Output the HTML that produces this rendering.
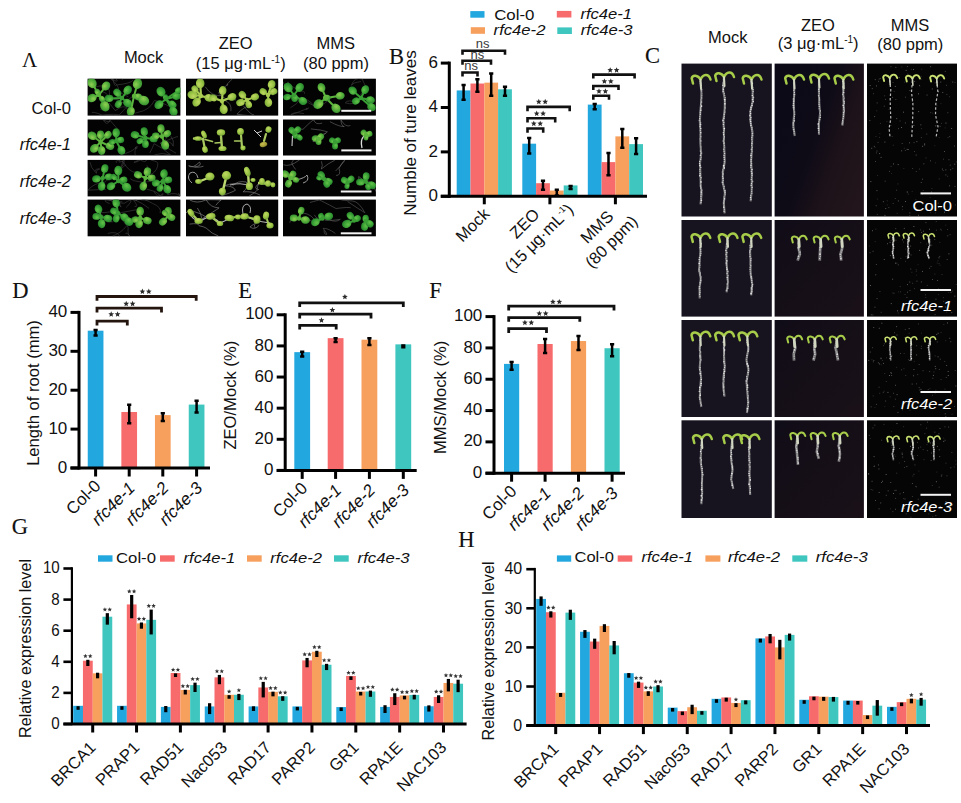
<!DOCTYPE html>
<html><head><meta charset="utf-8"><style>
html,body{margin:0;padding:0;background:#fff;overflow:hidden;}
svg{display:block;}
</style></head><body>
<svg width="961" height="803" viewBox="0 0 961 803">
<defs><radialGradient id="gG" cx="0.4" cy="0.35" r="0.7"><stop offset="0" stop-color="#62c249"/><stop offset="0.6" stop-color="#38a035"/><stop offset="1" stop-color="#247c2a"/></radialGradient><radialGradient id="gL" cx="0.4" cy="0.35" r="0.7"><stop offset="0" stop-color="#90cf52"/><stop offset="0.6" stop-color="#52ad3a"/><stop offset="1" stop-color="#358c30"/></radialGradient><radialGradient id="gY" cx="0.4" cy="0.35" r="0.7"><stop offset="0" stop-color="#bfd862"/><stop offset="0.6" stop-color="#98c244"/><stop offset="1" stop-color="#70a035"/></radialGradient><radialGradient id="gO" cx="0.4" cy="0.35" r="0.7"><stop offset="0" stop-color="#c8c050"/><stop offset="0.6" stop-color="#a8a038"/><stop offset="1" stop-color="#808028"/></radialGradient><linearGradient id="gZ2" x1="0" y1="0" x2="1" y2="1"><stop offset="0" stop-color="#100c17"/><stop offset="1" stop-color="#1a1118"/></linearGradient><linearGradient id="gZ" x1="0" y1="0.2" x2="1" y2="0.8"><stop offset="0" stop-color="#0c0a17"/><stop offset="0.45" stop-color="#0e0b17"/><stop offset="0.7" stop-color="#1d1219"/><stop offset="1" stop-color="#22161c"/></linearGradient><clipPath id="clipA"><rect x="87.6" y="78.7" width="92.8" height="36.9"/><rect x="87.6" y="119.5" width="92.8" height="36.0"/><rect x="87.6" y="159.9" width="92.8" height="36.5"/><rect x="87.6" y="199.6" width="92.8" height="36.7"/><rect x="186" y="78.7" width="92.2" height="36.9"/><rect x="186" y="119.5" width="92.2" height="36.0"/><rect x="186" y="159.9" width="92.2" height="36.5"/><rect x="186" y="199.6" width="92.2" height="36.7"/><rect x="283" y="78.7" width="92.9" height="36.9"/><rect x="283" y="119.5" width="92.9" height="36.0"/><rect x="283" y="159.9" width="92.9" height="36.5"/><rect x="283" y="199.6" width="92.9" height="36.7"/></clipPath><filter id="soft" x="-20%" y="-20%" width="140%" height="140%"><feGaussianBlur stdDeviation="0.45"/></filter></defs>
<rect width="961" height="803" fill="#fff"/>
<text x="12.30" y="297.90" font-size="22.5" text-anchor="start" fill="#111" style="font-family:'Liberation Serif', serif;" stroke="#111" stroke-width="0.15">D</text>
<rect x="87.75" y="330.68" width="15.70" height="137.32" fill="#23a7df"/>
<rect x="121.35" y="411.98" width="15.70" height="56.02" fill="#f86b6c"/>
<rect x="154.95" y="415.10" width="15.70" height="52.90" fill="#f7a05e"/>
<rect x="188.75" y="404.59" width="15.70" height="63.41" fill="#3ec6bf"/>
<path d="M95.60,329.96 V335.41 M93.50,329.96 H97.70 M93.50,335.41 H97.70" stroke="#000" stroke-width="2.5" fill="none"/>
<path d="M129.20,404.65 V423.32 M127.10,404.65 H131.30 M127.10,423.32 H131.30" stroke="#000" stroke-width="2.5" fill="none"/>
<path d="M162.80,413.21 V420.99 M160.70,413.21 H164.90 M160.70,420.99 H164.90" stroke="#000" stroke-width="2.5" fill="none"/>
<path d="M196.60,400.76 V412.43 M194.50,400.76 H198.70 M194.50,412.43 H198.70" stroke="#000" stroke-width="2.5" fill="none"/>
<line x1="79.00" y1="310.90" x2="79.00" y2="469.50" stroke="#000" stroke-width="3"/>
<line x1="70.50" y1="468.00" x2="79.00" y2="468.00" stroke="#000" stroke-width="3"/>
<text x="67.30" y="472.60" font-size="17" text-anchor="end" fill="#111" style="font-family:'Liberation Sans', sans-serif;">0</text>
<line x1="70.50" y1="429.10" x2="79.00" y2="429.10" stroke="#000" stroke-width="3"/>
<text x="67.30" y="433.70" font-size="17" text-anchor="end" fill="#111" style="font-family:'Liberation Sans', sans-serif;">10</text>
<line x1="70.50" y1="390.20" x2="79.00" y2="390.20" stroke="#000" stroke-width="3"/>
<text x="67.30" y="394.80" font-size="17" text-anchor="end" fill="#111" style="font-family:'Liberation Sans', sans-serif;">20</text>
<line x1="70.50" y1="351.30" x2="79.00" y2="351.30" stroke="#000" stroke-width="3"/>
<text x="67.30" y="355.90" font-size="17" text-anchor="end" fill="#111" style="font-family:'Liberation Sans', sans-serif;">30</text>
<line x1="70.50" y1="312.40" x2="79.00" y2="312.40" stroke="#000" stroke-width="3"/>
<text x="67.30" y="317.00" font-size="17" text-anchor="end" fill="#111" style="font-family:'Liberation Sans', sans-serif;">40</text>
<line x1="70.50" y1="468.00" x2="210.00" y2="468.00" stroke="#000" stroke-width="3"/>
<line x1="95.60" y1="468.00" x2="95.60" y2="476.50" stroke="#000" stroke-width="3"/>
<line x1="129.20" y1="468.00" x2="129.20" y2="476.50" stroke="#000" stroke-width="3"/>
<line x1="162.80" y1="468.00" x2="162.80" y2="476.50" stroke="#000" stroke-width="3"/>
<line x1="196.60" y1="468.00" x2="196.60" y2="476.50" stroke="#000" stroke-width="3"/>
<text x="101.80" y="487.00" font-size="17" text-anchor="end" fill="#111" style="font-family:'Liberation Sans', sans-serif;" transform="rotate(-45 101.80 487.00)">Col-0</text>
<text x="136.00" y="489.00" font-size="17" text-anchor="end" fill="#111" style="font-family:'Liberation Sans', sans-serif;font-style:italic;" transform="rotate(-45 136.00 489.00)">rfc4e-1</text>
<text x="169.60" y="489.00" font-size="17" text-anchor="end" fill="#111" style="font-family:'Liberation Sans', sans-serif;font-style:italic;" transform="rotate(-45 169.60 489.00)">rfc4e-2</text>
<text x="203.40" y="489.00" font-size="17" text-anchor="end" fill="#111" style="font-family:'Liberation Sans', sans-serif;font-style:italic;" transform="rotate(-45 203.40 489.00)">rfc4e-3</text>
<text x="38.50" y="393.00" font-size="16.6" text-anchor="middle" fill="#111" style="font-family:'Liberation Sans', sans-serif;" transform="rotate(-90 38.50 393.00)">Length of root (mm)</text>
<path d="M97.00,325.40 V321.20 H127.30 V325.40" fill="none" stroke="#24150f" stroke-width="2.8"/>
<polygon points="111.20,311.30 111.99,313.21 114.05,313.37 112.48,314.72 112.96,316.73 111.20,315.65 109.44,316.73 109.92,314.72 108.35,313.37 110.41,313.21" fill="#2a2a2a"/>
<polygon points="117.60,311.30 118.39,313.21 120.45,313.37 118.88,314.72 119.36,316.73 117.60,315.65 115.84,316.73 116.32,314.72 114.75,313.37 116.81,313.21" fill="#2a2a2a"/>
<path d="M97.00,312.40 V308.20 H161.50 V312.40" fill="none" stroke="#24150f" stroke-width="2.8"/>
<polygon points="126.20,300.80 126.99,302.71 129.05,302.87 127.48,304.22 127.96,306.23 126.20,305.15 124.44,306.23 124.92,304.22 123.35,302.87 125.41,302.71" fill="#2a2a2a"/>
<polygon points="132.60,300.80 133.39,302.71 135.45,302.87 133.88,304.22 134.36,306.23 132.60,305.15 130.84,306.23 131.32,304.22 129.75,302.87 131.81,302.71" fill="#2a2a2a"/>
<path d="M97.00,300.70 V296.50 H196.20 V300.70" fill="none" stroke="#24150f" stroke-width="2.8"/>
<polygon points="142.40,288.60 143.19,290.51 145.25,290.67 143.68,292.02 144.16,294.03 142.40,292.95 140.64,294.03 141.12,292.02 139.55,290.67 141.61,290.51" fill="#2a2a2a"/>
<polygon points="148.80,288.60 149.59,290.51 151.65,290.67 150.08,292.02 150.56,294.03 148.80,292.95 147.04,294.03 147.52,292.02 145.95,290.67 148.01,290.51" fill="#2a2a2a"/>
<text x="238.20" y="297.80" font-size="22.5" text-anchor="start" fill="#111" style="font-family:'Liberation Serif', serif;" stroke="#111" stroke-width="0.15">E</text>
<rect x="294.30" y="352.14" width="15.80" height="118.26" fill="#23a7df"/>
<rect x="327.70" y="338.14" width="15.80" height="132.26" fill="#f86b6c"/>
<rect x="361.50" y="339.70" width="15.80" height="130.70" fill="#f7a05e"/>
<rect x="395.40" y="344.36" width="15.80" height="126.04" fill="#3ec6bf"/>
<path d="M302.20,351.81 V356.48 M300.10,351.81 H304.30 M300.10,356.48 H304.30" stroke="#000" stroke-width="2.5" fill="none"/>
<path d="M335.60,338.27 V342.01 M333.50,338.27 H337.70 M333.50,342.01 H337.70" stroke="#000" stroke-width="2.5" fill="none"/>
<path d="M369.40,338.27 V345.12 M367.30,338.27 H371.50 M367.30,345.12 H371.50" stroke="#000" stroke-width="2.5" fill="none"/>
<path d="M403.30,345.43 V347.30 M401.20,345.43 H405.40 M401.20,347.30 H405.40" stroke="#000" stroke-width="2.5" fill="none"/>
<line x1="285.20" y1="313.30" x2="285.20" y2="471.90" stroke="#000" stroke-width="3"/>
<line x1="276.70" y1="470.40" x2="285.20" y2="470.40" stroke="#000" stroke-width="3"/>
<text x="273.50" y="475.00" font-size="17" text-anchor="end" fill="#111" style="font-family:'Liberation Sans', sans-serif;">0</text>
<line x1="276.70" y1="439.28" x2="285.20" y2="439.28" stroke="#000" stroke-width="3"/>
<text x="273.50" y="443.88" font-size="17" text-anchor="end" fill="#111" style="font-family:'Liberation Sans', sans-serif;">20</text>
<line x1="276.70" y1="408.16" x2="285.20" y2="408.16" stroke="#000" stroke-width="3"/>
<text x="273.50" y="412.76" font-size="17" text-anchor="end" fill="#111" style="font-family:'Liberation Sans', sans-serif;">40</text>
<line x1="276.70" y1="377.04" x2="285.20" y2="377.04" stroke="#000" stroke-width="3"/>
<text x="273.50" y="381.64" font-size="17" text-anchor="end" fill="#111" style="font-family:'Liberation Sans', sans-serif;">60</text>
<line x1="276.70" y1="345.92" x2="285.20" y2="345.92" stroke="#000" stroke-width="3"/>
<text x="273.50" y="350.52" font-size="17" text-anchor="end" fill="#111" style="font-family:'Liberation Sans', sans-serif;">80</text>
<line x1="276.70" y1="314.80" x2="285.20" y2="314.80" stroke="#000" stroke-width="3"/>
<text x="273.50" y="319.40" font-size="17" text-anchor="end" fill="#111" style="font-family:'Liberation Sans', sans-serif;">100</text>
<line x1="276.70" y1="470.40" x2="416.70" y2="470.40" stroke="#000" stroke-width="3"/>
<line x1="302.20" y1="470.40" x2="302.20" y2="478.90" stroke="#000" stroke-width="3"/>
<line x1="335.60" y1="470.40" x2="335.60" y2="478.90" stroke="#000" stroke-width="3"/>
<line x1="369.40" y1="470.40" x2="369.40" y2="478.90" stroke="#000" stroke-width="3"/>
<line x1="403.30" y1="470.40" x2="403.30" y2="478.90" stroke="#000" stroke-width="3"/>
<text x="308.40" y="489.40" font-size="17" text-anchor="end" fill="#111" style="font-family:'Liberation Sans', sans-serif;" transform="rotate(-45 308.40 489.40)">Col-0</text>
<text x="342.40" y="491.40" font-size="17" text-anchor="end" fill="#111" style="font-family:'Liberation Sans', sans-serif;font-style:italic;" transform="rotate(-45 342.40 491.40)">rfc4e-1</text>
<text x="376.20" y="491.40" font-size="17" text-anchor="end" fill="#111" style="font-family:'Liberation Sans', sans-serif;font-style:italic;" transform="rotate(-45 376.20 491.40)">rfc4e-2</text>
<text x="410.10" y="491.40" font-size="17" text-anchor="end" fill="#111" style="font-family:'Liberation Sans', sans-serif;font-style:italic;" transform="rotate(-45 410.10 491.40)">rfc4e-3</text>
<text x="235.80" y="395.20" font-size="16.6" text-anchor="middle" fill="#111" style="font-family:'Liberation Sans', sans-serif;" transform="rotate(-90 235.80 395.20)">ZEO/Mock (%)</text>
<path d="M299.70,329.60 V325.40 H336.20 V329.60" fill="none" stroke="#111" stroke-width="2.8"/>
<polygon points="321.50,317.30 322.29,319.21 324.35,319.37 322.78,320.72 323.26,322.73 321.50,321.65 319.74,322.73 320.22,320.72 318.65,319.37 320.71,319.21" fill="#2a2a2a"/>
<path d="M299.70,318.40 V314.20 H371.00 V318.40" fill="none" stroke="#111" stroke-width="2.8"/>
<polygon points="332.40,307.00 333.19,308.91 335.25,309.07 333.68,310.42 334.16,312.43 332.40,311.35 330.64,312.43 331.12,310.42 329.55,309.07 331.61,308.91" fill="#2a2a2a"/>
<path d="M299.70,307.00 V302.80 H403.30 V307.00" fill="none" stroke="#111" stroke-width="2.8"/>
<polygon points="344.90,293.90 345.69,295.81 347.75,295.97 346.18,297.32 346.66,299.33 344.90,298.25 343.14,299.33 343.62,297.32 342.05,295.97 344.11,295.81" fill="#2a2a2a"/>
<text x="429.20" y="297.70" font-size="22.5" text-anchor="start" fill="#111" style="font-family:'Liberation Serif', serif;" stroke="#111" stroke-width="0.15">F</text>
<rect x="504.00" y="363.89" width="15.20" height="109.31" fill="#23a7df"/>
<rect x="537.50" y="344.00" width="15.20" height="129.19" fill="#f86b6c"/>
<rect x="570.90" y="341.03" width="15.20" height="132.17" fill="#f7a05e"/>
<rect x="604.50" y="348.23" width="15.20" height="124.97" fill="#3ec6bf"/>
<path d="M511.60,361.98 V369.81 M509.50,361.98 H513.70 M509.50,369.81 H513.70" stroke="#000" stroke-width="2.5" fill="none"/>
<path d="M545.10,338.96 V353.05 M543.00,338.96 H547.20 M543.00,353.05 H547.20" stroke="#000" stroke-width="2.5" fill="none"/>
<path d="M578.50,335.98 V350.08 M576.40,335.98 H580.60 M576.40,350.08 H580.60" stroke="#000" stroke-width="2.5" fill="none"/>
<path d="M612.10,344.28 V356.18 M610.00,344.28 H614.20 M610.00,356.18 H614.20" stroke="#000" stroke-width="2.5" fill="none"/>
<line x1="494.00" y1="315.10" x2="494.00" y2="474.70" stroke="#000" stroke-width="3"/>
<line x1="485.50" y1="473.20" x2="494.00" y2="473.20" stroke="#000" stroke-width="3"/>
<text x="482.30" y="477.80" font-size="17" text-anchor="end" fill="#111" style="font-family:'Liberation Sans', sans-serif;">0</text>
<line x1="485.50" y1="441.88" x2="494.00" y2="441.88" stroke="#000" stroke-width="3"/>
<text x="482.30" y="446.48" font-size="17" text-anchor="end" fill="#111" style="font-family:'Liberation Sans', sans-serif;">20</text>
<line x1="485.50" y1="410.56" x2="494.00" y2="410.56" stroke="#000" stroke-width="3"/>
<text x="482.30" y="415.16" font-size="17" text-anchor="end" fill="#111" style="font-family:'Liberation Sans', sans-serif;">40</text>
<line x1="485.50" y1="379.24" x2="494.00" y2="379.24" stroke="#000" stroke-width="3"/>
<text x="482.30" y="383.84" font-size="17" text-anchor="end" fill="#111" style="font-family:'Liberation Sans', sans-serif;">60</text>
<line x1="485.50" y1="347.92" x2="494.00" y2="347.92" stroke="#000" stroke-width="3"/>
<text x="482.30" y="352.52" font-size="17" text-anchor="end" fill="#111" style="font-family:'Liberation Sans', sans-serif;">80</text>
<line x1="485.50" y1="316.60" x2="494.00" y2="316.60" stroke="#000" stroke-width="3"/>
<text x="482.30" y="321.20" font-size="17" text-anchor="end" fill="#111" style="font-family:'Liberation Sans', sans-serif;">100</text>
<line x1="485.50" y1="473.20" x2="625.00" y2="473.20" stroke="#000" stroke-width="3"/>
<line x1="511.60" y1="473.20" x2="511.60" y2="481.70" stroke="#000" stroke-width="3"/>
<line x1="545.10" y1="473.20" x2="545.10" y2="481.70" stroke="#000" stroke-width="3"/>
<line x1="578.50" y1="473.20" x2="578.50" y2="481.70" stroke="#000" stroke-width="3"/>
<line x1="612.10" y1="473.20" x2="612.10" y2="481.70" stroke="#000" stroke-width="3"/>
<text x="517.80" y="492.20" font-size="17" text-anchor="end" fill="#111" style="font-family:'Liberation Sans', sans-serif;" transform="rotate(-45 517.80 492.20)">Col-0</text>
<text x="551.90" y="494.20" font-size="17" text-anchor="end" fill="#111" style="font-family:'Liberation Sans', sans-serif;font-style:italic;" transform="rotate(-45 551.90 494.20)">rfc4e-1</text>
<text x="585.30" y="494.20" font-size="17" text-anchor="end" fill="#111" style="font-family:'Liberation Sans', sans-serif;font-style:italic;" transform="rotate(-45 585.30 494.20)">rfc4e-2</text>
<text x="618.90" y="494.20" font-size="17" text-anchor="end" fill="#111" style="font-family:'Liberation Sans', sans-serif;font-style:italic;" transform="rotate(-45 618.90 494.20)">rfc4e-3</text>
<text x="445.90" y="397.40" font-size="16.6" text-anchor="middle" fill="#111" style="font-family:'Liberation Sans', sans-serif;" transform="rotate(-90 445.90 397.40)">MMS/Mock (%)</text>
<path d="M508.70,332.90 V328.70 H546.50 V332.90" fill="none" stroke="#111" stroke-width="2.8"/>
<polygon points="524.90,319.70 525.69,321.61 527.75,321.77 526.18,323.12 526.66,325.13 524.90,324.05 523.14,325.13 523.62,323.12 522.05,321.77 524.11,321.61" fill="#2a2a2a"/>
<polygon points="531.30,319.70 532.09,321.61 534.15,321.77 532.58,323.12 533.06,325.13 531.30,324.05 529.54,325.13 530.02,323.12 528.45,321.77 530.51,321.61" fill="#2a2a2a"/>
<path d="M508.70,321.80 V317.60 H579.80 V321.80" fill="none" stroke="#111" stroke-width="2.8"/>
<polygon points="539.30,310.50 540.09,312.41 542.15,312.57 540.58,313.92 541.06,315.93 539.30,314.85 537.54,315.93 538.02,313.92 536.45,312.57 538.51,312.41" fill="#2a2a2a"/>
<polygon points="545.70,310.50 546.49,312.41 548.55,312.57 546.98,313.92 547.46,315.93 545.70,314.85 543.94,315.93 544.42,313.92 542.85,312.57 544.91,312.41" fill="#2a2a2a"/>
<path d="M508.70,310.40 V306.20 H614.00 V310.40" fill="none" stroke="#111" stroke-width="2.8"/>
<polygon points="552.90,298.90 553.69,300.81 555.75,300.97 554.18,302.32 554.66,304.33 552.90,303.25 551.14,304.33 551.62,302.32 550.05,300.97 552.11,300.81" fill="#2a2a2a"/>
<polygon points="559.30,298.90 560.09,300.81 562.15,300.97 560.58,302.32 561.06,304.33 559.30,303.25 557.54,304.33 558.02,302.32 556.45,300.97 558.51,300.81" fill="#2a2a2a"/>
<text x="389.00" y="63.80" font-size="22.5" text-anchor="start" fill="#111" style="font-family:'Liberation Serif', serif;" stroke="#111" stroke-width="0.15">B</text>
<rect x="470.30" y="11.10" width="14.20" height="6.60" fill="#23a7df"/>
<text x="494.20" y="19.60" font-size="15" text-anchor="start" fill="#111" style="font-family:'Liberation Sans', sans-serif;" textLength="40.3" lengthAdjust="spacingAndGlyphs">Col-0</text>
<rect x="470.80" y="27.20" width="14.20" height="6.60" fill="#f7a05e"/>
<text x="493.60" y="34.70" font-size="15" text-anchor="start" fill="#111" style="font-family:'Liberation Sans', sans-serif;font-style:italic;" textLength="51.8" lengthAdjust="spacingAndGlyphs">rfc4e-2</text>
<rect x="556.80" y="10.90" width="14.60" height="6.60" fill="#f86b6c"/>
<text x="580.40" y="19.20" font-size="15" text-anchor="start" fill="#111" style="font-family:'Liberation Sans', sans-serif;font-style:italic;" textLength="51.6" lengthAdjust="spacingAndGlyphs">rfc4e-1</text>
<rect x="557.30" y="27.40" width="14.60" height="6.60" fill="#3ec6bf"/>
<text x="580.80" y="34.70" font-size="15" text-anchor="start" fill="#111" style="font-family:'Liberation Sans', sans-serif;font-style:italic;" textLength="51.8" lengthAdjust="spacingAndGlyphs">rfc4e-3</text>
<rect x="456.70" y="90.41" width="13.80" height="105.89" fill="#23a7df"/>
<rect x="470.50" y="83.52" width="13.80" height="112.78" fill="#f86b6c"/>
<rect x="484.30" y="82.64" width="13.80" height="113.66" fill="#f7a05e"/>
<rect x="498.10" y="89.30" width="13.80" height="107.00" fill="#3ec6bf"/>
<path d="M463.60,85.08 V99.73 M461.50,85.08 H465.70 M461.50,99.73 H465.70" stroke="#000" stroke-width="2.5" fill="none"/>
<path d="M477.40,79.31 V91.74 M475.30,79.31 H479.50 M475.30,91.74 H479.50" stroke="#000" stroke-width="2.5" fill="none"/>
<path d="M491.20,73.54 V95.74 M489.10,73.54 H493.30 M489.10,95.74 H493.30" stroke="#000" stroke-width="2.5" fill="none"/>
<path d="M505.00,86.86 V95.74 M502.90,86.86 H507.10 M502.90,95.74 H507.10" stroke="#000" stroke-width="2.5" fill="none"/>
<rect x="522.30" y="143.69" width="13.80" height="52.61" fill="#23a7df"/>
<rect x="536.10" y="183.20" width="13.80" height="13.10" fill="#f86b6c"/>
<rect x="549.90" y="190.53" width="13.80" height="5.77" fill="#f7a05e"/>
<rect x="563.70" y="185.42" width="13.80" height="10.88" fill="#3ec6bf"/>
<path d="M529.20,137.92 V153.46 M527.10,137.92 H531.30 M527.10,153.46 H531.30" stroke="#000" stroke-width="2.5" fill="none"/>
<path d="M543.00,180.76 V189.64 M540.90,180.76 H545.10 M540.90,189.64 H545.10" stroke="#000" stroke-width="2.5" fill="none"/>
<path d="M556.80,189.64 V195.41 M554.70,189.64 H558.90 M554.70,195.41 H558.90" stroke="#000" stroke-width="2.5" fill="none"/>
<path d="M570.60,185.92 V188.92 M568.50,185.92 H572.70 M568.50,188.92 H572.70" stroke="#000" stroke-width="2.5" fill="none"/>
<rect x="587.80" y="104.61" width="13.80" height="91.69" fill="#23a7df"/>
<rect x="601.60" y="162.11" width="13.80" height="34.19" fill="#f86b6c"/>
<rect x="615.40" y="136.36" width="13.80" height="59.94" fill="#f7a05e"/>
<rect x="629.20" y="144.13" width="13.80" height="52.17" fill="#3ec6bf"/>
<path d="M594.70,103.95 V109.28 M592.60,103.95 H596.80 M592.60,109.28 H596.80" stroke="#000" stroke-width="2.5" fill="none"/>
<path d="M608.50,153.01 V175.21 M606.40,153.01 H610.60 M606.40,175.21 H610.60" stroke="#000" stroke-width="2.5" fill="none"/>
<path d="M622.30,129.04 V147.68 M620.20,129.04 H624.40 M620.20,147.68 H624.40" stroke="#000" stroke-width="2.5" fill="none"/>
<path d="M636.10,138.36 V153.90 M634.00,138.36 H638.20 M634.00,153.90 H638.20" stroke="#000" stroke-width="2.5" fill="none"/>
<line x1="449.30" y1="61.60" x2="449.30" y2="197.80" stroke="#000" stroke-width="3"/>
<line x1="440.80" y1="196.30" x2="449.30" y2="196.30" stroke="#000" stroke-width="3"/>
<text x="438.00" y="200.90" font-size="17" text-anchor="end" fill="#111" style="font-family:'Liberation Sans', sans-serif;">0</text>
<line x1="440.80" y1="151.90" x2="449.30" y2="151.90" stroke="#000" stroke-width="3"/>
<text x="438.00" y="156.50" font-size="17" text-anchor="end" fill="#111" style="font-family:'Liberation Sans', sans-serif;">2</text>
<line x1="440.80" y1="107.50" x2="449.30" y2="107.50" stroke="#000" stroke-width="3"/>
<text x="438.00" y="112.10" font-size="17" text-anchor="end" fill="#111" style="font-family:'Liberation Sans', sans-serif;">4</text>
<line x1="440.80" y1="63.10" x2="449.30" y2="63.10" stroke="#000" stroke-width="3"/>
<text x="438.00" y="67.70" font-size="17" text-anchor="end" fill="#111" style="font-family:'Liberation Sans', sans-serif;">6</text>
<line x1="440.80" y1="196.30" x2="647.00" y2="196.30" stroke="#000" stroke-width="3"/>
<line x1="484.30" y1="196.30" x2="484.30" y2="204.30" stroke="#000" stroke-width="3"/>
<line x1="549.90" y1="196.30" x2="549.90" y2="204.30" stroke="#000" stroke-width="3"/>
<line x1="615.40" y1="196.30" x2="615.40" y2="204.30" stroke="#000" stroke-width="3"/>
<text x="416.30" y="133.00" font-size="17" text-anchor="middle" fill="#111" style="font-family:'Liberation Sans', sans-serif;" transform="rotate(-90 416.30 133.00)">Numble of ture leaves</text>
<text x="490.50" y="215.00" font-size="16.5" text-anchor="end" fill="#111" style="font-family:'Liberation Sans', sans-serif;" transform="rotate(-45 490.50 215.00)">Mock</text>
<text x="540.50" y="215.50" font-size="16.5" text-anchor="end" fill="#111" style="font-family:'Liberation Sans', sans-serif;" transform="rotate(-45 540.50 215.50)">ZEO</text>
<text x="574.50" y="210.50" font-size="16.5" text-anchor="end" fill="#111" style="font-family:'Liberation Sans', sans-serif;" transform="rotate(-45 574.50 210.50)">(15 μg·mL<tspan font-size="9" dy="-6.5">-1</tspan><tspan dy="6.5" style="font-weight:300">)</tspan></text>
<text x="614.50" y="217.40" font-size="16.5" text-anchor="end" fill="#111" style="font-family:'Liberation Sans', sans-serif;" transform="rotate(-45 614.50 217.40)">MMS</text>
<text x="638.60" y="222.40" font-size="16.5" text-anchor="end" fill="#111" style="font-family:'Liberation Sans', sans-serif;" transform="rotate(-45 638.60 222.40)">(80 ppm)</text>
<path d="M462.50,76.50 V72.50 H477.50 V76.50" fill="none" stroke="#111" stroke-width="2.6"/>
<text x="471.10" y="70.20" font-size="13" text-anchor="middle" fill="#3a3a3a" style="font-family:'Liberation Sans', sans-serif;">ns</text>
<path d="M462.50,64.70 V60.70 H491.00 V64.70" fill="none" stroke="#111" stroke-width="2.6"/>
<text x="477.30" y="58.90" font-size="13" text-anchor="middle" fill="#3a3a3a" style="font-family:'Liberation Sans', sans-serif;">ns</text>
<path d="M462.50,54.70 V50.70 H505.00 V54.70" fill="none" stroke="#111" stroke-width="2.6"/>
<text x="482.60" y="48.00" font-size="13" text-anchor="middle" fill="#3a3a3a" style="font-family:'Liberation Sans', sans-serif;">ns</text>
<path d="M527.50,132.80 V128.50 H543.20 V132.80" fill="none" stroke="#111" stroke-width="2.6"/>
<polygon points="533.80,120.70 534.59,122.61 536.65,122.77 535.08,124.12 535.56,126.13 533.80,125.05 532.04,126.13 532.52,124.12 530.95,122.77 533.01,122.61" fill="#2a2a2a"/>
<polygon points="540.20,120.70 540.99,122.61 543.05,122.77 541.48,124.12 541.96,126.13 540.20,125.05 538.44,126.13 538.92,124.12 537.35,122.77 539.41,122.61" fill="#2a2a2a"/>
<path d="M527.50,122.60 V118.30 H555.20 V122.60" fill="none" stroke="#111" stroke-width="2.6"/>
<polygon points="536.70,110.60 537.49,112.51 539.55,112.67 537.98,114.02 538.46,116.03 536.70,114.95 534.94,116.03 535.42,114.02 533.85,112.67 535.91,112.51" fill="#2a2a2a"/>
<polygon points="543.10,110.60 543.89,112.51 545.95,112.67 544.38,114.02 544.86,116.03 543.10,114.95 541.34,116.03 541.82,114.02 540.25,112.67 542.31,112.51" fill="#2a2a2a"/>
<path d="M527.50,111.20 V106.90 H569.70 V111.20" fill="none" stroke="#111" stroke-width="2.6"/>
<polygon points="538.80,98.80 539.59,100.71 541.65,100.87 540.08,102.22 540.56,104.23 538.80,103.15 537.04,104.23 537.52,102.22 535.95,100.87 538.01,100.71" fill="#2a2a2a"/>
<polygon points="545.20,98.80 545.99,100.71 548.05,100.87 546.48,102.22 546.96,104.23 545.20,103.15 543.44,104.23 543.92,102.22 542.35,100.87 544.41,100.71" fill="#2a2a2a"/>
<path d="M593.30,99.70 V95.70 H609.00 V99.70" fill="none" stroke="#111" stroke-width="2.6"/>
<polygon points="599.00,88.30 599.79,90.21 601.85,90.37 600.28,91.72 600.76,93.73 599.00,92.65 597.24,93.73 597.72,91.72 596.15,90.37 598.21,90.21" fill="#2a2a2a"/>
<polygon points="605.40,88.30 606.19,90.21 608.25,90.37 606.68,91.72 607.16,93.73 605.40,92.65 603.64,93.73 604.12,91.72 602.55,90.37 604.61,90.21" fill="#2a2a2a"/>
<path d="M593.30,90.00 V86.00 H618.50 V90.00" fill="none" stroke="#111" stroke-width="2.6"/>
<polygon points="604.40,78.40 605.19,80.31 607.25,80.47 605.68,81.82 606.16,83.83 604.40,82.75 602.64,83.83 603.12,81.82 601.55,80.47 603.61,80.31" fill="#2a2a2a"/>
<polygon points="610.80,78.40 611.59,80.31 613.65,80.47 612.08,81.82 612.56,83.83 610.80,82.75 609.04,83.83 609.52,81.82 607.95,80.47 610.01,80.31" fill="#2a2a2a"/>
<path d="M593.30,78.60 V74.60 H634.60 V78.60" fill="none" stroke="#111" stroke-width="2.6"/>
<polygon points="610.20,67.20 610.99,69.11 613.05,69.27 611.48,70.62 611.96,72.63 610.20,71.55 608.44,72.63 608.92,70.62 607.35,69.27 609.41,69.11" fill="#2a2a2a"/>
<polygon points="616.60,67.20 617.39,69.11 619.45,69.27 617.88,70.62 618.36,72.63 616.60,71.55 614.84,72.63 615.32,70.62 613.75,69.27 615.81,69.11" fill="#2a2a2a"/>
<text x="11.80" y="533.70" font-size="22.5" text-anchor="start" fill="#111" style="font-family:'Liberation Serif', serif;" stroke="#111" stroke-width="0.15">G</text>
<rect x="98.00" y="555.30" width="14.50" height="6.40" fill="#23a7df"/>
<text x="116.00" y="563.30" font-size="15" text-anchor="start" fill="#111" style="font-family:'Liberation Sans', sans-serif;" textLength="40.0" lengthAdjust="spacingAndGlyphs">Col-0</text>
<rect x="160.00" y="555.30" width="14.70" height="6.40" fill="#f86b6c"/>
<text x="183.60" y="563.30" font-size="15" text-anchor="start" fill="#111" style="font-family:'Liberation Sans', sans-serif;font-style:italic;" textLength="51.6" lengthAdjust="spacingAndGlyphs">rfc4e-1</text>
<rect x="247.00" y="555.30" width="14.70" height="6.40" fill="#f7a05e"/>
<text x="270.30" y="563.30" font-size="15" text-anchor="start" fill="#111" style="font-family:'Liberation Sans', sans-serif;font-style:italic;" textLength="51.6" lengthAdjust="spacingAndGlyphs">rfc4e-2</text>
<rect x="334.00" y="555.30" width="14.70" height="6.40" fill="#3ec6bf"/>
<text x="357.60" y="563.30" font-size="15" text-anchor="start" fill="#111" style="font-family:'Liberation Sans', sans-serif;font-style:italic;" textLength="52.0" lengthAdjust="spacingAndGlyphs">rfc4e-3</text>
<rect x="73.20" y="705.81" width="9.80" height="18.19" fill="#23a7df"/>
<rect x="82.95" y="660.71" width="9.80" height="63.29" fill="#f86b6c"/>
<rect x="92.70" y="673.31" width="9.80" height="50.69" fill="#f7a05e"/>
<rect x="102.45" y="616.70" width="9.80" height="107.30" fill="#3ec6bf"/>
<rect x="117.05" y="705.81" width="9.80" height="18.19" fill="#23a7df"/>
<rect x="126.80" y="604.42" width="9.80" height="119.58" fill="#f86b6c"/>
<rect x="136.55" y="623.39" width="9.80" height="100.61" fill="#f7a05e"/>
<rect x="146.30" y="619.82" width="9.80" height="104.18" fill="#3ec6bf"/>
<rect x="160.90" y="706.89" width="9.80" height="17.11" fill="#23a7df"/>
<rect x="170.65" y="673.00" width="9.80" height="51.00" fill="#f86b6c"/>
<rect x="180.40" y="689.95" width="9.80" height="34.05" fill="#f7a05e"/>
<rect x="190.15" y="685.12" width="9.80" height="38.88" fill="#3ec6bf"/>
<rect x="204.75" y="706.43" width="9.80" height="17.57" fill="#23a7df"/>
<rect x="214.50" y="677.35" width="9.80" height="46.65" fill="#f86b6c"/>
<rect x="224.25" y="694.77" width="9.80" height="29.23" fill="#f7a05e"/>
<rect x="234.00" y="694.77" width="9.80" height="29.23" fill="#3ec6bf"/>
<rect x="248.60" y="706.43" width="9.80" height="17.57" fill="#23a7df"/>
<rect x="258.35" y="687.46" width="9.80" height="36.54" fill="#f86b6c"/>
<rect x="268.10" y="691.81" width="9.80" height="32.19" fill="#f7a05e"/>
<rect x="277.85" y="696.32" width="9.80" height="27.68" fill="#3ec6bf"/>
<rect x="292.45" y="706.43" width="9.80" height="17.57" fill="#23a7df"/>
<rect x="302.20" y="660.40" width="9.80" height="63.60" fill="#f86b6c"/>
<rect x="311.95" y="651.69" width="9.80" height="72.31" fill="#f7a05e"/>
<rect x="321.70" y="664.75" width="9.80" height="59.25" fill="#3ec6bf"/>
<rect x="336.30" y="707.05" width="9.80" height="16.95" fill="#23a7df"/>
<rect x="346.05" y="675.95" width="9.80" height="48.05" fill="#f86b6c"/>
<rect x="355.80" y="691.50" width="9.80" height="32.50" fill="#f7a05e"/>
<rect x="365.55" y="691.50" width="9.80" height="32.50" fill="#3ec6bf"/>
<rect x="380.15" y="706.89" width="9.80" height="17.11" fill="#23a7df"/>
<rect x="389.90" y="696.94" width="9.80" height="27.06" fill="#f86b6c"/>
<rect x="399.65" y="695.39" width="9.80" height="28.61" fill="#f7a05e"/>
<rect x="409.40" y="694.92" width="9.80" height="29.08" fill="#3ec6bf"/>
<rect x="424.00" y="706.27" width="9.80" height="17.73" fill="#23a7df"/>
<rect x="433.75" y="696.94" width="9.80" height="27.06" fill="#f86b6c"/>
<rect x="443.50" y="682.95" width="9.80" height="41.05" fill="#f7a05e"/>
<rect x="453.25" y="683.73" width="9.80" height="40.27" fill="#3ec6bf"/>
<line x1="78.08" y1="706.21" x2="78.08" y2="709.81" stroke="#000" stroke-width="3.2"/>
<line x1="87.83" y1="659.80" x2="87.83" y2="666.02" stroke="#000" stroke-width="3.2"/>
<polygon points="85.42,653.85 86.05,655.35 87.66,655.48 86.43,656.53 86.81,658.10 85.42,657.26 84.04,658.10 84.42,656.53 83.19,655.48 84.80,655.35" fill="#333"/>
<polygon points="90.22,653.85 90.85,655.35 92.46,655.48 91.23,656.53 91.61,658.10 90.22,657.26 88.84,658.10 89.22,656.53 87.99,655.48 89.60,655.35" fill="#333"/>
<line x1="97.58" y1="672.71" x2="97.58" y2="678.31" stroke="#000" stroke-width="3.2"/>
<line x1="107.33" y1="613.15" x2="107.33" y2="624.66" stroke="#000" stroke-width="3.2"/>
<polygon points="104.92,607.20 105.55,608.70 107.16,608.83 105.93,609.88 106.31,611.45 104.92,610.61 103.54,611.45 103.92,609.88 102.69,608.83 104.30,608.70" fill="#333"/>
<polygon points="109.72,607.20 110.35,608.70 111.96,608.83 110.73,609.88 111.11,611.45 109.72,610.61 108.34,611.45 108.72,609.88 107.49,608.83 109.10,608.70" fill="#333"/>
<line x1="121.93" y1="706.21" x2="121.93" y2="709.81" stroke="#000" stroke-width="3.2"/>
<line x1="131.68" y1="594.96" x2="131.68" y2="618.28" stroke="#000" stroke-width="3.2"/>
<polygon points="129.28,589.01 129.90,590.50 131.51,590.63 130.28,591.68 130.66,593.26 129.28,592.42 127.89,593.26 128.27,591.68 127.04,590.63 128.65,590.50" fill="#333"/>
<polygon points="134.08,589.01 134.70,590.50 136.31,590.63 135.08,591.68 135.46,593.26 134.08,592.42 132.69,593.26 133.07,591.68 131.84,590.63 133.45,590.50" fill="#333"/>
<line x1="141.43" y1="622.48" x2="141.43" y2="628.70" stroke="#000" stroke-width="3.2"/>
<polygon points="139.03,616.53 139.65,618.03 141.26,618.16 140.03,619.21 140.41,620.78 139.03,619.94 137.64,620.78 138.02,619.21 136.79,618.16 138.40,618.03" fill="#333"/>
<polygon points="143.83,616.53 144.45,618.03 146.06,618.16 144.83,619.21 145.21,620.78 143.83,619.94 142.44,620.78 142.82,619.21 141.59,618.16 143.20,618.03" fill="#333"/>
<line x1="151.18" y1="609.58" x2="151.18" y2="634.46" stroke="#000" stroke-width="3.2"/>
<polygon points="148.78,603.62 149.40,605.12 151.01,605.25 149.78,606.30 150.16,607.88 148.78,607.03 147.39,607.88 147.77,606.30 146.54,605.25 148.15,605.12" fill="#333"/>
<polygon points="153.58,603.62 154.20,605.12 155.81,605.25 154.58,606.30 154.96,607.88 153.58,607.03 152.19,607.88 152.57,606.30 151.34,605.25 152.95,605.12" fill="#333"/>
<line x1="165.78" y1="705.99" x2="165.78" y2="712.21" stroke="#000" stroke-width="3.2"/>
<line x1="175.53" y1="673.40" x2="175.53" y2="677.00" stroke="#000" stroke-width="3.2"/>
<polygon points="173.12,667.45 173.75,668.94 175.36,669.07 174.13,670.12 174.51,671.70 173.12,670.85 171.74,671.70 172.12,670.12 170.89,669.07 172.50,668.94" fill="#333"/>
<polygon points="177.93,667.45 178.55,668.94 180.16,669.07 178.93,670.12 179.31,671.70 177.93,670.85 176.54,671.70 176.92,670.12 175.69,669.07 177.30,668.94" fill="#333"/>
<line x1="185.28" y1="689.81" x2="185.28" y2="694.48" stroke="#000" stroke-width="3.2"/>
<polygon points="182.88,683.86 183.50,685.36 185.11,685.49 183.88,686.54 184.26,688.11 182.88,687.27 181.49,688.11 181.87,686.54 180.64,685.49 182.25,685.36" fill="#333"/>
<polygon points="187.68,683.86 188.30,685.36 189.91,685.49 188.68,686.54 189.06,688.11 187.68,687.27 186.29,688.11 186.67,686.54 185.44,685.49 187.05,685.36" fill="#333"/>
<line x1="195.03" y1="682.66" x2="195.03" y2="691.99" stroke="#000" stroke-width="3.2"/>
<polygon points="192.62,676.71 193.25,678.20 194.86,678.33 193.63,679.39 194.01,680.96 192.62,680.12 191.24,680.96 191.62,679.39 190.39,678.33 192.00,678.20" fill="#333"/>
<polygon points="197.43,676.71 198.05,678.20 199.66,678.33 198.43,679.39 198.81,680.96 197.43,680.12 196.04,680.96 196.42,679.39 195.19,678.33 196.80,678.20" fill="#333"/>
<line x1="209.62" y1="703.19" x2="209.62" y2="714.07" stroke="#000" stroke-width="3.2"/>
<line x1="219.38" y1="674.89" x2="219.38" y2="684.22" stroke="#000" stroke-width="3.2"/>
<polygon points="216.97,668.94 217.60,670.43 219.21,670.56 217.98,671.61 218.36,673.19 216.97,672.34 215.59,673.19 215.97,671.61 214.74,670.56 216.35,670.43" fill="#333"/>
<polygon points="221.78,668.94 222.40,670.43 224.01,670.56 222.78,671.61 223.16,673.19 221.78,672.34 220.39,673.19 220.77,671.61 219.54,670.56 221.15,670.43" fill="#333"/>
<line x1="229.12" y1="695.17" x2="229.12" y2="698.77" stroke="#000" stroke-width="3.2"/>
<polygon points="229.12,689.22 229.75,690.71 231.36,690.84 230.13,691.89 230.51,693.47 229.12,692.62 227.74,693.47 228.12,691.89 226.89,690.84 228.50,690.71" fill="#333"/>
<line x1="238.88" y1="693.86" x2="238.88" y2="700.08" stroke="#000" stroke-width="3.2"/>
<polygon points="238.88,687.91 239.50,689.40 241.11,689.53 239.88,690.58 240.26,692.16 238.88,691.31 237.49,692.16 237.87,690.58 236.64,689.53 238.25,689.40" fill="#333"/>
<line x1="253.48" y1="706.30" x2="253.48" y2="710.96" stroke="#000" stroke-width="3.2"/>
<line x1="263.23" y1="681.88" x2="263.23" y2="697.43" stroke="#000" stroke-width="3.2"/>
<polygon points="260.83,675.93 261.45,677.43 263.06,677.56 261.83,678.61 262.21,680.18 260.83,679.34 259.44,680.18 259.82,678.61 258.59,677.56 260.20,677.43" fill="#333"/>
<polygon points="265.63,675.93 266.25,677.43 267.86,677.56 266.63,678.61 267.01,680.18 265.63,679.34 264.24,680.18 264.62,678.61 263.39,677.56 265.00,677.43" fill="#333"/>
<line x1="272.98" y1="691.68" x2="272.98" y2="696.34" stroke="#000" stroke-width="3.2"/>
<polygon points="270.58,685.73 271.20,687.22 272.81,687.35 271.58,688.41 271.96,689.98 270.58,689.14 269.19,689.98 269.57,688.41 268.34,687.35 269.95,687.22" fill="#333"/>
<polygon points="275.38,685.73 276.00,687.22 277.61,687.35 276.38,688.41 276.76,689.98 275.38,689.14 273.99,689.98 274.37,688.41 273.14,687.35 274.75,687.22" fill="#333"/>
<line x1="282.73" y1="696.19" x2="282.73" y2="700.85" stroke="#000" stroke-width="3.2"/>
<polygon points="280.33,690.24 280.95,691.73 282.56,691.86 281.33,692.92 281.71,694.49 280.33,693.65 278.94,694.49 279.32,692.92 278.09,691.86 279.70,691.73" fill="#333"/>
<polygon points="285.13,690.24 285.75,691.73 287.36,691.86 286.13,692.92 286.51,694.49 285.13,693.65 283.74,694.49 284.12,692.92 282.89,691.86 284.50,691.73" fill="#333"/>
<line x1="297.32" y1="706.83" x2="297.32" y2="710.43" stroke="#000" stroke-width="3.2"/>
<line x1="307.07" y1="657.94" x2="307.07" y2="667.27" stroke="#000" stroke-width="3.2"/>
<polygon points="304.68,651.99 305.30,653.48 306.91,653.61 305.68,654.66 306.06,656.24 304.68,655.39 303.29,656.24 303.67,654.66 302.44,653.61 304.05,653.48" fill="#333"/>
<polygon points="309.48,651.99 310.10,653.48 311.71,653.61 310.48,654.66 310.86,656.24 309.48,655.39 308.09,656.24 308.47,654.66 307.24,653.61 308.85,653.48" fill="#333"/>
<line x1="316.82" y1="650.78" x2="316.82" y2="657.00" stroke="#000" stroke-width="3.2"/>
<polygon points="314.43,644.83 315.05,646.33 316.66,646.46 315.43,647.51 315.81,649.08 314.43,648.24 313.04,649.08 313.42,647.51 312.19,646.46 313.80,646.33" fill="#333"/>
<polygon points="319.23,644.83 319.85,646.33 321.46,646.46 320.23,647.51 320.61,649.08 319.23,648.24 317.84,649.08 318.22,647.51 316.99,646.46 318.60,646.33" fill="#333"/>
<line x1="326.57" y1="663.84" x2="326.57" y2="670.06" stroke="#000" stroke-width="3.2"/>
<polygon points="324.18,657.89 324.80,659.39 326.41,659.52 325.18,660.57 325.56,662.15 324.18,661.30 322.79,662.15 323.17,660.57 321.94,659.52 323.55,659.39" fill="#333"/>
<polygon points="328.98,657.89 329.60,659.39 331.21,659.52 329.98,660.57 330.36,662.15 328.98,661.30 327.59,662.15 327.97,660.57 326.74,659.52 328.35,659.39" fill="#333"/>
<line x1="341.18" y1="707.45" x2="341.18" y2="711.05" stroke="#000" stroke-width="3.2"/>
<line x1="350.93" y1="676.35" x2="350.93" y2="679.95" stroke="#000" stroke-width="3.2"/>
<polygon points="348.53,670.40 349.15,671.89 350.76,672.02 349.53,673.08 349.91,674.65 348.53,673.81 347.14,674.65 347.52,673.08 346.29,672.02 347.90,671.89" fill="#333"/>
<polygon points="353.33,670.40 353.95,671.89 355.56,672.02 354.33,673.08 354.71,674.65 353.33,673.81 351.94,674.65 352.32,673.08 351.09,672.02 352.70,671.89" fill="#333"/>
<line x1="360.68" y1="691.90" x2="360.68" y2="695.50" stroke="#000" stroke-width="3.2"/>
<polygon points="358.28,685.95 358.90,687.44 360.51,687.57 359.28,688.63 359.66,690.20 358.28,689.36 356.89,690.20 357.27,688.63 356.04,687.57 357.65,687.44" fill="#333"/>
<polygon points="363.08,685.95 363.70,687.44 365.31,687.57 364.08,688.63 364.46,690.20 363.08,689.36 361.69,690.20 362.07,688.63 360.84,687.57 362.45,687.44" fill="#333"/>
<line x1="370.43" y1="690.59" x2="370.43" y2="696.81" stroke="#000" stroke-width="3.2"/>
<polygon points="368.03,684.64 368.65,686.13 370.26,686.26 369.03,687.32 369.41,688.89 368.03,688.05 366.64,688.89 367.02,687.32 365.79,686.26 367.40,686.13" fill="#333"/>
<polygon points="372.83,684.64 373.45,686.13 375.06,686.26 373.83,687.32 374.21,688.89 372.83,688.05 371.44,688.89 371.82,687.32 370.59,686.26 372.20,686.13" fill="#333"/>
<line x1="385.02" y1="705.21" x2="385.02" y2="712.98" stroke="#000" stroke-width="3.2"/>
<line x1="394.77" y1="693.23" x2="394.77" y2="705.05" stroke="#000" stroke-width="3.2"/>
<polygon points="392.38,687.28 393.00,688.78 394.61,688.91 393.38,689.96 393.76,691.54 392.38,690.69 390.99,691.54 391.37,689.96 390.14,688.91 391.75,688.78" fill="#333"/>
<polygon points="397.18,687.28 397.80,688.78 399.41,688.91 398.18,689.96 398.56,691.54 397.18,690.69 395.79,691.54 396.17,689.96 394.94,688.91 396.55,688.78" fill="#333"/>
<line x1="404.52" y1="695.79" x2="404.52" y2="699.39" stroke="#000" stroke-width="3.2"/>
<polygon points="402.12,689.84 402.75,691.33 404.36,691.46 403.13,692.51 403.51,694.09 402.12,693.25 400.74,694.09 401.12,692.51 399.89,691.46 401.50,691.33" fill="#333"/>
<polygon points="406.93,689.84 407.55,691.33 409.16,691.46 407.93,692.51 408.31,694.09 406.93,693.25 405.54,694.09 405.92,692.51 404.69,691.46 406.30,691.33" fill="#333"/>
<line x1="414.27" y1="694.79" x2="414.27" y2="699.45" stroke="#000" stroke-width="3.2"/>
<polygon points="411.88,688.84 412.50,690.33 414.11,690.46 412.88,691.52 413.26,693.09 411.88,692.25 410.49,693.09 410.87,691.52 409.64,690.46 411.25,690.33" fill="#333"/>
<polygon points="416.68,688.84 417.30,690.33 418.91,690.46 417.68,691.52 418.06,693.09 416.68,692.25 415.29,693.09 415.67,691.52 414.44,690.46 416.05,690.33" fill="#333"/>
<line x1="428.88" y1="705.36" x2="428.88" y2="711.58" stroke="#000" stroke-width="3.2"/>
<line x1="438.62" y1="695.26" x2="438.62" y2="703.03" stroke="#000" stroke-width="3.2"/>
<polygon points="436.23,689.31 436.85,690.80 438.46,690.93 437.23,691.98 437.61,693.56 436.23,692.71 434.84,693.56 435.22,691.98 433.99,690.93 435.60,690.80" fill="#333"/>
<polygon points="441.03,689.31 441.65,690.80 443.26,690.93 442.03,691.98 442.41,693.56 441.03,692.71 439.64,693.56 440.02,691.98 438.79,690.93 440.40,690.80" fill="#333"/>
<line x1="448.38" y1="678.93" x2="448.38" y2="691.37" stroke="#000" stroke-width="3.2"/>
<polygon points="445.98,672.98 446.60,674.47 448.21,674.60 446.98,675.65 447.36,677.23 445.98,676.39 444.59,677.23 444.97,675.65 443.74,674.60 445.35,674.47" fill="#333"/>
<polygon points="450.78,672.98 451.40,674.47 453.01,674.60 451.78,675.65 452.16,677.23 450.78,676.39 449.39,677.23 449.77,675.65 448.54,674.60 450.15,674.47" fill="#333"/>
<line x1="458.12" y1="679.71" x2="458.12" y2="692.15" stroke="#000" stroke-width="3.2"/>
<polygon points="455.73,673.76 456.35,675.25 457.96,675.38 456.73,676.43 457.11,678.01 455.73,677.16 454.34,678.01 454.72,676.43 453.49,675.38 455.10,675.25" fill="#333"/>
<polygon points="460.53,673.76 461.15,675.25 462.76,675.38 461.53,676.43 461.91,678.01 460.53,677.16 459.14,678.01 459.52,676.43 458.29,675.38 459.90,675.25" fill="#333"/>
<line x1="71.90" y1="567.20" x2="71.90" y2="725.10" stroke="#000" stroke-width="2.2"/>
<line x1="63.40" y1="724.00" x2="71.90" y2="724.00" stroke="#000" stroke-width="2.6"/>
<text transform="translate(59.70 728.90) scale(0.89 1)" font-size="17" text-anchor="end" fill="#111" style="font-family:'Liberation Sans', sans-serif">0</text>
<line x1="63.40" y1="692.90" x2="71.90" y2="692.90" stroke="#000" stroke-width="2.6"/>
<text transform="translate(59.70 697.80) scale(0.89 1)" font-size="17" text-anchor="end" fill="#111" style="font-family:'Liberation Sans', sans-serif">2</text>
<line x1="63.40" y1="661.80" x2="71.90" y2="661.80" stroke="#000" stroke-width="2.6"/>
<text transform="translate(59.70 666.70) scale(0.89 1)" font-size="17" text-anchor="end" fill="#111" style="font-family:'Liberation Sans', sans-serif">4</text>
<line x1="63.40" y1="630.70" x2="71.90" y2="630.70" stroke="#000" stroke-width="2.6"/>
<text transform="translate(59.70 635.60) scale(0.89 1)" font-size="17" text-anchor="end" fill="#111" style="font-family:'Liberation Sans', sans-serif">6</text>
<line x1="63.40" y1="599.60" x2="71.90" y2="599.60" stroke="#000" stroke-width="2.6"/>
<text transform="translate(59.70 604.50) scale(0.89 1)" font-size="17" text-anchor="end" fill="#111" style="font-family:'Liberation Sans', sans-serif">8</text>
<line x1="63.40" y1="568.50" x2="71.90" y2="568.50" stroke="#000" stroke-width="2.6"/>
<text transform="translate(59.70 573.40) scale(0.89 1)" font-size="17" text-anchor="end" fill="#111" style="font-family:'Liberation Sans', sans-serif">10</text>
<line x1="63.40" y1="724.00" x2="466.60" y2="724.00" stroke="#000" stroke-width="3"/>
<line x1="92.70" y1="724.00" x2="92.70" y2="732.50" stroke="#000" stroke-width="3"/>
<text x="96.70" y="748.50" font-size="16.5" text-anchor="end" fill="#111" style="font-family:'Liberation Sans', sans-serif;" transform="rotate(-45 96.70 748.50)">BRCA1</text>
<line x1="136.55" y1="724.00" x2="136.55" y2="732.50" stroke="#000" stroke-width="3"/>
<text x="140.55" y="748.50" font-size="16.5" text-anchor="end" fill="#111" style="font-family:'Liberation Sans', sans-serif;" transform="rotate(-45 140.55 748.50)">PRAP1</text>
<line x1="180.40" y1="724.00" x2="180.40" y2="732.50" stroke="#000" stroke-width="3"/>
<text x="184.40" y="748.50" font-size="16.5" text-anchor="end" fill="#111" style="font-family:'Liberation Sans', sans-serif;" transform="rotate(-45 184.40 748.50)">RAD51</text>
<line x1="224.25" y1="724.00" x2="224.25" y2="732.50" stroke="#000" stroke-width="3"/>
<text x="228.25" y="748.50" font-size="16.5" text-anchor="end" fill="#111" style="font-family:'Liberation Sans', sans-serif;" transform="rotate(-45 228.25 748.50)">Nac053</text>
<line x1="268.10" y1="724.00" x2="268.10" y2="732.50" stroke="#000" stroke-width="3"/>
<text x="272.10" y="748.50" font-size="16.5" text-anchor="end" fill="#111" style="font-family:'Liberation Sans', sans-serif;" transform="rotate(-45 272.10 748.50)">RAD17</text>
<line x1="311.95" y1="724.00" x2="311.95" y2="732.50" stroke="#000" stroke-width="3"/>
<text x="315.95" y="748.50" font-size="16.5" text-anchor="end" fill="#111" style="font-family:'Liberation Sans', sans-serif;" transform="rotate(-45 315.95 748.50)">PARP2</text>
<line x1="355.80" y1="724.00" x2="355.80" y2="732.50" stroke="#000" stroke-width="3"/>
<text x="359.80" y="748.50" font-size="16.5" text-anchor="end" fill="#111" style="font-family:'Liberation Sans', sans-serif;" transform="rotate(-45 359.80 748.50)">GR1</text>
<line x1="399.65" y1="724.00" x2="399.65" y2="732.50" stroke="#000" stroke-width="3"/>
<text x="403.65" y="748.50" font-size="16.5" text-anchor="end" fill="#111" style="font-family:'Liberation Sans', sans-serif;" transform="rotate(-45 403.65 748.50)">RPA1E</text>
<line x1="443.50" y1="724.00" x2="443.50" y2="732.50" stroke="#000" stroke-width="3"/>
<text x="447.50" y="748.50" font-size="16.5" text-anchor="end" fill="#111" style="font-family:'Liberation Sans', sans-serif;" transform="rotate(-45 447.50 748.50)">NAC103</text>
<text x="30.50" y="648.50" font-size="16.5" text-anchor="middle" fill="#111" style="font-family:'Liberation Sans', sans-serif;" transform="rotate(-90 30.50 648.50)" textLength="179" lengthAdjust="spacingAndGlyphs">Relative expression level</text>
<text x="458.20" y="547.00" font-size="22.5" text-anchor="start" fill="#111" style="font-family:'Liberation Serif', serif;" stroke="#111" stroke-width="0.15">H</text>
<rect x="556.90" y="555.40" width="14.30" height="6.30" fill="#23a7df"/>
<text x="574.50" y="562.30" font-size="15" text-anchor="start" fill="#111" style="font-family:'Liberation Sans', sans-serif;" textLength="39.5" lengthAdjust="spacingAndGlyphs">Col-0</text>
<rect x="617.70" y="555.40" width="14.60" height="6.30" fill="#f86b6c"/>
<text x="641.50" y="562.30" font-size="15" text-anchor="start" fill="#111" style="font-family:'Liberation Sans', sans-serif;font-style:italic;" textLength="51.5" lengthAdjust="spacingAndGlyphs">rfc4e-1</text>
<rect x="705.40" y="555.40" width="15.00" height="6.30" fill="#f7a05e"/>
<text x="728.00" y="562.30" font-size="15" text-anchor="start" fill="#111" style="font-family:'Liberation Sans', sans-serif;font-style:italic;" textLength="52.0" lengthAdjust="spacingAndGlyphs">rfc4e-2</text>
<rect x="792.30" y="555.40" width="15.00" height="6.30" fill="#3ec6bf"/>
<text x="815.70" y="562.30" font-size="15" text-anchor="start" fill="#111" style="font-family:'Liberation Sans', sans-serif;font-style:italic;" textLength="52.0" lengthAdjust="spacingAndGlyphs">rfc4e-3</text>
<rect x="536.20" y="598.92" width="9.80" height="126.68" fill="#23a7df"/>
<rect x="545.95" y="612.21" width="9.80" height="113.39" fill="#f86b6c"/>
<rect x="555.70" y="692.76" width="9.80" height="32.84" fill="#f7a05e"/>
<rect x="565.45" y="612.60" width="9.80" height="113.00" fill="#3ec6bf"/>
<rect x="580.05" y="631.76" width="9.80" height="93.84" fill="#23a7df"/>
<rect x="589.80" y="641.54" width="9.80" height="84.06" fill="#f86b6c"/>
<rect x="599.55" y="625.89" width="9.80" height="99.71" fill="#f7a05e"/>
<rect x="609.30" y="645.45" width="9.80" height="80.15" fill="#3ec6bf"/>
<rect x="623.90" y="673.21" width="9.80" height="52.39" fill="#23a7df"/>
<rect x="633.65" y="682.59" width="9.80" height="43.01" fill="#f86b6c"/>
<rect x="643.40" y="691.39" width="9.80" height="34.21" fill="#f7a05e"/>
<rect x="653.15" y="686.50" width="9.80" height="39.10" fill="#3ec6bf"/>
<rect x="667.75" y="707.61" width="9.80" height="17.99" fill="#23a7df"/>
<rect x="677.50" y="711.13" width="9.80" height="14.47" fill="#f86b6c"/>
<rect x="687.25" y="707.22" width="9.80" height="18.38" fill="#f7a05e"/>
<rect x="697.00" y="710.74" width="9.80" height="14.86" fill="#3ec6bf"/>
<rect x="711.60" y="698.82" width="9.80" height="26.78" fill="#23a7df"/>
<rect x="721.35" y="697.45" width="9.80" height="28.15" fill="#f86b6c"/>
<rect x="731.10" y="702.92" width="9.80" height="22.68" fill="#f7a05e"/>
<rect x="740.85" y="700.19" width="9.80" height="25.41" fill="#3ec6bf"/>
<rect x="755.45" y="638.41" width="9.80" height="87.19" fill="#23a7df"/>
<rect x="765.20" y="636.45" width="9.80" height="89.15" fill="#f86b6c"/>
<rect x="774.95" y="647.40" width="9.80" height="78.20" fill="#f7a05e"/>
<rect x="784.70" y="634.89" width="9.80" height="90.71" fill="#3ec6bf"/>
<rect x="799.30" y="699.79" width="9.80" height="25.81" fill="#23a7df"/>
<rect x="809.05" y="696.27" width="9.80" height="29.33" fill="#f86b6c"/>
<rect x="818.80" y="696.67" width="9.80" height="28.93" fill="#f7a05e"/>
<rect x="828.55" y="697.06" width="9.80" height="28.54" fill="#3ec6bf"/>
<rect x="843.15" y="700.58" width="9.80" height="25.02" fill="#23a7df"/>
<rect x="852.90" y="700.58" width="9.80" height="25.02" fill="#f86b6c"/>
<rect x="862.65" y="715.04" width="9.80" height="10.56" fill="#f7a05e"/>
<rect x="872.40" y="705.66" width="9.80" height="19.94" fill="#3ec6bf"/>
<rect x="887.00" y="706.83" width="9.80" height="18.77" fill="#23a7df"/>
<rect x="896.75" y="702.14" width="9.80" height="23.46" fill="#f86b6c"/>
<rect x="906.50" y="698.82" width="9.80" height="26.78" fill="#f7a05e"/>
<rect x="916.25" y="699.60" width="9.80" height="26.00" fill="#3ec6bf"/>
<line x1="541.08" y1="596.42" x2="541.08" y2="605.81" stroke="#000" stroke-width="3.2"/>
<line x1="550.83" y1="611.28" x2="550.83" y2="617.54" stroke="#000" stroke-width="3.2"/>
<polygon points="548.43,605.33 549.05,606.83 550.66,606.96 549.43,608.01 549.81,609.58 548.43,608.74 547.04,609.58 547.42,608.01 546.19,606.96 547.80,606.83" fill="#333"/>
<polygon points="553.23,605.33 553.85,606.83 555.46,606.96 554.23,608.01 554.61,609.58 553.23,608.74 551.84,609.58 552.22,608.01 550.99,606.96 552.60,606.83" fill="#333"/>
<line x1="560.58" y1="693.00" x2="560.58" y2="696.91" stroke="#000" stroke-width="3.2"/>
<line x1="570.33" y1="609.72" x2="570.33" y2="619.88" stroke="#000" stroke-width="3.2"/>
<line x1="584.93" y1="630.05" x2="584.93" y2="637.87" stroke="#000" stroke-width="3.2"/>
<line x1="594.68" y1="638.65" x2="594.68" y2="648.82" stroke="#000" stroke-width="3.2"/>
<line x1="604.43" y1="624.19" x2="604.43" y2="632.00" stroke="#000" stroke-width="3.2"/>
<line x1="614.18" y1="641.00" x2="614.18" y2="654.29" stroke="#000" stroke-width="3.2"/>
<line x1="628.78" y1="673.06" x2="628.78" y2="677.75" stroke="#000" stroke-width="3.2"/>
<line x1="638.53" y1="681.66" x2="638.53" y2="687.92" stroke="#000" stroke-width="3.2"/>
<polygon points="636.13,675.71 636.75,677.21 638.36,677.34 637.13,678.39 637.51,679.96 636.13,679.12 634.74,679.96 635.12,678.39 633.89,677.34 635.50,677.21" fill="#333"/>
<polygon points="640.93,675.71 641.55,677.21 643.16,677.34 641.93,678.39 642.31,679.96 640.93,679.12 639.54,679.96 639.92,678.39 638.69,677.34 640.30,677.21" fill="#333"/>
<line x1="648.28" y1="691.24" x2="648.28" y2="695.93" stroke="#000" stroke-width="3.2"/>
<polygon points="645.88,685.29 646.50,686.79 648.11,686.92 646.88,687.97 647.26,689.54 645.88,688.70 644.49,689.54 644.87,687.97 643.64,686.92 645.25,686.79" fill="#333"/>
<polygon points="650.68,685.29 651.30,686.79 652.91,686.92 651.68,687.97 652.06,689.54 650.68,688.70 649.29,689.54 649.67,687.97 648.44,686.92 650.05,686.79" fill="#333"/>
<line x1="658.03" y1="685.18" x2="658.03" y2="692.22" stroke="#000" stroke-width="3.2"/>
<polygon points="655.63,679.23 656.25,680.73 657.86,680.85 656.63,681.91 657.01,683.48 655.63,682.64 654.24,683.48 654.62,681.91 653.39,680.85 655.00,680.73" fill="#333"/>
<polygon points="660.43,679.23 661.05,680.73 662.66,680.85 661.43,681.91 661.81,683.48 660.43,682.64 659.04,683.48 659.42,681.91 658.19,680.85 659.80,680.73" fill="#333"/>
<line x1="672.62" y1="708.01" x2="672.62" y2="711.61" stroke="#000" stroke-width="3.2"/>
<line x1="682.38" y1="711.53" x2="682.38" y2="715.13" stroke="#000" stroke-width="3.2"/>
<line x1="692.12" y1="704.73" x2="692.12" y2="714.12" stroke="#000" stroke-width="3.2"/>
<line x1="701.88" y1="711.14" x2="701.88" y2="714.74" stroke="#000" stroke-width="3.2"/>
<line x1="716.48" y1="699.22" x2="716.48" y2="702.82" stroke="#000" stroke-width="3.2"/>
<line x1="726.23" y1="697.69" x2="726.23" y2="701.60" stroke="#000" stroke-width="3.2"/>
<line x1="735.98" y1="703.17" x2="735.98" y2="707.08" stroke="#000" stroke-width="3.2"/>
<polygon points="735.98,697.22 736.60,698.71 738.21,698.84 736.98,699.89 737.36,701.47 735.98,700.62 734.59,701.47 734.97,699.89 733.74,698.84 735.35,698.71" fill="#333"/>
<line x1="745.73" y1="700.43" x2="745.73" y2="704.34" stroke="#000" stroke-width="3.2"/>
<line x1="760.33" y1="638.65" x2="760.33" y2="642.56" stroke="#000" stroke-width="3.2"/>
<line x1="770.08" y1="633.96" x2="770.08" y2="643.34" stroke="#000" stroke-width="3.2"/>
<line x1="779.83" y1="639.83" x2="779.83" y2="659.38" stroke="#000" stroke-width="3.2"/>
<line x1="789.58" y1="633.57" x2="789.58" y2="640.61" stroke="#000" stroke-width="3.2"/>
<line x1="804.18" y1="700.19" x2="804.18" y2="703.79" stroke="#000" stroke-width="3.2"/>
<line x1="813.93" y1="696.68" x2="813.93" y2="700.27" stroke="#000" stroke-width="3.2"/>
<line x1="823.68" y1="696.91" x2="823.68" y2="700.82" stroke="#000" stroke-width="3.2"/>
<line x1="833.43" y1="696.91" x2="833.43" y2="701.60" stroke="#000" stroke-width="3.2"/>
<line x1="848.03" y1="700.82" x2="848.03" y2="704.73" stroke="#000" stroke-width="3.2"/>
<line x1="857.78" y1="700.98" x2="857.78" y2="704.58" stroke="#000" stroke-width="3.2"/>
<line x1="867.53" y1="715.44" x2="867.53" y2="719.04" stroke="#000" stroke-width="3.2"/>
<line x1="877.28" y1="700.04" x2="877.28" y2="715.68" stroke="#000" stroke-width="3.2"/>
<line x1="891.88" y1="707.23" x2="891.88" y2="710.83" stroke="#000" stroke-width="3.2"/>
<line x1="901.62" y1="702.54" x2="901.62" y2="706.14" stroke="#000" stroke-width="3.2"/>
<line x1="911.38" y1="698.67" x2="911.38" y2="703.36" stroke="#000" stroke-width="3.2"/>
<polygon points="911.38,692.72 912.00,694.21 913.61,694.34 912.38,695.40 912.76,696.97 911.38,696.13 909.99,696.97 910.37,695.40 909.14,694.34 910.75,694.21" fill="#333"/>
<line x1="921.12" y1="697.89" x2="921.12" y2="705.71" stroke="#000" stroke-width="3.2"/>
<polygon points="921.12,691.94 921.75,693.43 923.36,693.56 922.13,694.62 922.51,696.19 921.12,695.35 919.74,696.19 920.12,694.62 918.89,693.56 920.50,693.43" fill="#333"/>
<line x1="534.80" y1="567.90" x2="534.80" y2="726.70" stroke="#000" stroke-width="2.2"/>
<line x1="526.30" y1="725.60" x2="534.80" y2="725.60" stroke="#000" stroke-width="2.6"/>
<text transform="translate(522.20 730.80) scale(0.94 1)" font-size="17" text-anchor="end" fill="#111" style="font-family:'Liberation Sans', sans-serif">0</text>
<line x1="526.30" y1="686.50" x2="534.80" y2="686.50" stroke="#000" stroke-width="2.6"/>
<text transform="translate(522.20 691.70) scale(0.94 1)" font-size="17" text-anchor="end" fill="#111" style="font-family:'Liberation Sans', sans-serif">10</text>
<line x1="526.30" y1="647.40" x2="534.80" y2="647.40" stroke="#000" stroke-width="2.6"/>
<text transform="translate(522.20 652.60) scale(0.94 1)" font-size="17" text-anchor="end" fill="#111" style="font-family:'Liberation Sans', sans-serif">20</text>
<line x1="526.30" y1="608.30" x2="534.80" y2="608.30" stroke="#000" stroke-width="2.6"/>
<text transform="translate(522.20 613.50) scale(0.94 1)" font-size="17" text-anchor="end" fill="#111" style="font-family:'Liberation Sans', sans-serif">30</text>
<line x1="526.30" y1="569.20" x2="534.80" y2="569.20" stroke="#000" stroke-width="2.6"/>
<text transform="translate(522.20 574.40) scale(0.94 1)" font-size="17" text-anchor="end" fill="#111" style="font-family:'Liberation Sans', sans-serif">40</text>
<line x1="526.30" y1="725.60" x2="930.00" y2="725.60" stroke="#000" stroke-width="3"/>
<line x1="555.70" y1="725.60" x2="555.70" y2="734.10" stroke="#000" stroke-width="3"/>
<text x="559.70" y="750.10" font-size="16.5" text-anchor="end" fill="#111" style="font-family:'Liberation Sans', sans-serif;" transform="rotate(-45 559.70 750.10)">BRCA1</text>
<line x1="599.55" y1="725.60" x2="599.55" y2="734.10" stroke="#000" stroke-width="3"/>
<text x="603.55" y="750.10" font-size="16.5" text-anchor="end" fill="#111" style="font-family:'Liberation Sans', sans-serif;" transform="rotate(-45 603.55 750.10)">PRAP1</text>
<line x1="643.40" y1="725.60" x2="643.40" y2="734.10" stroke="#000" stroke-width="3"/>
<text x="647.40" y="750.10" font-size="16.5" text-anchor="end" fill="#111" style="font-family:'Liberation Sans', sans-serif;" transform="rotate(-45 647.40 750.10)">RAD51</text>
<line x1="687.25" y1="725.60" x2="687.25" y2="734.10" stroke="#000" stroke-width="3"/>
<text x="691.25" y="750.10" font-size="16.5" text-anchor="end" fill="#111" style="font-family:'Liberation Sans', sans-serif;" transform="rotate(-45 691.25 750.10)">Nac053</text>
<line x1="731.10" y1="725.60" x2="731.10" y2="734.10" stroke="#000" stroke-width="3"/>
<text x="735.10" y="750.10" font-size="16.5" text-anchor="end" fill="#111" style="font-family:'Liberation Sans', sans-serif;" transform="rotate(-45 735.10 750.10)">RAD17</text>
<line x1="774.95" y1="725.60" x2="774.95" y2="734.10" stroke="#000" stroke-width="3"/>
<text x="778.95" y="750.10" font-size="16.5" text-anchor="end" fill="#111" style="font-family:'Liberation Sans', sans-serif;" transform="rotate(-45 778.95 750.10)">PARP2</text>
<line x1="818.80" y1="725.60" x2="818.80" y2="734.10" stroke="#000" stroke-width="3"/>
<text x="822.80" y="750.10" font-size="16.5" text-anchor="end" fill="#111" style="font-family:'Liberation Sans', sans-serif;" transform="rotate(-45 822.80 750.10)">GR1</text>
<line x1="862.65" y1="725.60" x2="862.65" y2="734.10" stroke="#000" stroke-width="3"/>
<text x="866.65" y="750.10" font-size="16.5" text-anchor="end" fill="#111" style="font-family:'Liberation Sans', sans-serif;" transform="rotate(-45 866.65 750.10)">RPA1E</text>
<line x1="906.50" y1="725.60" x2="906.50" y2="734.10" stroke="#000" stroke-width="3"/>
<text x="910.50" y="750.10" font-size="16.5" text-anchor="end" fill="#111" style="font-family:'Liberation Sans', sans-serif;" transform="rotate(-45 910.50 750.10)">NAC103</text>
<text x="493.70" y="651.00" font-size="16.5" text-anchor="middle" fill="#111" style="font-family:'Liberation Sans', sans-serif;" transform="rotate(-90 493.70 651.00)" textLength="179" lengthAdjust="spacingAndGlyphs">Relative expression level</text>
<rect x="87.60" y="78.70" width="92.80" height="36.90" fill="#030303"/>
<rect x="87.60" y="119.50" width="92.80" height="36.00" fill="#030303"/>
<rect x="87.60" y="159.90" width="92.80" height="36.50" fill="#030303"/>
<rect x="87.60" y="199.60" width="92.80" height="36.70" fill="#030303"/>
<rect x="186.00" y="78.70" width="92.20" height="36.90" fill="#030303"/>
<rect x="186.00" y="119.50" width="92.20" height="36.00" fill="#030303"/>
<rect x="186.00" y="159.90" width="92.20" height="36.50" fill="#030303"/>
<rect x="186.00" y="199.60" width="92.20" height="36.70" fill="#030303"/>
<rect x="283.00" y="78.70" width="92.90" height="36.90" fill="#030303"/>
<rect x="283.00" y="119.50" width="92.90" height="36.00" fill="#030303"/>
<rect x="283.00" y="159.90" width="92.90" height="36.50" fill="#030303"/>
<rect x="283.00" y="199.60" width="92.90" height="36.70" fill="#030303"/>
<g clip-path="url(#clipA)">
<path d="M100.4,109.5 Q105.1,106.0 109.9,103.6 Q107.7,101.4 115.3,110.6 Q124.5,103.8 127.4,108.9" fill="none" stroke="#4a4a4a" stroke-width="0.9" opacity="0.6"/>
<path d="M129.0,105.0 Q128.9,104.4 119.2,115.0 Q115.9,113.6 102.1,115.0 Q91.4,110.7 91.9,113.1" fill="none" stroke="#4a4a4a" stroke-width="0.9" opacity="0.6"/>
<path d="M128.3,96.8 Q120.1,93.1 118.7,90.4 Q118.9,85.4 111.1,79.0 Q119.6,83.3 116.2,79.0" fill="none" stroke="#4a4a4a" stroke-width="0.9" opacity="0.6"/>
<path d="M99.1,91.0 Q108.3,92.6 107.1,96.0 Q110.7,99.1 119.0,100.1 Q125.9,105.4 132.7,108.4" fill="none" stroke="#4a4a4a" stroke-width="0.9" opacity="0.6"/>
<path d="M91.2,87.7 Q92.6,87.3 101.9,85.7 Q104.0,87.0 109.2,89.9 Q109.6,91.9 109.5,96.6" fill="none" stroke="#4a4a4a" stroke-width="0.9" opacity="0.6"/>
<path d="M133.1,80.1 Q130.6,83.6 116.6,84.9 Q114.7,87.8 112.8,79.0 Q122.0,76.3 122.5,80.0" fill="none" stroke="#4a4a4a" stroke-width="0.9" opacity="0.6"/>
<path d="M135.3,113.3 Q133.9,113.4 138.1,112.3 Q149.7,110.2 154.5,100.4 Q165.2,103.6 168.4,106.2" fill="none" stroke="#4a4a4a" stroke-width="0.9" opacity="0.6"/>
<path d="M139.6,94.3 Q132.5,95.2 123.7,103.2 Q122.0,101.2 123.8,102.9 Q125.9,103.8 125.2,105.8" fill="none" stroke="#4a4a4a" stroke-width="0.9" opacity="0.6"/>
</g>
<g clip-path="url(#clipA)">
<path d="M176.0,153.2 Q172.0,151.0 160.0,143.2 Q164.3,142.2 166.1,138.6 Q166.7,133.2 169.0,130.4" fill="none" stroke="#4a4a4a" stroke-width="0.9" opacity="0.6"/>
<path d="M154.5,154.8 Q161.9,152.1 170.7,155.0 Q161.9,147.2 154.0,143.7 Q152.1,149.1 149.7,153.1" fill="none" stroke="#4a4a4a" stroke-width="0.9" opacity="0.6"/>
<path d="M109.7,120.8 Q106.7,126.4 103.4,120.0 Q111.3,123.6 109.7,120.0 Q117.1,128.4 118.1,129.8" fill="none" stroke="#4a4a4a" stroke-width="0.9" opacity="0.6"/>
<path d="M120.5,154.3 Q131.9,152.9 137.2,146.2 Q136.4,151.7 135.8,146.9 Q134.0,155.5 135.8,154.9" fill="none" stroke="#4a4a4a" stroke-width="0.9" opacity="0.6"/>
<path d="M170.8,136.1 Q174.7,141.0 173.2,146.2 Q170.6,140.1 163.2,142.0 Q175.5,136.9 177.9,136.5" fill="none" stroke="#4a4a4a" stroke-width="0.9" opacity="0.6"/>
</g>
<g clip-path="url(#clipA)">
<path d="M109.9,179.6 Q109.1,175.6 105.2,182.1 Q93.7,182.9 88.0,190.2 Q101.0,189.5 105.8,189.5" fill="none" stroke="#4a4a4a" stroke-width="0.9" opacity="0.6"/>
<path d="M146.8,165.4 Q149.5,172.7 151.6,174.3 Q157.8,170.1 157.8,163.8 Q158.6,161.6 150.7,160.0" fill="none" stroke="#4a4a4a" stroke-width="0.9" opacity="0.6"/>
<path d="M154.1,191.6 Q156.7,197.4 161.8,196.0 Q165.4,191.2 159.8,196.0 Q158.9,191.8 146.7,189.2" fill="none" stroke="#4a4a4a" stroke-width="0.9" opacity="0.6"/>
<path d="M145.7,170.8 Q144.0,170.5 145.9,168.1 Q149.6,178.1 148.9,177.8 Q157.4,179.6 161.8,189.6" fill="none" stroke="#4a4a4a" stroke-width="0.9" opacity="0.6"/>
<path d="M167.2,194.7 Q176.2,191.9 180.0,196.0 Q177.4,190.8 180.0,196.0 Q175.1,199.6 180.0,196.0" fill="none" stroke="#4a4a4a" stroke-width="0.9" opacity="0.6"/>
<path d="M125.8,165.4 Q126.5,163.2 118.3,171.9 Q123.0,164.4 122.5,161.0 Q129.4,172.7 136.2,172.5" fill="none" stroke="#4a4a4a" stroke-width="0.9" opacity="0.6"/>
<path d="M116.5,162.8 Q114.7,160.3 120.1,160.0 Q116.6,164.4 124.1,160.0 Q125.5,164.0 117.4,171.0" fill="none" stroke="#4a4a4a" stroke-width="0.9" opacity="0.6"/>
<path d="M130.4,178.7 Q133.7,181.3 135.5,181.0 Q142.6,183.7 151.4,181.2 Q152.4,179.1 142.0,176.4" fill="none" stroke="#4a4a4a" stroke-width="0.9" opacity="0.6"/>
<path d="M138.5,160.4 Q131.2,162.8 135.4,162.3 Q139.3,160.8 140.2,160.0 Q145.9,162.9 146.6,160.0" fill="none" stroke="#4a4a4a" stroke-width="0.9" opacity="0.6"/>
<path d="M90.0,162.2 Q90.2,167.2 96.4,173.3 Q96.4,168.9 99.7,169.0 Q95.0,168.7 95.0,171.3" fill="none" stroke="#4a4a4a" stroke-width="0.9" opacity="0.6"/>
</g>
<g clip-path="url(#clipA)">
<path d="M109.7,203.7 Q102.6,200.7 106.0,200.0 Q116.7,200.3 121.0,207.2 Q117.8,199.8 122.3,201.9" fill="none" stroke="#4a4a4a" stroke-width="0.9" opacity="0.6"/>
<path d="M107.7,233.4 Q117.3,231.0 119.6,236.0 Q118.9,240.3 112.7,236.0 Q120.8,233.1 126.4,226.1" fill="none" stroke="#4a4a4a" stroke-width="0.9" opacity="0.6"/>
<path d="M134.5,206.4 Q139.3,207.6 133.6,200.0 Q139.4,200.9 135.3,200.0 Q142.3,203.1 149.1,208.4" fill="none" stroke="#4a4a4a" stroke-width="0.9" opacity="0.6"/>
<path d="M143.1,215.5 Q140.8,207.7 130.9,210.8 Q120.1,212.8 114.6,213.9 Q120.0,208.3 113.5,210.1" fill="none" stroke="#4a4a4a" stroke-width="0.9" opacity="0.6"/>
<path d="M126.0,207.3 Q126.6,207.6 130.8,201.9 Q132.4,197.8 124.3,203.3 Q119.6,203.1 108.5,200.0" fill="none" stroke="#4a4a4a" stroke-width="0.9" opacity="0.6"/>
<path d="M109.8,211.9 Q98.6,213.8 98.2,210.9 Q108.2,221.9 112.5,221.8 Q109.4,222.6 95.1,216.8" fill="none" stroke="#4a4a4a" stroke-width="0.9" opacity="0.6"/>
<path d="M125.8,234.0 Q125.4,231.3 130.1,236.0 Q127.7,237.2 128.1,227.3 Q119.6,217.4 122.0,215.5" fill="none" stroke="#4a4a4a" stroke-width="0.9" opacity="0.6"/>
<path d="M160.1,213.1 Q162.1,207.3 152.6,203.4 Q142.0,197.7 142.0,200.0 Q139.7,199.9 148.4,200.0" fill="none" stroke="#4a4a4a" stroke-width="0.9" opacity="0.6"/>
</g>
<g clip-path="url(#clipA)">
<path d="M243.3,105.7 Q251.5,115.4 253.9,115.0 Q250.8,116.4 237.0,114.2 Q243.8,106.5 251.4,104.9" fill="none" stroke="#777" stroke-width="0.9" opacity="0.6"/>
<path d="M236.0,99.7 Q224.6,101.3 218.5,92.9 Q226.8,84.4 228.1,84.7 Q224.2,86.3 232.3,79.0" fill="none" stroke="#777" stroke-width="0.9" opacity="0.6"/>
<path d="M205.3,86.8 Q211.4,96.8 222.6,95.7 Q219.8,103.1 224.0,100.0 Q232.2,103.1 230.9,111.2" fill="none" stroke="#777" stroke-width="0.9" opacity="0.6"/>
</g>
<g clip-path="url(#clipA)">
<path d="M259.0,189.6 Q252.7,188.7 258.4,183.9 Q256.4,190.2 257.4,190.1 Q256.0,192.0 249.2,196.0" fill="none" stroke="#888" stroke-width="0.9" opacity="0.7"/>
<path d="M235.5,184.6 Q233.7,182.4 224.5,185.8 Q234.1,186.1 235.4,190.3 Q231.7,192.5 220.7,196.0" fill="none" stroke="#888" stroke-width="0.9" opacity="0.7"/>
<path d="M194.6,167.1 Q202.5,165.7 199.5,162.1 Q192.4,169.1 188.7,165.8 Q197.8,168.4 203.5,166.2" fill="none" stroke="#888" stroke-width="0.9" opacity="0.7"/>
<path d="M260.1,195.1 Q252.8,191.1 243.1,191.8 Q249.3,187.2 246.3,182.0 Q237.2,180.3 232.5,185.9" fill="none" stroke="#888" stroke-width="0.9" opacity="0.7"/>
</g>
<g clip-path="url(#clipA)">
<path d="M215.8,205.4 Q218.9,201.1 221.2,200.0 Q207.7,199.3 205.3,200.2 Q196.7,204.0 189.8,200.0" fill="none" stroke="#888" stroke-width="0.9" opacity="0.7"/>
<path d="M197.4,208.0 Q200.6,212.2 202.0,218.8 Q214.9,210.8 219.1,207.9 Q210.4,207.7 206.3,200.0" fill="none" stroke="#888" stroke-width="0.9" opacity="0.7"/>
<path d="M202.6,220.9 Q205.7,214.2 207.6,217.9 Q201.9,213.5 191.8,210.8 Q188.3,209.4 186.0,212.9" fill="none" stroke="#888" stroke-width="0.9" opacity="0.7"/>
<path d="M259.1,225.2 Q254.8,230.6 249.9,226.9 Q259.8,219.8 258.1,221.9 Q252.5,224.8 255.2,228.0" fill="none" stroke="#888" stroke-width="0.9" opacity="0.7"/>
<path d="M189.6,224.1 Q198.9,222.7 199.1,225.8 Q203.6,226.4 206.2,228.1 Q212.0,234.0 218.4,236.0" fill="none" stroke="#888" stroke-width="0.9" opacity="0.7"/>
</g>
<g clip-path="url(#clipA)">
<path d="M304.1,113.6 Q292.4,111.3 290.6,115.0 Q301.3,111.0 308.6,108.0 Q304.1,111.9 306.9,107.9" fill="none" stroke="#4a4a4a" stroke-width="0.9" opacity="0.6"/>
<path d="M291.3,87.4 Q286.1,89.5 283.0,81.8 Q280.1,86.3 283.0,79.0 Q281.5,82.4 283.0,81.9" fill="none" stroke="#4a4a4a" stroke-width="0.9" opacity="0.6"/>
<path d="M314.5,103.9 Q319.2,106.7 314.4,107.5 Q313.3,102.1 301.5,97.0 Q296.9,105.1 290.5,107.7" fill="none" stroke="#4a4a4a" stroke-width="0.9" opacity="0.6"/>
<path d="M364.9,89.3 Q358.0,97.0 359.8,98.4 Q355.0,106.0 345.3,102.9 Q347.8,98.8 357.7,103.0" fill="none" stroke="#4a4a4a" stroke-width="0.9" opacity="0.6"/>
<path d="M332.2,97.4 Q324.5,104.6 316.7,107.0 Q305.8,102.1 306.7,100.9 Q301.0,104.0 298.3,99.0" fill="none" stroke="#4a4a4a" stroke-width="0.9" opacity="0.6"/>
<path d="M365.9,85.3 Q366.0,87.9 362.2,79.0 Q354.4,76.4 351.4,85.4 Q352.2,82.7 361.0,81.6" fill="none" stroke="#4a4a4a" stroke-width="0.9" opacity="0.6"/>
<path d="M304.5,93.8 Q304.6,90.2 302.6,91.8 Q290.6,87.1 288.0,81.8 Q285.6,88.0 283.0,89.2" fill="none" stroke="#4a4a4a" stroke-width="0.9" opacity="0.6"/>
</g>
<g clip-path="url(#clipA)">
<path d="M326.1,133.1 Q313.6,137.5 313.0,141.9 Q320.9,138.2 327.4,131.8 Q321.6,129.8 310.9,128.9" fill="none" stroke="#777" stroke-width="0.9" opacity="0.6"/>
<path d="M350.4,125.5 Q345.8,127.8 341.0,120.0 Q341.2,126.2 344.3,126.6 Q339.2,126.8 329.9,121.6" fill="none" stroke="#777" stroke-width="0.9" opacity="0.6"/>
<path d="M322.2,123.1 Q315.4,125.2 313.8,120.0 Q313.0,119.3 303.0,129.3 Q295.1,128.3 298.6,129.1" fill="none" stroke="#777" stroke-width="0.9" opacity="0.6"/>
</g>
<g clip-path="url(#clipA)">
<path d="M336.1,175.4 Q341.3,175.8 339.0,168.4 Q342.0,162.2 344.5,160.2 Q345.9,160.2 335.5,171.1" fill="none" stroke="#777" stroke-width="0.9" opacity="0.6"/>
<path d="M363.0,181.7 Q363.0,178.6 358.7,176.5 Q357.7,181.7 365.4,180.4 Q372.1,180.6 376.0,191.7" fill="none" stroke="#777" stroke-width="0.9" opacity="0.6"/>
<path d="M283.4,164.8 Q289.7,167.2 299.3,160.1 Q295.1,155.5 292.6,161.3 Q290.0,162.1 295.6,169.5" fill="none" stroke="#777" stroke-width="0.9" opacity="0.6"/>
<path d="M321.4,161.3 Q323.2,165.5 321.3,169.0 Q328.5,163.2 334.1,160.6 Q339.2,155.4 337.7,160.0" fill="none" stroke="#777" stroke-width="0.9" opacity="0.6"/>
</g>
<g clip-path="url(#clipA)">
<path d="M325.1,220.2 Q332.8,220.8 340.3,219.3 Q336.2,223.0 329.0,219.6 Q316.8,221.0 314.4,214.9" fill="none" stroke="#666" stroke-width="0.9" opacity="0.6"/>
<path d="M347.5,201.5 Q358.0,208.5 364.8,212.7 Q359.0,201.6 352.5,201.0 Q341.3,200.1 341.4,200.0" fill="none" stroke="#666" stroke-width="0.9" opacity="0.6"/>
<path d="M324.0,230.3 Q324.3,234.0 324.7,233.7 Q329.9,237.0 323.1,228.4 Q327.0,227.6 335.4,233.4" fill="none" stroke="#666" stroke-width="0.9" opacity="0.6"/>
<path d="M309.9,202.5 Q318.8,200.0 319.5,200.1 Q321.7,200.8 336.0,208.5 Q349.1,206.9 350.7,207.8" fill="none" stroke="#666" stroke-width="0.9" opacity="0.6"/>
<path d="M289.8,222.7 Q289.9,217.9 299.8,217.1 Q303.6,217.2 316.5,223.3 Q312.9,214.2 302.2,212.8" fill="none" stroke="#666" stroke-width="0.9" opacity="0.6"/>
</g>
<g clip-path="url(#clipA)"><g filter="url(#soft)">
<line x1="99.0" y1="95.0" x2="92.0" y2="83.0" stroke="#5cb43e" stroke-width="2.0" stroke-linecap="round"/>
<line x1="99.0" y1="95.0" x2="106.0" y2="86.0" stroke="#5cb43e" stroke-width="2.0" stroke-linecap="round"/>
<line x1="99.0" y1="95.0" x2="92.0" y2="98.0" stroke="#5cb43e" stroke-width="2.0" stroke-linecap="round"/>
<line x1="99.0" y1="95.0" x2="104.8" y2="106.2" stroke="#5cb43e" stroke-width="2.0" stroke-linecap="round"/>
<line x1="99.0" y1="95.0" x2="97.5" y2="92.0" stroke="#5cb43e" stroke-width="2.0" stroke-linecap="round"/>
<line x1="99.0" y1="95.0" x2="102.0" y2="99.0" stroke="#5cb43e" stroke-width="2.0" stroke-linecap="round"/>
<ellipse cx="92.0" cy="83.0" rx="5.3" ry="4.5" transform="rotate(-120 92.0 83.0)" fill="url(#gL)"/>
<ellipse cx="106.0" cy="86.0" rx="4.8" ry="4.0" transform="rotate(-52 106.0 86.0)" fill="url(#gL)"/>
<ellipse cx="92.0" cy="98.0" rx="4.8" ry="4.0" transform="rotate(157 92.0 98.0)" fill="url(#gL)"/>
<ellipse cx="104.8" cy="106.2" rx="5.4" ry="4.6" transform="rotate(63 104.8 106.2)" fill="url(#gL)"/>
<ellipse cx="97.5" cy="92.0" rx="3.3" ry="2.8" transform="rotate(-117 97.5 92.0)" fill="url(#gL)"/>
<ellipse cx="102.0" cy="99.0" rx="3.3" ry="2.8" transform="rotate(53 102.0 99.0)" fill="url(#gL)"/>
<circle cx="99.0" cy="95.0" r="2.2" fill="#5cb43e"/>
</g></g>
<g clip-path="url(#clipA)"><g filter="url(#soft)">
<line x1="122.0" y1="98.0" x2="117.3" y2="92.7" stroke="#3a9e35" stroke-width="2.0" stroke-linecap="round"/>
<line x1="122.0" y1="98.0" x2="127.7" y2="90.1" stroke="#3a9e35" stroke-width="2.0" stroke-linecap="round"/>
<line x1="122.0" y1="98.0" x2="118.3" y2="104.1" stroke="#3a9e35" stroke-width="2.0" stroke-linecap="round"/>
<line x1="122.0" y1="98.0" x2="127.7" y2="103.1" stroke="#3a9e35" stroke-width="2.0" stroke-linecap="round"/>
<line x1="122.0" y1="98.0" x2="109.0" y2="98.4" stroke="#3a9e35" stroke-width="2.0" stroke-linecap="round"/>
<ellipse cx="117.3" cy="92.7" rx="4.3" ry="3.6" transform="rotate(-132 117.3 92.7)" fill="url(#gG)"/>
<ellipse cx="127.7" cy="90.1" rx="4.8" ry="4.0" transform="rotate(-54 127.7 90.1)" fill="url(#gG)"/>
<ellipse cx="118.3" cy="104.1" rx="3.9" ry="3.3" transform="rotate(121 118.3 104.1)" fill="url(#gG)"/>
<ellipse cx="127.7" cy="103.1" rx="4.8" ry="4.0" transform="rotate(42 127.7 103.1)" fill="url(#gG)"/>
<ellipse cx="109.0" cy="98.4" rx="4.3" ry="3.6" transform="rotate(178 109.0 98.4)" fill="url(#gG)"/>
<circle cx="122.0" cy="98.0" r="2.2" fill="#3a9e35"/>
</g></g>
<g clip-path="url(#clipA)"><g filter="url(#soft)">
<line x1="134.0" y1="96.0" x2="137.5" y2="83.8" stroke="#5cb43e" stroke-width="2.0" stroke-linecap="round"/>
<line x1="134.0" y1="96.0" x2="130.8" y2="111.4" stroke="#5cb43e" stroke-width="2.0" stroke-linecap="round"/>
<line x1="134.0" y1="96.0" x2="138.0" y2="96.9" stroke="#5cb43e" stroke-width="2.0" stroke-linecap="round"/>
<line x1="134.0" y1="96.0" x2="143.8" y2="100.5" stroke="#5cb43e" stroke-width="2.0" stroke-linecap="round"/>
<ellipse cx="137.5" cy="83.8" rx="5.4" ry="4.6" transform="rotate(-74 137.5 83.8)" fill="url(#gL)"/>
<ellipse cx="130.8" cy="111.4" rx="4.8" ry="4.0" transform="rotate(102 130.8 111.4)" fill="url(#gL)"/>
<ellipse cx="138.0" cy="96.9" rx="4.0" ry="3.4" transform="rotate(13 138.0 96.9)" fill="url(#gL)"/>
<ellipse cx="143.8" cy="100.5" rx="5.5" ry="4.7" transform="rotate(25 143.8 100.5)" fill="url(#gL)"/>
<circle cx="134.0" cy="96.0" r="2.2" fill="#5cb43e"/>
</g></g>
<g clip-path="url(#clipA)"><g filter="url(#soft)">
<line x1="166.0" y1="99.0" x2="161.0" y2="91.6" stroke="#3a9e35" stroke-width="2.0" stroke-linecap="round"/>
<line x1="166.0" y1="99.0" x2="158.9" y2="104.7" stroke="#3a9e35" stroke-width="2.0" stroke-linecap="round"/>
<line x1="166.0" y1="99.0" x2="165.6" y2="97.4" stroke="#3a9e35" stroke-width="2.0" stroke-linecap="round"/>
<line x1="166.0" y1="99.0" x2="176.6" y2="96.3" stroke="#3a9e35" stroke-width="2.0" stroke-linecap="round"/>
<line x1="166.0" y1="99.0" x2="172.4" y2="104.7" stroke="#3a9e35" stroke-width="2.0" stroke-linecap="round"/>
<line x1="166.0" y1="99.0" x2="173.4" y2="111.4" stroke="#3a9e35" stroke-width="2.0" stroke-linecap="round"/>
<line x1="166.0" y1="99.0" x2="178.5" y2="90.5" stroke="#3a9e35" stroke-width="2.0" stroke-linecap="round"/>
<ellipse cx="161.0" cy="91.6" rx="5.0" ry="4.3" transform="rotate(-124 161.0 91.6)" fill="url(#gG)"/>
<ellipse cx="158.9" cy="104.7" rx="4.8" ry="4.0" transform="rotate(141 158.9 104.7)" fill="url(#gG)"/>
<ellipse cx="165.6" cy="97.4" rx="3.1" ry="2.7" transform="rotate(-104 165.6 97.4)" fill="url(#gG)"/>
<ellipse cx="176.6" cy="96.3" rx="4.3" ry="3.6" transform="rotate(-14 176.6 96.3)" fill="url(#gG)"/>
<ellipse cx="172.4" cy="104.7" rx="4.3" ry="3.6" transform="rotate(42 172.4 104.7)" fill="url(#gG)"/>
<ellipse cx="173.4" cy="111.4" rx="4.8" ry="4.0" transform="rotate(59 173.4 111.4)" fill="url(#gG)"/>
<ellipse cx="178.5" cy="90.5" rx="3.5" ry="3.0" transform="rotate(-34 178.5 90.5)" fill="url(#gG)"/>
<circle cx="166.0" cy="99.0" r="2.2" fill="#3a9e35"/>
</g></g>
<g clip-path="url(#clipA)"><g filter="url(#soft)">
<line x1="201.0" y1="96.0" x2="200.2" y2="83.3" stroke="#a9cc52" stroke-width="2.2" stroke-linecap="round"/>
<line x1="201.0" y1="96.0" x2="192.5" y2="94.8" stroke="#a9cc52" stroke-width="2.2" stroke-linecap="round"/>
<line x1="201.0" y1="96.0" x2="196.6" y2="102.0" stroke="#a9cc52" stroke-width="2.2" stroke-linecap="round"/>
<line x1="201.0" y1="96.0" x2="209.0" y2="97.9" stroke="#a9cc52" stroke-width="2.2" stroke-linecap="round"/>
<line x1="201.0" y1="96.0" x2="195.0" y2="89.0" stroke="#a9cc52" stroke-width="2.2" stroke-linecap="round"/>
<ellipse cx="200.2" cy="83.3" rx="5.0" ry="4.3" transform="rotate(-94 200.2 83.3)" fill="url(#gY)"/>
<ellipse cx="192.5" cy="94.8" rx="5.0" ry="4.3" transform="rotate(-172 192.5 94.8)" fill="url(#gY)"/>
<ellipse cx="196.6" cy="102.0" rx="4.8" ry="4.0" transform="rotate(126 196.6 102.0)" fill="url(#gY)"/>
<ellipse cx="209.0" cy="97.9" rx="4.5" ry="3.8" transform="rotate(13 209.0 97.9)" fill="url(#gY)"/>
<ellipse cx="195.0" cy="89.0" rx="3.8" ry="3.2" transform="rotate(-131 195.0 89.0)" fill="url(#gY)"/>
<circle cx="201.0" cy="96.0" r="2.2" fill="#a9cc52"/>
</g></g>
<g clip-path="url(#clipA)"><g filter="url(#soft)">
<line x1="222.0" y1="101.0" x2="222.7" y2="90.6" stroke="#a9cc52" stroke-width="2.2" stroke-linecap="round"/>
<line x1="222.0" y1="101.0" x2="232.0" y2="96.9" stroke="#a9cc52" stroke-width="2.2" stroke-linecap="round"/>
<line x1="222.0" y1="101.0" x2="223.7" y2="109.3" stroke="#a9cc52" stroke-width="2.2" stroke-linecap="round"/>
<line x1="222.0" y1="101.0" x2="213.3" y2="97.9" stroke="#a9cc52" stroke-width="2.2" stroke-linecap="round"/>
<ellipse cx="222.7" cy="90.6" rx="4.5" ry="3.8" transform="rotate(-86 222.7 90.6)" fill="url(#gY)"/>
<ellipse cx="232.0" cy="96.9" rx="4.5" ry="3.8" transform="rotate(-22 232.0 96.9)" fill="url(#gY)"/>
<ellipse cx="223.7" cy="109.3" rx="4.8" ry="4.0" transform="rotate(78 223.7 109.3)" fill="url(#gY)"/>
<ellipse cx="213.3" cy="97.9" rx="4.0" ry="3.4" transform="rotate(-160 213.3 97.9)" fill="url(#gY)"/>
<circle cx="222.0" cy="101.0" r="2.2" fill="#a9cc52"/>
</g></g>
<g clip-path="url(#clipA)"><g filter="url(#soft)">
<line x1="247.0" y1="100.0" x2="242.4" y2="94.8" stroke="#a9cc52" stroke-width="2.0" stroke-linecap="round"/>
<line x1="247.0" y1="100.0" x2="240.4" y2="102.5" stroke="#a9cc52" stroke-width="2.0" stroke-linecap="round"/>
<line x1="247.0" y1="100.0" x2="255.0" y2="96.9" stroke="#a9cc52" stroke-width="2.0" stroke-linecap="round"/>
<line x1="247.0" y1="100.0" x2="248.7" y2="104.5" stroke="#a9cc52" stroke-width="2.0" stroke-linecap="round"/>
<ellipse cx="242.4" cy="94.8" rx="4.0" ry="3.4" transform="rotate(-131 242.4 94.8)" fill="url(#gY)"/>
<ellipse cx="240.4" cy="102.5" rx="4.3" ry="3.6" transform="rotate(159 240.4 102.5)" fill="url(#gY)"/>
<ellipse cx="255.0" cy="96.9" rx="4.1" ry="3.5" transform="rotate(-21 255.0 96.9)" fill="url(#gY)"/>
<ellipse cx="248.7" cy="104.5" rx="3.8" ry="3.2" transform="rotate(69 248.7 104.5)" fill="url(#gY)"/>
<circle cx="247.0" cy="100.0" r="2.2" fill="#a9cc52"/>
</g></g>
<g clip-path="url(#clipA)"><g filter="url(#soft)">
<line x1="268.0" y1="95.0" x2="271.6" y2="84.4" stroke="#a9cc52" stroke-width="2.0" stroke-linecap="round"/>
<line x1="268.0" y1="95.0" x2="263.2" y2="91.6" stroke="#a9cc52" stroke-width="2.0" stroke-linecap="round"/>
<line x1="268.0" y1="95.0" x2="273.7" y2="91.6" stroke="#a9cc52" stroke-width="2.0" stroke-linecap="round"/>
<line x1="268.0" y1="95.0" x2="268.4" y2="102.5" stroke="#a9cc52" stroke-width="2.0" stroke-linecap="round"/>
<ellipse cx="271.6" cy="84.4" rx="4.5" ry="3.8" transform="rotate(-71 271.6 84.4)" fill="url(#gY)"/>
<ellipse cx="263.2" cy="91.6" rx="3.8" ry="3.2" transform="rotate(-145 263.2 91.6)" fill="url(#gY)"/>
<ellipse cx="273.7" cy="91.6" rx="3.8" ry="3.2" transform="rotate(-31 273.7 91.6)" fill="url(#gY)"/>
<ellipse cx="268.4" cy="102.5" rx="4.5" ry="3.8" transform="rotate(87 268.4 102.5)" fill="url(#gY)"/>
<circle cx="268.0" cy="95.0" r="2.2" fill="#a9cc52"/>
</g></g>
<g clip-path="url(#clipA)"><g filter="url(#soft)">
<line x1="294.0" y1="95.0" x2="288.2" y2="87.5" stroke="#3a9e35" stroke-width="2.0" stroke-linecap="round"/>
<line x1="294.0" y1="95.0" x2="299.7" y2="87.5" stroke="#3a9e35" stroke-width="2.0" stroke-linecap="round"/>
<line x1="294.0" y1="95.0" x2="294.5" y2="98.0" stroke="#3a9e35" stroke-width="2.0" stroke-linecap="round"/>
<line x1="294.0" y1="95.0" x2="302.8" y2="101.0" stroke="#3a9e35" stroke-width="2.0" stroke-linecap="round"/>
<line x1="294.0" y1="95.0" x2="287.0" y2="97.0" stroke="#3a9e35" stroke-width="2.0" stroke-linecap="round"/>
<ellipse cx="288.2" cy="87.5" rx="5.0" ry="4.3" transform="rotate(-128 288.2 87.5)" fill="url(#gG)"/>
<ellipse cx="299.7" cy="87.5" rx="4.8" ry="4.0" transform="rotate(-53 299.7 87.5)" fill="url(#gG)"/>
<ellipse cx="294.5" cy="98.0" rx="4.0" ry="3.4" transform="rotate(81 294.5 98.0)" fill="url(#gG)"/>
<ellipse cx="302.8" cy="101.0" rx="4.5" ry="3.8" transform="rotate(34 302.8 101.0)" fill="url(#gG)"/>
<ellipse cx="287.0" cy="97.0" rx="3.8" ry="3.2" transform="rotate(164 287.0 97.0)" fill="url(#gG)"/>
<circle cx="294.0" cy="95.0" r="2.2" fill="#3a9e35"/>
</g></g>
<g clip-path="url(#clipA)"><g filter="url(#soft)">
<line x1="326.0" y1="98.0" x2="321.5" y2="87.5" stroke="#5cb43e" stroke-width="2.0" stroke-linecap="round"/>
<line x1="326.0" y1="98.0" x2="318.4" y2="104.1" stroke="#5cb43e" stroke-width="2.0" stroke-linecap="round"/>
<line x1="326.0" y1="98.0" x2="326.7" y2="97.9" stroke="#5cb43e" stroke-width="2.0" stroke-linecap="round"/>
<line x1="326.0" y1="98.0" x2="336.0" y2="108.3" stroke="#5cb43e" stroke-width="2.0" stroke-linecap="round"/>
<line x1="326.0" y1="98.0" x2="340.2" y2="95.8" stroke="#5cb43e" stroke-width="2.0" stroke-linecap="round"/>
<ellipse cx="321.5" cy="87.5" rx="4.5" ry="3.8" transform="rotate(-113 321.5 87.5)" fill="url(#gL)"/>
<ellipse cx="318.4" cy="104.1" rx="5.3" ry="4.5" transform="rotate(141 318.4 104.1)" fill="url(#gL)"/>
<ellipse cx="326.7" cy="97.9" rx="3.8" ry="3.2" transform="rotate(-8 326.7 97.9)" fill="url(#gL)"/>
<ellipse cx="336.0" cy="108.3" rx="5.0" ry="4.3" transform="rotate(46 336.0 108.3)" fill="url(#gL)"/>
<ellipse cx="340.2" cy="95.8" rx="4.5" ry="3.8" transform="rotate(-9 340.2 95.8)" fill="url(#gL)"/>
<circle cx="326.0" cy="98.0" r="2.2" fill="#5cb43e"/>
</g></g>
<g clip-path="url(#clipA)"><g filter="url(#soft)">
<line x1="361.0" y1="98.0" x2="352.7" y2="90.6" stroke="#3a9e35" stroke-width="2.0" stroke-linecap="round"/>
<line x1="361.0" y1="98.0" x2="355.9" y2="101.0" stroke="#3a9e35" stroke-width="2.0" stroke-linecap="round"/>
<line x1="361.0" y1="98.0" x2="365.2" y2="89.6" stroke="#3a9e35" stroke-width="2.0" stroke-linecap="round"/>
<line x1="361.0" y1="98.0" x2="370.4" y2="100.0" stroke="#3a9e35" stroke-width="2.0" stroke-linecap="round"/>
<line x1="361.0" y1="98.0" x2="371.5" y2="107.2" stroke="#3a9e35" stroke-width="2.0" stroke-linecap="round"/>
<ellipse cx="352.7" cy="90.6" rx="4.5" ry="3.8" transform="rotate(-138 352.7 90.6)" fill="url(#gG)"/>
<ellipse cx="355.9" cy="101.0" rx="4.0" ry="3.4" transform="rotate(150 355.9 101.0)" fill="url(#gG)"/>
<ellipse cx="365.2" cy="89.6" rx="4.5" ry="3.8" transform="rotate(-63 365.2 89.6)" fill="url(#gG)"/>
<ellipse cx="370.4" cy="100.0" rx="4.5" ry="3.8" transform="rotate(12 370.4 100.0)" fill="url(#gG)"/>
<ellipse cx="371.5" cy="107.2" rx="4.5" ry="3.8" transform="rotate(41 371.5 107.2)" fill="url(#gG)"/>
<circle cx="361.0" cy="98.0" r="2.2" fill="#3a9e35"/>
</g></g>
<line x1="341.30" y1="110.80" x2="371.20" y2="110.80" stroke="#f4f4f4" stroke-width="2"/>
<g clip-path="url(#clipA)"><g filter="url(#soft)">
<line x1="100.6" y1="142.0" x2="92.3" y2="135.8" stroke="#5cb43e" stroke-width="2.0" stroke-linecap="round"/>
<line x1="100.6" y1="142.0" x2="100.6" y2="134.8" stroke="#5cb43e" stroke-width="2.0" stroke-linecap="round"/>
<line x1="100.6" y1="142.0" x2="107.9" y2="134.8" stroke="#5cb43e" stroke-width="2.0" stroke-linecap="round"/>
<line x1="100.6" y1="142.0" x2="94.4" y2="148.3" stroke="#5cb43e" stroke-width="2.0" stroke-linecap="round"/>
<line x1="100.6" y1="142.0" x2="101.6" y2="150.4" stroke="#5cb43e" stroke-width="2.0" stroke-linecap="round"/>
<line x1="100.6" y1="142.0" x2="110.0" y2="146.2" stroke="#5cb43e" stroke-width="2.0" stroke-linecap="round"/>
<ellipse cx="92.3" cy="135.8" rx="4.8" ry="4.0" transform="rotate(-143 92.3 135.8)" fill="url(#gL)"/>
<ellipse cx="100.6" cy="134.8" rx="4.3" ry="3.6" transform="rotate(-90 100.6 134.8)" fill="url(#gL)"/>
<ellipse cx="107.9" cy="134.8" rx="4.0" ry="3.4" transform="rotate(-45 107.9 134.8)" fill="url(#gL)"/>
<ellipse cx="94.4" cy="148.3" rx="4.8" ry="4.0" transform="rotate(135 94.4 148.3)" fill="url(#gL)"/>
<ellipse cx="101.6" cy="150.4" rx="4.5" ry="3.8" transform="rotate(83 101.6 150.4)" fill="url(#gL)"/>
<ellipse cx="110.0" cy="146.2" rx="4.3" ry="3.6" transform="rotate(24 110.0 146.2)" fill="url(#gL)"/>
<circle cx="100.6" cy="142.0" r="2.2" fill="#5cb43e"/>
</g></g>
<g clip-path="url(#clipA)"><g filter="url(#soft)">
<line x1="116.2" y1="141.0" x2="116.2" y2="132.7" stroke="#3a9e35" stroke-width="2.0" stroke-linecap="round"/>
<line x1="116.2" y1="141.0" x2="120.4" y2="140.0" stroke="#3a9e35" stroke-width="2.0" stroke-linecap="round"/>
<line x1="116.2" y1="141.0" x2="121.4" y2="150.4" stroke="#3a9e35" stroke-width="2.0" stroke-linecap="round"/>
<line x1="116.2" y1="141.0" x2="112.0" y2="142.0" stroke="#3a9e35" stroke-width="2.0" stroke-linecap="round"/>
<ellipse cx="116.2" cy="132.7" rx="4.5" ry="3.8" transform="rotate(-90 116.2 132.7)" fill="url(#gG)"/>
<ellipse cx="120.4" cy="140.0" rx="3.8" ry="3.2" transform="rotate(-13 120.4 140.0)" fill="url(#gG)"/>
<ellipse cx="121.4" cy="150.4" rx="4.5" ry="3.8" transform="rotate(61 121.4 150.4)" fill="url(#gG)"/>
<ellipse cx="112.0" cy="142.0" rx="3.3" ry="2.8" transform="rotate(167 112.0 142.0)" fill="url(#gG)"/>
<circle cx="116.2" cy="141.0" r="2.2" fill="#3a9e35"/>
</g></g>
<g clip-path="url(#clipA)"><g filter="url(#soft)">
<line x1="145.4" y1="137.9" x2="135.0" y2="134.8" stroke="#3a9e35" stroke-width="2.0" stroke-linecap="round"/>
<line x1="145.4" y1="137.9" x2="144.3" y2="131.6" stroke="#3a9e35" stroke-width="2.0" stroke-linecap="round"/>
<line x1="145.4" y1="137.9" x2="145.4" y2="144.1" stroke="#3a9e35" stroke-width="2.0" stroke-linecap="round"/>
<line x1="145.4" y1="137.9" x2="153.7" y2="138.9" stroke="#3a9e35" stroke-width="2.0" stroke-linecap="round"/>
<line x1="145.4" y1="137.9" x2="140.0" y2="141.0" stroke="#3a9e35" stroke-width="2.0" stroke-linecap="round"/>
<ellipse cx="135.0" cy="134.8" rx="4.3" ry="3.6" transform="rotate(-163 135.0 134.8)" fill="url(#gG)"/>
<ellipse cx="144.3" cy="131.6" rx="4.3" ry="3.6" transform="rotate(-100 144.3 131.6)" fill="url(#gG)"/>
<ellipse cx="145.4" cy="144.1" rx="4.0" ry="3.4" transform="rotate(90 145.4 144.1)" fill="url(#gG)"/>
<ellipse cx="153.7" cy="138.9" rx="4.0" ry="3.4" transform="rotate(7 153.7 138.9)" fill="url(#gG)"/>
<ellipse cx="140.0" cy="141.0" rx="3.5" ry="3.0" transform="rotate(150 140.0 141.0)" fill="url(#gG)"/>
<circle cx="145.4" cy="137.9" r="2.2" fill="#3a9e35"/>
</g></g>
<g clip-path="url(#clipA)"><g filter="url(#soft)">
<line x1="162.0" y1="136.5" x2="161.0" y2="128.5" stroke="#5cb43e" stroke-width="2.0" stroke-linecap="round"/>
<line x1="162.0" y1="136.5" x2="165.1" y2="145.1" stroke="#5cb43e" stroke-width="2.0" stroke-linecap="round"/>
<line x1="162.0" y1="136.5" x2="167.2" y2="133.7" stroke="#5cb43e" stroke-width="2.0" stroke-linecap="round"/>
<line x1="162.0" y1="136.5" x2="155.8" y2="135.8" stroke="#5cb43e" stroke-width="2.0" stroke-linecap="round"/>
<ellipse cx="161.0" cy="128.5" rx="4.3" ry="3.6" transform="rotate(-97 161.0 128.5)" fill="url(#gL)"/>
<ellipse cx="165.1" cy="145.1" rx="4.8" ry="4.0" transform="rotate(70 165.1 145.1)" fill="url(#gL)"/>
<ellipse cx="167.2" cy="133.7" rx="4.0" ry="3.4" transform="rotate(-28 167.2 133.7)" fill="url(#gL)"/>
<ellipse cx="155.8" cy="135.8" rx="3.8" ry="3.2" transform="rotate(-174 155.8 135.8)" fill="url(#gL)"/>
<circle cx="162.0" cy="136.5" r="2.2" fill="#5cb43e"/>
</g></g>
<g clip-path="url(#clipA)"><g filter="url(#soft)">
<line x1="203" y1="139" x2="204.5" y2="147" stroke="#a8c860" stroke-width="2.2" stroke-linecap="round"/>
<line x1="205" y1="139.5" x2="212.5" y2="141.5" stroke="#a8c860" stroke-width="1.6" stroke-linecap="round"/>
<line x1="194" y1="138.5" x2="203" y2="139" stroke="#a8c860" stroke-width="2.4" stroke-linecap="round"/>
<ellipse cx="204" cy="134.5" rx="2.4" ry="4.2" transform="rotate(-25 204 134.5)" fill="url(#gY)"/>
<ellipse cx="198" cy="138.5" rx="3.8" ry="2.3" transform="rotate(0 198 138.5)" fill="url(#gY)"/>
<ellipse cx="205" cy="149.5" rx="2.8" ry="3.4" transform="rotate(-15 205 149.5)" fill="url(#gY)"/>
</g></g>
<g clip-path="url(#clipA)"><g filter="url(#soft)">
<line x1="221" y1="136" x2="222" y2="148" stroke="#a8c860" stroke-width="2.4" stroke-linecap="round"/>
<line x1="215" y1="143" x2="221" y2="142.5" stroke="#a8c860" stroke-width="1.4" stroke-linecap="round"/>
<ellipse cx="221" cy="132.5" rx="4.2" ry="3.3" transform="rotate(0 221 132.5)" fill="url(#gY)"/>
<ellipse cx="222.5" cy="148.5" rx="4" ry="2.6" transform="rotate(0 222.5 148.5)" fill="url(#gY)"/>
</g></g>
<g clip-path="url(#clipA)"><g filter="url(#soft)">
<line x1="241" y1="135" x2="242" y2="147" stroke="#a8c860" stroke-width="2.2" stroke-linecap="round"/>
<line x1="234.5" y1="141" x2="241" y2="141" stroke="#a8c860" stroke-width="1.4" stroke-linecap="round"/>
<ellipse cx="240.5" cy="131.5" rx="3.4" ry="3.5" transform="rotate(0 240.5 131.5)" fill="url(#gY)"/>
<ellipse cx="243" cy="148" rx="2.6" ry="2.4" transform="rotate(0 243 148)" fill="url(#gY)"/>
</g></g>
<path d="M254,130 L261,137 M257,133 L262,131" stroke="#cfcfcf" stroke-width="1" fill="none"/>
<g clip-path="url(#clipA)"><g filter="url(#soft)">
<line x1="266" y1="134" x2="264" y2="141" stroke="#a8c860" stroke-width="2.2" stroke-linecap="round"/>
<ellipse cx="268.5" cy="129.5" rx="3" ry="3.3" transform="rotate(20 268.5 129.5)" fill="url(#gY)"/>
<ellipse cx="263.5" cy="144.5" rx="3.8" ry="2.5" transform="rotate(-15 263.5 144.5)" fill="url(#gO)"/>
</g></g>
<g clip-path="url(#clipA)"><g filter="url(#soft)">
<line x1="294.5" y1="133.0" x2="292.0" y2="130.5" stroke="#3a9e35" stroke-width="2.0" stroke-linecap="round"/>
<line x1="294.5" y1="133.0" x2="297.5" y2="130.0" stroke="#3a9e35" stroke-width="2.0" stroke-linecap="round"/>
<line x1="294.5" y1="133.0" x2="295.0" y2="135.5" stroke="#3a9e35" stroke-width="2.0" stroke-linecap="round"/>
<line x1="294.5" y1="133.0" x2="299.5" y2="137.5" stroke="#3a9e35" stroke-width="2.0" stroke-linecap="round"/>
<ellipse cx="292.0" cy="130.5" rx="3.8" ry="3.2" transform="rotate(-135 292.0 130.5)" fill="url(#gG)"/>
<ellipse cx="297.5" cy="130.0" rx="3.8" ry="3.2" transform="rotate(-45 297.5 130.0)" fill="url(#gG)"/>
<ellipse cx="295.0" cy="135.5" rx="3.3" ry="2.8" transform="rotate(79 295.0 135.5)" fill="url(#gG)"/>
<ellipse cx="299.5" cy="137.5" rx="3.3" ry="2.8" transform="rotate(42 299.5 137.5)" fill="url(#gG)"/>
<circle cx="294.5" cy="133.0" r="2.2" fill="#3a9e35"/>
</g></g>
<line x1="292.50" y1="136.00" x2="292.00" y2="146.00" stroke="#bbb" stroke-width="1.2"/>
<g clip-path="url(#clipA)"><g filter="url(#soft)">
<line x1="318.4" y1="139.0" x2="315.5" y2="138.5" stroke="#5cb43e" stroke-width="2.0" stroke-linecap="round"/>
<line x1="318.4" y1="139.0" x2="320.5" y2="137.0" stroke="#5cb43e" stroke-width="2.0" stroke-linecap="round"/>
<line x1="318.4" y1="139.0" x2="318.5" y2="141.5" stroke="#5cb43e" stroke-width="2.0" stroke-linecap="round"/>
<ellipse cx="315.5" cy="138.5" rx="3.8" ry="3.2" transform="rotate(-170 315.5 138.5)" fill="url(#gL)"/>
<ellipse cx="320.5" cy="137.0" rx="3.8" ry="3.2" transform="rotate(-44 320.5 137.0)" fill="url(#gL)"/>
<ellipse cx="318.5" cy="141.5" rx="3.5" ry="3.0" transform="rotate(88 318.5 141.5)" fill="url(#gL)"/>
<circle cx="318.4" cy="139.0" r="2.2" fill="#5cb43e"/>
</g></g>
<g clip-path="url(#clipA)"><g filter="url(#soft)">
<line x1="335.0" y1="142.0" x2="332.5" y2="140.5" stroke="#3a9e35" stroke-width="2.0" stroke-linecap="round"/>
<line x1="335.0" y1="142.0" x2="337.5" y2="140.5" stroke="#3a9e35" stroke-width="2.0" stroke-linecap="round"/>
<line x1="335.0" y1="142.0" x2="335.0" y2="146.0" stroke="#3a9e35" stroke-width="2.0" stroke-linecap="round"/>
<ellipse cx="332.5" cy="140.5" rx="3.5" ry="3.0" transform="rotate(-149 332.5 140.5)" fill="url(#gG)"/>
<ellipse cx="337.5" cy="140.5" rx="3.5" ry="3.0" transform="rotate(-31 337.5 140.5)" fill="url(#gG)"/>
<ellipse cx="335.0" cy="146.0" rx="3.5" ry="3.0" transform="rotate(90 335.0 146.0)" fill="url(#gG)"/>
<circle cx="335.0" cy="142.0" r="2.2" fill="#3a9e35"/>
</g></g>
<path d="M362,148 Q360,140 364,136" stroke="#ddd" stroke-width="1.3" fill="none"/>
<g clip-path="url(#clipA)"><g filter="url(#soft)">
<line x1="366.0" y1="135.0" x2="364.0" y2="133.0" stroke="#5cb43e" stroke-width="2.0" stroke-linecap="round"/>
<line x1="366.0" y1="135.0" x2="369.0" y2="134.0" stroke="#5cb43e" stroke-width="2.0" stroke-linecap="round"/>
<line x1="366.0" y1="135.0" x2="366.0" y2="137.5" stroke="#5cb43e" stroke-width="2.0" stroke-linecap="round"/>
<ellipse cx="364.0" cy="133.0" rx="3.5" ry="3.0" transform="rotate(-135 364.0 133.0)" fill="url(#gL)"/>
<ellipse cx="369.0" cy="134.0" rx="3.5" ry="3.0" transform="rotate(-18 369.0 134.0)" fill="url(#gL)"/>
<ellipse cx="366.0" cy="137.5" rx="2.9" ry="2.4" transform="rotate(90 366.0 137.5)" fill="url(#gL)"/>
<circle cx="366.0" cy="135.0" r="2.2" fill="#5cb43e"/>
</g></g>
<line x1="341.30" y1="150.40" x2="371.50" y2="150.40" stroke="#f4f4f4" stroke-width="2"/>
<g clip-path="url(#clipA)"><g filter="url(#soft)">
<line x1="102.7" y1="177.9" x2="104.8" y2="168.5" stroke="#3a9e35" stroke-width="2.0" stroke-linecap="round"/>
<line x1="102.7" y1="177.9" x2="96.4" y2="178.9" stroke="#3a9e35" stroke-width="2.0" stroke-linecap="round"/>
<line x1="102.7" y1="177.9" x2="101.6" y2="186.2" stroke="#3a9e35" stroke-width="2.0" stroke-linecap="round"/>
<line x1="102.7" y1="177.9" x2="108.9" y2="176.9" stroke="#3a9e35" stroke-width="2.0" stroke-linecap="round"/>
<ellipse cx="104.8" cy="168.5" rx="4.3" ry="3.6" transform="rotate(-77 104.8 168.5)" fill="url(#gG)"/>
<ellipse cx="96.4" cy="178.9" rx="4.3" ry="3.6" transform="rotate(171 96.4 178.9)" fill="url(#gG)"/>
<ellipse cx="101.6" cy="186.2" rx="4.5" ry="3.8" transform="rotate(98 101.6 186.2)" fill="url(#gG)"/>
<ellipse cx="108.9" cy="176.9" rx="4.0" ry="3.4" transform="rotate(-9 108.9 176.9)" fill="url(#gG)"/>
<circle cx="102.7" cy="177.9" r="2.2" fill="#3a9e35"/>
</g></g>
<g clip-path="url(#clipA)"><g filter="url(#soft)">
<line x1="118.3" y1="181.0" x2="118.3" y2="170.6" stroke="#3a9e35" stroke-width="2.0" stroke-linecap="round"/>
<line x1="118.3" y1="181.0" x2="111.0" y2="186.2" stroke="#3a9e35" stroke-width="2.0" stroke-linecap="round"/>
<line x1="118.3" y1="181.0" x2="126.6" y2="187.3" stroke="#3a9e35" stroke-width="2.0" stroke-linecap="round"/>
<line x1="118.3" y1="181.0" x2="123.5" y2="180.0" stroke="#3a9e35" stroke-width="2.0" stroke-linecap="round"/>
<line x1="118.3" y1="181.0" x2="114.0" y2="177.0" stroke="#3a9e35" stroke-width="2.0" stroke-linecap="round"/>
<ellipse cx="118.3" cy="170.6" rx="4.8" ry="4.0" transform="rotate(-90 118.3 170.6)" fill="url(#gG)"/>
<ellipse cx="111.0" cy="186.2" rx="4.5" ry="3.8" transform="rotate(145 111.0 186.2)" fill="url(#gG)"/>
<ellipse cx="126.6" cy="187.3" rx="5.0" ry="4.3" transform="rotate(37 126.6 187.3)" fill="url(#gG)"/>
<ellipse cx="123.5" cy="180.0" rx="4.0" ry="3.4" transform="rotate(-11 123.5 180.0)" fill="url(#gG)"/>
<ellipse cx="114.0" cy="177.0" rx="3.3" ry="2.8" transform="rotate(-137 114.0 177.0)" fill="url(#gG)"/>
<circle cx="118.3" cy="181.0" r="2.2" fill="#3a9e35"/>
</g></g>
<g clip-path="url(#clipA)"><g filter="url(#soft)">
<line x1="145.4" y1="177.9" x2="138.0" y2="174.8" stroke="#5cb43e" stroke-width="2.0" stroke-linecap="round"/>
<line x1="145.4" y1="177.9" x2="147.4" y2="171.6" stroke="#5cb43e" stroke-width="2.0" stroke-linecap="round"/>
<line x1="145.4" y1="177.9" x2="143.3" y2="186.2" stroke="#5cb43e" stroke-width="2.0" stroke-linecap="round"/>
<line x1="145.4" y1="177.9" x2="151.6" y2="177.9" stroke="#5cb43e" stroke-width="2.0" stroke-linecap="round"/>
<ellipse cx="138.0" cy="174.8" rx="4.1" ry="3.5" transform="rotate(-157 138.0 174.8)" fill="url(#gL)"/>
<ellipse cx="147.4" cy="171.6" rx="4.3" ry="3.6" transform="rotate(-72 147.4 171.6)" fill="url(#gL)"/>
<ellipse cx="143.3" cy="186.2" rx="4.5" ry="3.8" transform="rotate(104 143.3 186.2)" fill="url(#gL)"/>
<ellipse cx="151.6" cy="177.9" rx="4.0" ry="3.4" transform="rotate(0 151.6 177.9)" fill="url(#gL)"/>
<circle cx="145.4" cy="177.9" r="2.2" fill="#5cb43e"/>
</g></g>
<g clip-path="url(#clipA)"><g filter="url(#soft)">
<line x1="163.0" y1="181.0" x2="164.0" y2="173.7" stroke="#3a9e35" stroke-width="2.0" stroke-linecap="round"/>
<line x1="163.0" y1="181.0" x2="168.2" y2="180.0" stroke="#3a9e35" stroke-width="2.0" stroke-linecap="round"/>
<line x1="163.0" y1="181.0" x2="167.2" y2="189.3" stroke="#3a9e35" stroke-width="2.0" stroke-linecap="round"/>
<line x1="163.0" y1="181.0" x2="155.8" y2="183.1" stroke="#3a9e35" stroke-width="2.0" stroke-linecap="round"/>
<line x1="163.0" y1="181.0" x2="160.0" y2="188.0" stroke="#3a9e35" stroke-width="2.0" stroke-linecap="round"/>
<ellipse cx="164.0" cy="173.7" rx="4.5" ry="3.8" transform="rotate(-82 164.0 173.7)" fill="url(#gG)"/>
<ellipse cx="168.2" cy="180.0" rx="4.0" ry="3.4" transform="rotate(-11 168.2 180.0)" fill="url(#gG)"/>
<ellipse cx="167.2" cy="189.3" rx="4.5" ry="3.8" transform="rotate(63 167.2 189.3)" fill="url(#gG)"/>
<ellipse cx="155.8" cy="183.1" rx="4.0" ry="3.4" transform="rotate(164 155.8 183.1)" fill="url(#gG)"/>
<ellipse cx="160.0" cy="188.0" rx="3.8" ry="3.2" transform="rotate(113 160.0 188.0)" fill="url(#gG)"/>
<circle cx="163.0" cy="181.0" r="2.2" fill="#3a9e35"/>
</g></g>
<path d="M192,183 Q186,178 190,173 Q196,170 198,178" stroke="#9a9a9a" stroke-width="1" fill="none"/>
<g clip-path="url(#clipA)"><g filter="url(#soft)">
<line x1="198" y1="182" x2="208" y2="178" stroke="#bcd870" stroke-width="2.4"/>
<ellipse cx="209.9" cy="176.5" rx="4.6" ry="4.0" transform="rotate(0 209.9 176.5)" fill="url(#gY)"/>
<ellipse cx="198.5" cy="181.5" rx="3.3" ry="2.4" transform="rotate(0 198.5 181.5)" fill="url(#gY)"/>
</g></g>
<g clip-path="url(#clipA)"><g filter="url(#soft)">
<line x1="226" y1="178" x2="223" y2="190" stroke="#bcd870" stroke-width="2.4"/>
<ellipse cx="226.5" cy="175.5" rx="4.6" ry="4.4" transform="rotate(0 226.5 175.5)" fill="url(#gY)"/>
<ellipse cx="222.4" cy="191.5" rx="3.5" ry="3.7" transform="rotate(0 222.4 191.5)" fill="url(#gY)"/>
</g></g>
<path d="M230,185 Q240,182 250,186" stroke="#aaa" stroke-width="1" fill="none"/>
<g clip-path="url(#clipA)"><g filter="url(#soft)">
<line x1="248" y1="172" x2="249" y2="187" stroke="#bcd870" stroke-width="2.4"/>
<ellipse cx="247.3" cy="171.6" rx="2.9" ry="5.0" transform="rotate(-20 247.3 171.6)" fill="url(#gY)"/>
<ellipse cx="249.4" cy="186.2" rx="3.5" ry="3.9" transform="rotate(0 249.4 186.2)" fill="url(#gY)"/>
<ellipse cx="253" cy="180" rx="2.6" ry="2.0" transform="rotate(0 253 180)" fill="url(#gY)"/>
</g></g>
<g clip-path="url(#clipA)"><g filter="url(#soft)">
<line x1="258" y1="183" x2="274" y2="184" stroke="#bcd870" stroke-width="2.4"/>
<ellipse cx="262" cy="181.5" rx="2.9" ry="3.5" transform="rotate(0 262 181.5)" fill="url(#gY)"/>
<ellipse cx="268" cy="183.5" rx="2.9" ry="3.3" transform="rotate(0 268 183.5)" fill="url(#gY)"/>
<ellipse cx="273" cy="185" rx="2.4" ry="2.4" transform="rotate(0 273 185)" fill="url(#gY)"/>
</g></g>
<path d="M296,180 Q305,178 307,175 Q310,181 303,183" stroke="#9a9a9a" stroke-width="1" fill="none"/>
<g clip-path="url(#clipA)"><g filter="url(#soft)">
<line x1="290.6" y1="178.3" x2="285.3" y2="174.0" stroke="#5cb43e" stroke-width="2.0" stroke-linecap="round"/>
<line x1="290.6" y1="178.3" x2="292.7" y2="174.6" stroke="#5cb43e" stroke-width="2.0" stroke-linecap="round"/>
<line x1="290.6" y1="178.3" x2="288.5" y2="183.6" stroke="#5cb43e" stroke-width="2.0" stroke-linecap="round"/>
<line x1="290.6" y1="178.3" x2="295.9" y2="179.9" stroke="#5cb43e" stroke-width="2.0" stroke-linecap="round"/>
<ellipse cx="285.3" cy="174.0" rx="4.0" ry="3.4" transform="rotate(-141 285.3 174.0)" fill="url(#gL)"/>
<ellipse cx="292.7" cy="174.6" rx="4.0" ry="3.4" transform="rotate(-60 292.7 174.6)" fill="url(#gL)"/>
<ellipse cx="288.5" cy="183.6" rx="4.0" ry="3.4" transform="rotate(112 288.5 183.6)" fill="url(#gL)"/>
<ellipse cx="295.9" cy="179.9" rx="3.3" ry="2.8" transform="rotate(17 295.9 179.9)" fill="url(#gL)"/>
<circle cx="290.6" cy="178.3" r="2.2" fill="#5cb43e"/>
</g></g>
<g clip-path="url(#clipA)"><g filter="url(#soft)">
<line x1="324.4" y1="179.3" x2="321.3" y2="175.1" stroke="#3a9e35" stroke-width="2.0" stroke-linecap="round"/>
<line x1="324.4" y1="179.3" x2="328.7" y2="181.5" stroke="#3a9e35" stroke-width="2.0" stroke-linecap="round"/>
<line x1="324.4" y1="179.3" x2="326.6" y2="184.1" stroke="#3a9e35" stroke-width="2.0" stroke-linecap="round"/>
<line x1="324.4" y1="179.3" x2="319.0" y2="178.0" stroke="#3a9e35" stroke-width="2.0" stroke-linecap="round"/>
<ellipse cx="321.3" cy="175.1" rx="4.0" ry="3.4" transform="rotate(-126 321.3 175.1)" fill="url(#gG)"/>
<ellipse cx="328.7" cy="181.5" rx="4.0" ry="3.4" transform="rotate(27 328.7 181.5)" fill="url(#gG)"/>
<ellipse cx="326.6" cy="184.1" rx="3.8" ry="3.2" transform="rotate(65 326.6 184.1)" fill="url(#gG)"/>
<ellipse cx="319.0" cy="178.0" rx="2.8" ry="2.3" transform="rotate(-166 319.0 178.0)" fill="url(#gG)"/>
<circle cx="324.4" cy="179.3" r="2.2" fill="#3a9e35"/>
</g></g>
<g clip-path="url(#clipA)"><g filter="url(#soft)">
<line x1="347.7" y1="182.5" x2="344.6" y2="180.4" stroke="#3a9e35" stroke-width="2.0" stroke-linecap="round"/>
<line x1="347.7" y1="182.5" x2="350.9" y2="179.3" stroke="#3a9e35" stroke-width="2.0" stroke-linecap="round"/>
<line x1="347.7" y1="182.5" x2="347.0" y2="186.0" stroke="#3a9e35" stroke-width="2.0" stroke-linecap="round"/>
<ellipse cx="344.6" cy="180.4" rx="3.8" ry="3.2" transform="rotate(-146 344.6 180.4)" fill="url(#gG)"/>
<ellipse cx="350.9" cy="179.3" rx="3.8" ry="3.2" transform="rotate(-45 350.9 179.3)" fill="url(#gG)"/>
<ellipse cx="347.0" cy="186.0" rx="3.0" ry="2.6" transform="rotate(101 347.0 186.0)" fill="url(#gG)"/>
<circle cx="347.7" cy="182.5" r="2.2" fill="#3a9e35"/>
</g></g>
<g clip-path="url(#clipA)"><g filter="url(#soft)">
<line x1="365.7" y1="181.5" x2="360.4" y2="182.0" stroke="#3a9e35" stroke-width="2.0" stroke-linecap="round"/>
<line x1="365.7" y1="181.5" x2="366.2" y2="176.2" stroke="#3a9e35" stroke-width="2.0" stroke-linecap="round"/>
<line x1="365.7" y1="181.5" x2="372.0" y2="185.2" stroke="#3a9e35" stroke-width="2.0" stroke-linecap="round"/>
<line x1="365.7" y1="181.5" x2="368.0" y2="187.0" stroke="#3a9e35" stroke-width="2.0" stroke-linecap="round"/>
<ellipse cx="360.4" cy="182.0" rx="4.3" ry="3.6" transform="rotate(175 360.4 182.0)" fill="url(#gG)"/>
<ellipse cx="366.2" cy="176.2" rx="4.0" ry="3.4" transform="rotate(-85 366.2 176.2)" fill="url(#gG)"/>
<ellipse cx="372.0" cy="185.2" rx="4.3" ry="3.6" transform="rotate(30 372.0 185.2)" fill="url(#gG)"/>
<ellipse cx="368.0" cy="187.0" rx="3.3" ry="2.8" transform="rotate(67 368.0 187.0)" fill="url(#gG)"/>
<circle cx="365.7" cy="181.5" r="2.2" fill="#3a9e35"/>
</g></g>
<line x1="340.80" y1="191.50" x2="371.50" y2="191.50" stroke="#f4f4f4" stroke-width="2"/>
<g clip-path="url(#clipA)"><g filter="url(#soft)">
<line x1="101.0" y1="217.0" x2="98.5" y2="209.0" stroke="#3a9e35" stroke-width="2.0" stroke-linecap="round"/>
<line x1="101.0" y1="217.0" x2="96.4" y2="216.4" stroke="#3a9e35" stroke-width="2.0" stroke-linecap="round"/>
<line x1="101.0" y1="217.0" x2="101.6" y2="223.7" stroke="#3a9e35" stroke-width="2.0" stroke-linecap="round"/>
<line x1="101.0" y1="217.0" x2="107.9" y2="218.5" stroke="#3a9e35" stroke-width="2.0" stroke-linecap="round"/>
<ellipse cx="98.5" cy="209.0" rx="4.5" ry="3.8" transform="rotate(-107 98.5 209.0)" fill="url(#gG)"/>
<ellipse cx="96.4" cy="216.4" rx="4.0" ry="3.4" transform="rotate(-173 96.4 216.4)" fill="url(#gG)"/>
<ellipse cx="101.6" cy="223.7" rx="4.5" ry="3.8" transform="rotate(85 101.6 223.7)" fill="url(#gG)"/>
<ellipse cx="107.9" cy="218.5" rx="4.3" ry="3.6" transform="rotate(12 107.9 218.5)" fill="url(#gG)"/>
<circle cx="101.0" cy="217.0" r="2.2" fill="#3a9e35"/>
</g></g>
<g clip-path="url(#clipA)"><g filter="url(#soft)">
<line x1="118.0" y1="213.0" x2="116.2" y2="202.9" stroke="#3a9e35" stroke-width="2.0" stroke-linecap="round"/>
<line x1="118.0" y1="213.0" x2="114.1" y2="211.2" stroke="#3a9e35" stroke-width="2.0" stroke-linecap="round"/>
<line x1="118.0" y1="213.0" x2="124.5" y2="217.4" stroke="#3a9e35" stroke-width="2.0" stroke-linecap="round"/>
<line x1="118.0" y1="213.0" x2="128.7" y2="221.6" stroke="#3a9e35" stroke-width="2.0" stroke-linecap="round"/>
<line x1="118.0" y1="213.0" x2="116.2" y2="218.4" stroke="#3a9e35" stroke-width="2.0" stroke-linecap="round"/>
<ellipse cx="116.2" cy="202.9" rx="4.5" ry="3.8" transform="rotate(-100 116.2 202.9)" fill="url(#gG)"/>
<ellipse cx="114.1" cy="211.2" rx="4.0" ry="3.4" transform="rotate(-155 114.1 211.2)" fill="url(#gG)"/>
<ellipse cx="124.5" cy="217.4" rx="4.5" ry="3.8" transform="rotate(34 124.5 217.4)" fill="url(#gG)"/>
<ellipse cx="128.7" cy="221.6" rx="4.8" ry="4.0" transform="rotate(39 128.7 221.6)" fill="url(#gG)"/>
<ellipse cx="116.2" cy="218.4" rx="4.0" ry="3.4" transform="rotate(108 116.2 218.4)" fill="url(#gG)"/>
<circle cx="118.0" cy="213.0" r="2.2" fill="#3a9e35"/>
</g></g>
<g clip-path="url(#clipA)"><g filter="url(#soft)">
<line x1="140.2" y1="218.0" x2="140.2" y2="211.2" stroke="#5cb43e" stroke-width="2.0" stroke-linecap="round"/>
<line x1="140.2" y1="218.0" x2="139.1" y2="223.7" stroke="#5cb43e" stroke-width="2.0" stroke-linecap="round"/>
<line x1="140.2" y1="218.0" x2="147.4" y2="220.6" stroke="#5cb43e" stroke-width="2.0" stroke-linecap="round"/>
<line x1="140.2" y1="218.0" x2="135.0" y2="219.5" stroke="#5cb43e" stroke-width="2.0" stroke-linecap="round"/>
<ellipse cx="140.2" cy="211.2" rx="4.5" ry="3.8" transform="rotate(-90 140.2 211.2)" fill="url(#gL)"/>
<ellipse cx="139.1" cy="223.7" rx="4.5" ry="3.8" transform="rotate(101 139.1 223.7)" fill="url(#gL)"/>
<ellipse cx="147.4" cy="220.6" rx="4.3" ry="3.6" transform="rotate(20 147.4 220.6)" fill="url(#gL)"/>
<ellipse cx="135.0" cy="219.5" rx="3.8" ry="3.2" transform="rotate(164 135.0 219.5)" fill="url(#gL)"/>
<circle cx="140.2" cy="218.0" r="2.2" fill="#5cb43e"/>
</g></g>
<g clip-path="url(#clipA)"><g filter="url(#soft)">
<line x1="168.2" y1="216.0" x2="168.2" y2="211.2" stroke="#5cb43e" stroke-width="2.0" stroke-linecap="round"/>
<line x1="168.2" y1="216.0" x2="163.0" y2="221.6" stroke="#5cb43e" stroke-width="2.0" stroke-linecap="round"/>
<line x1="168.2" y1="216.0" x2="171.4" y2="217.4" stroke="#5cb43e" stroke-width="2.0" stroke-linecap="round"/>
<line x1="168.2" y1="216.0" x2="165.0" y2="213.0" stroke="#5cb43e" stroke-width="2.0" stroke-linecap="round"/>
<ellipse cx="168.2" cy="211.2" rx="4.3" ry="3.6" transform="rotate(-90 168.2 211.2)" fill="url(#gL)"/>
<ellipse cx="163.0" cy="221.6" rx="4.3" ry="3.6" transform="rotate(133 163.0 221.6)" fill="url(#gL)"/>
<ellipse cx="171.4" cy="217.4" rx="4.0" ry="3.4" transform="rotate(24 171.4 217.4)" fill="url(#gL)"/>
<ellipse cx="165.0" cy="213.0" rx="3.3" ry="2.8" transform="rotate(-137 165.0 213.0)" fill="url(#gL)"/>
<circle cx="168.2" cy="216.0" r="2.2" fill="#5cb43e"/>
</g></g>
<g clip-path="url(#clipA)">
<path d="M190,214 Q196,224 204,219 Q212,214 220,223 Q228,219 236,217 Q246,215 252,219 Q260,222 270,223" stroke="#b8b8b8" stroke-width="1.1" fill="none"/>
<path d="M243,214 Q241,205 247,204 Q252,206 250,213" stroke="#aaa" stroke-width="1" fill="none"/>
</g>
<g clip-path="url(#clipA)"><g filter="url(#soft)">
<line x1="191" y1="213" x2="198.6" y2="221" stroke="#a8c860" stroke-width="2.2" stroke-linecap="round"/>
<line x1="210.8" y1="216.4" x2="220" y2="224" stroke="#a8c860" stroke-width="2" stroke-linecap="round"/>
<line x1="229.3" y1="218" x2="236" y2="217" stroke="#a8c860" stroke-width="2" stroke-linecap="round"/>
<line x1="244.6" y1="216.4" x2="256.9" y2="219.5" stroke="#a8c860" stroke-width="2" stroke-linecap="round"/>
<line x1="266" y1="216.4" x2="269" y2="225.6" stroke="#a8c860" stroke-width="2" stroke-linecap="round"/>
<ellipse cx="190.9" cy="212.8" rx="2.8" ry="4.2" transform="rotate(-35 190.9 212.8)" fill="url(#gY)"/>
<ellipse cx="198.6" cy="221" rx="4.2" ry="3" transform="rotate(0 198.6 221)" fill="url(#gY)"/>
<ellipse cx="210.8" cy="216.4" rx="4.8" ry="3.2" transform="rotate(-10 210.8 216.4)" fill="url(#gY)"/>
<ellipse cx="220" cy="223.5" rx="3.2" ry="2.6" transform="rotate(0 220 223.5)" fill="url(#gY)"/>
<ellipse cx="229.3" cy="218" rx="4.8" ry="3.3" transform="rotate(5 229.3 218)" fill="url(#gY)"/>
<ellipse cx="238" cy="217" rx="3" ry="2.4" transform="rotate(0 238 217)" fill="url(#gY)"/>
<ellipse cx="244.6" cy="216.4" rx="4.2" ry="3.1" transform="rotate(-10 244.6 216.4)" fill="url(#gY)"/>
<ellipse cx="256.9" cy="219.5" rx="3.6" ry="4.2" transform="rotate(0 256.9 219.5)" fill="url(#gY)"/>
<ellipse cx="266" cy="215.6" rx="3" ry="4" transform="rotate(15 266 215.6)" fill="url(#gY)"/>
<ellipse cx="270" cy="225.6" rx="3.6" ry="3" transform="rotate(0 270 225.6)" fill="url(#gY)"/>
</g></g>
<g clip-path="url(#clipA)"><g filter="url(#soft)">
<line x1="299.0" y1="218.5" x2="301.2" y2="210.6" stroke="#5cb43e" stroke-width="2.0" stroke-linecap="round"/>
<line x1="299.0" y1="218.5" x2="293.8" y2="218.0" stroke="#5cb43e" stroke-width="2.0" stroke-linecap="round"/>
<line x1="299.0" y1="218.5" x2="305.4" y2="220.0" stroke="#5cb43e" stroke-width="2.0" stroke-linecap="round"/>
<ellipse cx="301.2" cy="210.6" rx="3.8" ry="3.2" transform="rotate(-74 301.2 210.6)" fill="url(#gL)"/>
<ellipse cx="293.8" cy="218.0" rx="4.0" ry="3.4" transform="rotate(-175 293.8 218.0)" fill="url(#gL)"/>
<ellipse cx="305.4" cy="220.0" rx="4.5" ry="3.8" transform="rotate(13 305.4 220.0)" fill="url(#gL)"/>
<circle cx="299.0" cy="218.5" r="2.2" fill="#5cb43e"/>
</g></g>
<g clip-path="url(#clipA)"><g filter="url(#soft)">
<line x1="322.3" y1="218.5" x2="315.4" y2="222.2" stroke="#3a9e35" stroke-width="2.0" stroke-linecap="round"/>
<line x1="322.3" y1="218.5" x2="328.7" y2="216.4" stroke="#3a9e35" stroke-width="2.0" stroke-linecap="round"/>
<line x1="322.3" y1="218.5" x2="321.3" y2="216.4" stroke="#3a9e35" stroke-width="2.0" stroke-linecap="round"/>
<ellipse cx="315.4" cy="222.2" rx="4.5" ry="3.8" transform="rotate(152 315.4 222.2)" fill="url(#gG)"/>
<ellipse cx="328.7" cy="216.4" rx="4.5" ry="3.8" transform="rotate(-18 328.7 216.4)" fill="url(#gG)"/>
<ellipse cx="321.3" cy="216.4" rx="3.5" ry="3.0" transform="rotate(-115 321.3 216.4)" fill="url(#gG)"/>
<circle cx="322.3" cy="218.5" r="2.2" fill="#3a9e35"/>
</g></g>
<g clip-path="url(#clipA)"><g filter="url(#soft)">
<line x1="354.0" y1="220.6" x2="346.7" y2="223.8" stroke="#3a9e35" stroke-width="2.0" stroke-linecap="round"/>
<line x1="354.0" y1="220.6" x2="350.4" y2="215.8" stroke="#3a9e35" stroke-width="2.0" stroke-linecap="round"/>
<line x1="354.0" y1="220.6" x2="357.2" y2="218.5" stroke="#3a9e35" stroke-width="2.0" stroke-linecap="round"/>
<ellipse cx="346.7" cy="223.8" rx="4.8" ry="4.0" transform="rotate(156 346.7 223.8)" fill="url(#gG)"/>
<ellipse cx="350.4" cy="215.8" rx="4.0" ry="3.4" transform="rotate(-127 350.4 215.8)" fill="url(#gG)"/>
<ellipse cx="357.2" cy="218.5" rx="3.8" ry="3.2" transform="rotate(-33 357.2 218.5)" fill="url(#gG)"/>
<circle cx="354.0" cy="220.6" r="2.2" fill="#3a9e35"/>
</g></g>
<g clip-path="url(#clipA)"><g filter="url(#soft)">
<line x1="365.7" y1="220.6" x2="365.7" y2="218.5" stroke="#3a9e35" stroke-width="2.0" stroke-linecap="round"/>
<line x1="365.7" y1="220.6" x2="364.7" y2="226.4" stroke="#3a9e35" stroke-width="2.0" stroke-linecap="round"/>
<line x1="365.7" y1="220.6" x2="369.8" y2="223.8" stroke="#3a9e35" stroke-width="2.0" stroke-linecap="round"/>
<ellipse cx="365.7" cy="218.5" rx="3.8" ry="3.2" transform="rotate(-90 365.7 218.5)" fill="url(#gG)"/>
<ellipse cx="364.7" cy="226.4" rx="4.3" ry="3.6" transform="rotate(100 364.7 226.4)" fill="url(#gG)"/>
<ellipse cx="369.8" cy="223.8" rx="4.0" ry="3.4" transform="rotate(38 369.8 223.8)" fill="url(#gG)"/>
<circle cx="365.7" cy="220.6" r="2.2" fill="#3a9e35"/>
</g></g>
<line x1="340.80" y1="233.30" x2="371.50" y2="233.30" stroke="#f4f4f4" stroke-width="2"/>
<text x="22.00" y="66.80" font-size="21" text-anchor="start" fill="#111" style="font-family:'Liberation Serif', serif;">Λ</text>
<text x="143.60" y="63.10" font-size="16.5" text-anchor="middle" fill="#111" style="font-family:'Liberation Sans', sans-serif;">Mock</text>
<text x="235.60" y="49.30" font-size="16.5" text-anchor="middle" fill="#111" style="font-family:'Liberation Sans', sans-serif;">ZEO</text>
<text x="240.70" y="68.50" font-size="16.5" text-anchor="middle" fill="#111" style="font-family:'Liberation Sans', sans-serif;">(15 μg·mL<tspan font-size="10" dy="-6">-1</tspan><tspan dy="6">)</tspan></text>
<text x="335.80" y="49.30" font-size="16.5" text-anchor="middle" fill="#111" style="font-family:'Liberation Sans', sans-serif;">MMS</text>
<text x="336.00" y="68.50" font-size="16.5" text-anchor="middle" fill="#111" style="font-family:'Liberation Sans', sans-serif;">(80 ppm)</text>
<text x="71.00" y="114.00" font-size="16.5" text-anchor="end" fill="#111" style="font-family:'Liberation Sans', sans-serif;">Col-0</text>
<text x="71.00" y="149.50" font-size="16.5" text-anchor="end" fill="#111" style="font-family:'Liberation Sans', sans-serif;font-style:italic;">rfc4e-1</text>
<text x="71.00" y="187.00" font-size="16.5" text-anchor="end" fill="#111" style="font-family:'Liberation Sans', sans-serif;font-style:italic;">rfc4e-2</text>
<text x="71.00" y="223.50" font-size="16.5" text-anchor="end" fill="#111" style="font-family:'Liberation Sans', sans-serif;font-style:italic;">rfc4e-3</text>
<rect x="681.50" y="63.60" width="90.30" height="152.90" fill="#17131f"/>
<rect x="774.60" y="63.60" width="89.30" height="152.90" fill="url(#gZ)"/>
<rect x="867.00" y="63.60" width="90.00" height="152.90" fill="#050505"/>
<rect x="681.50" y="220.00" width="90.30" height="96.60" fill="#17131f"/>
<rect x="774.60" y="220.00" width="89.30" height="96.60" fill="url(#gZ2)"/>
<rect x="867.00" y="220.00" width="90.00" height="96.60" fill="#050505"/>
<rect x="681.50" y="320.00" width="90.30" height="97.00" fill="#17131f"/>
<rect x="774.60" y="320.00" width="89.30" height="97.00" fill="url(#gZ2)"/>
<rect x="867.00" y="320.00" width="90.00" height="97.00" fill="#050505"/>
<rect x="681.50" y="420.30" width="90.30" height="97.70" fill="#17131f"/>
<rect x="774.60" y="420.30" width="89.30" height="97.70" fill="url(#gZ2)"/>
<rect x="867.00" y="420.30" width="90.00" height="97.70" fill="#050505"/>
<rect x="907.8" y="149.1" width="0.9" height="0.9" fill="rgb(104,104,104)"/><rect x="907.8" y="193.6" width="0.9" height="0.9" fill="rgb(69,69,69)"/><rect x="884.3" y="141.8" width="0.9" height="0.9" fill="rgb(68,68,68)"/><rect x="876.3" y="110.4" width="0.9" height="0.9" fill="rgb(56,56,56)"/><rect x="915.4" y="199.0" width="0.9" height="0.9" fill="rgb(50,50,50)"/><rect x="920.4" y="124.4" width="0.9" height="0.9" fill="rgb(102,102,102)"/><rect x="925.5" y="157.5" width="0.9" height="0.9" fill="rgb(65,65,65)"/><rect x="922.8" y="190.1" width="0.9" height="0.9" fill="rgb(53,53,53)"/><rect x="873.2" y="93.3" width="0.9" height="0.9" fill="rgb(75,75,75)"/><rect x="920.8" y="182.0" width="0.9" height="0.9" fill="rgb(86,86,86)"/><rect x="906.8" y="191.7" width="0.9" height="0.9" fill="rgb(111,111,111)"/><rect x="888.6" y="109.0" width="0.9" height="0.9" fill="rgb(45,45,45)"/><rect x="926.3" y="133.6" width="0.9" height="0.9" fill="rgb(80,80,80)"/><rect x="903.8" y="147.8" width="0.9" height="0.9" fill="rgb(55,55,55)"/><rect x="930.3" y="112.2" width="0.9" height="0.9" fill="rgb(74,74,74)"/><rect x="913.1" y="69.1" width="0.9" height="0.9" fill="rgb(117,117,117)"/><rect x="935.4" y="125.0" width="0.9" height="0.9" fill="rgb(82,82,82)"/><rect x="902.0" y="209.2" width="0.9" height="0.9" fill="rgb(45,45,45)"/><rect x="886.8" y="204.5" width="0.9" height="0.9" fill="rgb(51,51,51)"/><rect x="909.4" y="212.5" width="0.9" height="0.9" fill="rgb(95,95,95)"/><rect x="904.9" y="150.0" width="0.9" height="0.9" fill="rgb(70,70,70)"/><rect x="936.5" y="105.3" width="0.9" height="0.9" fill="rgb(56,56,56)"/><rect x="895.4" y="66.9" width="0.9" height="0.9" fill="rgb(97,97,97)"/><rect x="934.7" y="82.4" width="0.9" height="0.9" fill="rgb(76,76,76)"/><rect x="930.2" y="66.3" width="0.9" height="0.9" fill="rgb(104,104,104)"/><rect x="938.1" y="91.4" width="0.9" height="0.9" fill="rgb(116,116,116)"/><rect x="884.6" y="141.4" width="0.9" height="0.9" fill="rgb(61,61,61)"/><rect x="904.9" y="122.5" width="0.9" height="0.9" fill="rgb(95,95,95)"/><rect x="905.0" y="96.7" width="0.9" height="0.9" fill="rgb(79,79,79)"/><rect x="944.1" y="211.7" width="0.9" height="0.9" fill="rgb(120,120,120)"/><rect x="894.8" y="198.1" width="0.9" height="0.9" fill="rgb(71,71,71)"/><rect x="884.5" y="214.9" width="0.9" height="0.9" fill="rgb(118,118,118)"/><rect x="876.8" y="213.9" width="0.9" height="0.9" fill="rgb(72,72,72)"/><rect x="906.9" y="66.0" width="0.9" height="0.9" fill="rgb(87,87,87)"/><rect x="941.1" y="122.9" width="0.9" height="0.9" fill="rgb(54,54,54)"/><rect x="875.9" y="152.5" width="0.9" height="0.9" fill="rgb(76,76,76)"/><rect x="869.4" y="120.2" width="0.9" height="0.9" fill="rgb(103,103,103)"/><rect x="879.2" y="153.2" width="0.9" height="0.9" fill="rgb(118,118,118)"/><rect x="879.9" y="122.9" width="0.9" height="0.9" fill="rgb(64,64,64)"/><rect x="895.4" y="99.1" width="0.9" height="0.9" fill="rgb(76,76,76)"/><rect x="931.8" y="88.5" width="0.9" height="0.9" fill="rgb(115,115,115)"/><rect x="885.3" y="208.0" width="0.9" height="0.9" fill="rgb(106,106,106)"/><rect x="921.1" y="128.2" width="0.9" height="0.9" fill="rgb(58,58,58)"/><rect x="877.6" y="141.9" width="0.9" height="0.9" fill="rgb(77,77,77)"/><rect x="889.0" y="170.9" width="0.9" height="0.9" fill="rgb(77,77,77)"/><rect x="905.0" y="201.1" width="0.9" height="0.9" fill="rgb(107,107,107)"/><rect x="893.8" y="91.1" width="0.9" height="0.9" fill="rgb(53,53,53)"/><rect x="879.1" y="136.9" width="0.9" height="0.9" fill="rgb(54,54,54)"/><rect x="892.7" y="203.0" width="0.9" height="0.9" fill="rgb(71,71,71)"/><rect x="933.9" y="75.0" width="0.9" height="0.9" fill="rgb(97,97,97)"/><rect x="907.2" y="73.7" width="0.9" height="0.9" fill="rgb(67,67,67)"/><rect x="892.8" y="144.7" width="0.9" height="0.9" fill="rgb(61,61,61)"/><rect x="876.1" y="85.5" width="0.9" height="0.9" fill="rgb(102,102,102)"/><rect x="954.3" y="163.7" width="0.9" height="0.9" fill="rgb(111,111,111)"/><rect x="919.4" y="85.8" width="0.9" height="0.9" fill="rgb(49,49,49)"/><rect x="949.3" y="136.2" width="0.9" height="0.9" fill="rgb(90,90,90)"/><rect x="929.7" y="209.9" width="0.9" height="0.9" fill="rgb(47,47,47)"/><rect x="920.7" y="75.9" width="0.9" height="0.9" fill="rgb(53,53,53)"/><rect x="932.3" y="112.7" width="0.9" height="0.9" fill="rgb(54,54,54)"/><rect x="874.6" y="147.0" width="0.9" height="0.9" fill="rgb(50,50,50)"/><rect x="947.2" y="175.8" width="0.9" height="0.9" fill="rgb(61,61,61)"/><rect x="937.8" y="202.7" width="0.9" height="0.9" fill="rgb(90,90,90)"/><rect x="875.5" y="136.0" width="0.9" height="0.9" fill="rgb(54,54,54)"/><rect x="944.7" y="127.5" width="0.9" height="0.9" fill="rgb(48,48,48)"/><rect x="944.0" y="151.0" width="0.9" height="0.9" fill="rgb(93,93,93)"/><rect x="901.4" y="66.5" width="0.9" height="0.9" fill="rgb(54,54,54)"/><rect x="875.1" y="161.1" width="0.9" height="0.9" fill="rgb(77,77,77)"/><rect x="945.4" y="174.5" width="0.9" height="0.9" fill="rgb(94,94,94)"/><rect x="950.2" y="169.3" width="0.9" height="0.9" fill="rgb(103,103,103)"/><rect x="906.8" y="191.1" width="0.9" height="0.9" fill="rgb(55,55,55)"/><rect x="913.6" y="142.2" width="0.9" height="0.9" fill="rgb(84,84,84)"/><rect x="920.9" y="137.2" width="0.9" height="0.9" fill="rgb(74,74,74)"/><rect x="952.3" y="81.6" width="0.9" height="0.9" fill="rgb(107,107,107)"/><rect x="890.5" y="66.3" width="0.9" height="0.9" fill="rgb(83,83,83)"/><rect x="880.6" y="156.9" width="0.9" height="0.9" fill="rgb(111,111,111)"/><rect x="882.9" y="201.3" width="0.9" height="0.9" fill="rgb(101,101,101)"/><rect x="911.9" y="101.0" width="0.9" height="0.9" fill="rgb(96,96,96)"/><rect x="926.6" y="94.6" width="0.9" height="0.9" fill="rgb(100,100,100)"/><rect x="938.7" y="178.5" width="0.9" height="0.9" fill="rgb(70,70,70)"/><rect x="945.5" y="122.6" width="0.9" height="0.9" fill="rgb(119,119,119)"/><rect x="949.0" y="96.3" width="0.9" height="0.9" fill="rgb(62,62,62)"/><rect x="911.7" y="190.9" width="0.9" height="0.9" fill="rgb(50,50,50)"/><rect x="930.6" y="208.0" width="0.9" height="0.9" fill="rgb(80,80,80)"/><rect x="940.3" y="81.6" width="0.9" height="0.9" fill="rgb(105,105,105)"/><rect x="892.2" y="96.9" width="0.9" height="0.9" fill="rgb(97,97,97)"/><rect x="901.7" y="143.1" width="0.9" height="0.9" fill="rgb(85,85,85)"/><rect x="931.0" y="191.6" width="0.9" height="0.9" fill="rgb(102,102,102)"/><rect x="896.2" y="189.7" width="0.9" height="0.9" fill="rgb(80,80,80)"/><rect x="944.8" y="70.9" width="0.9" height="0.9" fill="rgb(80,80,80)"/><rect x="918.2" y="111.2" width="0.9" height="0.9" fill="rgb(117,117,117)"/><rect x="869.7" y="85.1" width="0.9" height="0.9" fill="rgb(103,103,103)"/><rect x="884.7" y="180.7" width="0.9" height="0.9" fill="rgb(79,79,79)"/><rect x="888.9" y="85.9" width="0.9" height="0.9" fill="rgb(51,51,51)"/><rect x="954.6" y="82.0" width="0.9" height="0.9" fill="rgb(58,58,58)"/><rect x="923.4" y="163.4" width="0.9" height="0.9" fill="rgb(92,92,92)"/><rect x="952.3" y="167.9" width="0.9" height="0.9" fill="rgb(70,70,70)"/><rect x="940.5" y="103.2" width="0.9" height="0.9" fill="rgb(46,46,46)"/><rect x="934.4" y="145.3" width="0.9" height="0.9" fill="rgb(49,49,49)"/><rect x="883.8" y="105.7" width="0.9" height="0.9" fill="rgb(89,89,89)"/><rect x="915.5" y="207.5" width="0.9" height="0.9" fill="rgb(109,109,109)"/><rect x="922.1" y="178.7" width="0.9" height="0.9" fill="rgb(95,95,95)"/><rect x="942.7" y="170.2" width="0.9" height="0.9" fill="rgb(73,73,73)"/><rect x="875.7" y="205.3" width="0.9" height="0.9" fill="rgb(94,94,94)"/><rect x="879.4" y="133.0" width="0.9" height="0.9" fill="rgb(45,45,45)"/><rect x="901.2" y="150.4" width="0.9" height="0.9" fill="rgb(109,109,109)"/><rect x="938.1" y="207.1" width="0.9" height="0.9" fill="rgb(104,104,104)"/><rect x="896.7" y="212.8" width="0.9" height="0.9" fill="rgb(57,57,57)"/><rect x="931.5" y="188.1" width="0.9" height="0.9" fill="rgb(60,60,60)"/><rect x="886.8" y="200.4" width="0.9" height="0.9" fill="rgb(56,56,56)"/><rect x="954.0" y="145.6" width="0.9" height="0.9" fill="rgb(86,86,86)"/><rect x="891.0" y="173.0" width="0.9" height="0.9" fill="rgb(47,47,47)"/><rect x="898.7" y="77.1" width="0.9" height="0.9" fill="rgb(101,101,101)"/><rect x="898.1" y="128.2" width="0.9" height="0.9" fill="rgb(80,80,80)"/><rect x="910.9" y="68.9" width="0.9" height="0.9" fill="rgb(53,53,53)"/><rect x="905.7" y="69.9" width="0.9" height="0.9" fill="rgb(113,113,113)"/><rect x="897.5" y="183.5" width="0.9" height="0.9" fill="rgb(62,62,62)"/><rect x="909.4" y="215.5" width="0.9" height="0.9" fill="rgb(111,111,111)"/><rect x="941.9" y="168.6" width="0.9" height="0.9" fill="rgb(108,108,108)"/><rect x="918.9" y="168.6" width="0.9" height="0.9" fill="rgb(73,73,73)"/><rect x="906.7" y="148.9" width="0.9" height="0.9" fill="rgb(116,116,116)"/><rect x="924.2" y="143.5" width="0.9" height="0.9" fill="rgb(116,116,116)"/><rect x="890.6" y="165.9" width="0.9" height="0.9" fill="rgb(71,71,71)"/><rect x="894.8" y="85.9" width="0.9" height="0.9" fill="rgb(114,114,114)"/><rect x="914.1" y="151.1" width="0.9" height="0.9" fill="rgb(70,70,70)"/><rect x="904.2" y="81.8" width="0.9" height="0.9" fill="rgb(45,45,45)"/><rect x="921.3" y="68.8" width="0.9" height="0.9" fill="rgb(50,50,50)"/><rect x="913.4" y="125.0" width="0.9" height="0.9" fill="rgb(117,117,117)"/><rect x="878.7" y="78.7" width="0.9" height="0.9" fill="rgb(66,66,66)"/><rect x="873.8" y="145.9" width="0.9" height="0.9" fill="rgb(97,97,97)"/><rect x="949.0" y="185.4" width="0.9" height="0.9" fill="rgb(96,96,96)"/><rect x="891.7" y="136.0" width="0.9" height="0.9" fill="rgb(61,61,61)"/><rect x="897.9" y="200.5" width="0.9" height="0.9" fill="rgb(105,105,105)"/><rect x="914.2" y="81.0" width="0.9" height="0.9" fill="rgb(98,98,98)"/><rect x="922.4" y="204.2" width="0.9" height="0.9" fill="rgb(61,61,61)"/><rect x="929.8" y="212.1" width="0.9" height="0.9" fill="rgb(49,49,49)"/><rect x="885.1" y="98.9" width="0.9" height="0.9" fill="rgb(81,81,81)"/><rect x="896.3" y="118.2" width="0.9" height="0.9" fill="rgb(108,108,108)"/><rect x="877.2" y="174.9" width="0.9" height="0.9" fill="rgb(60,60,60)"/><rect x="943.0" y="158.7" width="0.9" height="0.9" fill="rgb(70,70,70)"/><rect x="929.7" y="197.2" width="0.9" height="0.9" fill="rgb(47,47,47)"/><rect x="901.1" y="127.0" width="0.9" height="0.9" fill="rgb(112,112,112)"/><rect x="922.2" y="145.8" width="0.9" height="0.9" fill="rgb(113,113,113)"/><rect x="924.2" y="144.5" width="0.9" height="0.9" fill="rgb(114,114,114)"/><rect x="921.8" y="193.9" width="0.9" height="0.9" fill="rgb(74,74,74)"/><rect x="948.5" y="159.3" width="0.9" height="0.9" fill="rgb(89,89,89)"/><rect x="947.4" y="112.3" width="0.9" height="0.9" fill="rgb(85,85,85)"/><rect x="946.4" y="94.0" width="0.9" height="0.9" fill="rgb(69,69,69)"/><rect x="946.1" y="84.8" width="0.9" height="0.9" fill="rgb(75,75,75)"/><rect x="879.7" y="77.9" width="0.9" height="0.9" fill="rgb(94,94,94)"/><rect x="876.5" y="190.2" width="0.9" height="0.9" fill="rgb(98,98,98)"/><rect x="915.8" y="171.0" width="0.9" height="0.9" fill="rgb(70,70,70)"/><rect x="903.4" y="168.0" width="0.9" height="0.9" fill="rgb(47,47,47)"/><rect x="876.5" y="150.6" width="0.9" height="0.9" fill="rgb(90,90,90)"/><rect x="948.2" y="210.7" width="0.9" height="0.9" fill="rgb(59,59,59)"/><rect x="930.0" y="160.4" width="0.9" height="0.9" fill="rgb(88,88,88)"/><rect x="912.2" y="168.1" width="0.9" height="0.9" fill="rgb(69,69,69)"/><rect x="938.7" y="137.3" width="0.9" height="0.9" fill="rgb(48,48,48)"/><rect x="871.3" y="147.8" width="0.9" height="0.9" fill="rgb(110,110,110)"/><rect x="947.6" y="137.2" width="0.9" height="0.9" fill="rgb(69,69,69)"/><rect x="884.2" y="95.4" width="0.9" height="0.9" fill="rgb(65,65,65)"/><rect x="955.1" y="204.5" width="0.9" height="0.9" fill="rgb(57,57,57)"/><rect x="919.0" y="84.9" width="0.9" height="0.9" fill="rgb(104,104,104)"/><rect x="874.8" y="79.2" width="0.9" height="0.9" fill="rgb(95,95,95)"/><rect x="909.1" y="142.4" width="0.9" height="0.9" fill="rgb(100,100,100)"/><rect x="886.5" y="120.9" width="0.9" height="0.9" fill="rgb(50,50,50)"/><rect x="942.3" y="92.0" width="0.9" height="0.9" fill="rgb(103,103,103)"/><rect x="899.6" y="120.5" width="0.9" height="0.9" fill="rgb(69,69,69)"/><rect x="921.2" y="78.9" width="0.9" height="0.9" fill="rgb(46,46,46)"/><rect x="896.5" y="77.4" width="0.9" height="0.9" fill="rgb(96,96,96)"/><rect x="918.1" y="93.4" width="0.9" height="0.9" fill="rgb(119,119,119)"/><rect x="954.5" y="186.0" width="0.9" height="0.9" fill="rgb(78,78,78)"/><rect x="892.6" y="82.1" width="0.9" height="0.9" fill="rgb(65,65,65)"/><rect x="939.7" y="125.8" width="0.9" height="0.9" fill="rgb(87,87,87)"/><rect x="945.4" y="169.4" width="0.9" height="0.9" fill="rgb(100,100,100)"/><rect x="935.3" y="125.8" width="0.9" height="0.9" fill="rgb(68,68,68)"/><rect x="874.2" y="116.2" width="0.9" height="0.9" fill="rgb(105,105,105)"/><rect x="876.9" y="198.6" width="0.9" height="0.9" fill="rgb(51,51,51)"/><rect x="888.4" y="207.2" width="0.9" height="0.9" fill="rgb(83,83,83)"/><rect x="897.7" y="164.2" width="0.9" height="0.9" fill="rgb(117,117,117)"/><rect x="884.0" y="76.2" width="0.9" height="0.9" fill="rgb(110,110,110)"/><rect x="956.0" y="161.5" width="0.9" height="0.9" fill="rgb(60,60,60)"/><rect x="935.0" y="212.5" width="0.9" height="0.9" fill="rgb(47,47,47)"/><rect x="878.1" y="80.9" width="0.9" height="0.9" fill="rgb(75,75,75)"/><rect x="890.6" y="125.2" width="0.9" height="0.9" fill="rgb(51,51,51)"/><rect x="935.0" y="162.4" width="0.9" height="0.9" fill="rgb(46,46,46)"/><rect x="876.7" y="102.5" width="0.9" height="0.9" fill="rgb(88,88,88)"/><rect x="916.4" y="141.2" width="0.9" height="0.9" fill="rgb(111,111,111)"/><rect x="918.0" y="214.8" width="0.9" height="0.9" fill="rgb(101,101,101)"/><rect x="939.2" y="76.1" width="0.9" height="0.9" fill="rgb(50,50,50)"/><rect x="902.0" y="206.2" width="0.9" height="0.9" fill="rgb(94,94,94)"/><rect x="909.5" y="90.1" width="0.9" height="0.9" fill="rgb(108,108,108)"/><rect x="915.7" y="154.6" width="0.9" height="0.9" fill="rgb(99,99,99)"/><rect x="951.2" y="128.1" width="0.9" height="0.9" fill="rgb(112,112,112)"/><rect x="903.1" y="111.7" width="0.9" height="0.9" fill="rgb(112,112,112)"/><rect x="893.1" y="163.5" width="0.9" height="0.9" fill="rgb(116,116,116)"/><rect x="949.8" y="164.7" width="0.9" height="0.9" fill="rgb(82,82,82)"/><rect x="870.4" y="181.2" width="0.9" height="0.9" fill="rgb(119,119,119)"/><rect x="871.8" y="88.2" width="0.9" height="0.9" fill="rgb(94,94,94)"/><rect x="872.6" y="250.8" width="0.9" height="0.9" fill="rgb(95,95,95)"/><rect x="872.4" y="314.5" width="0.9" height="0.9" fill="rgb(85,85,85)"/><rect x="874.5" y="306.7" width="0.9" height="0.9" fill="rgb(99,99,99)"/><rect x="931.3" y="244.7" width="0.9" height="0.9" fill="rgb(76,76,76)"/><rect x="872.0" y="230.3" width="0.9" height="0.9" fill="rgb(104,104,104)"/><rect x="880.7" y="311.8" width="0.9" height="0.9" fill="rgb(76,76,76)"/><rect x="921.1" y="231.9" width="0.9" height="0.9" fill="rgb(98,98,98)"/><rect x="908.1" y="240.3" width="0.9" height="0.9" fill="rgb(51,51,51)"/><rect x="899.4" y="235.6" width="0.9" height="0.9" fill="rgb(91,91,91)"/><rect x="907.0" y="284.2" width="0.9" height="0.9" fill="rgb(103,103,103)"/><rect x="920.9" y="281.5" width="0.9" height="0.9" fill="rgb(98,98,98)"/><rect x="900.0" y="291.4" width="0.9" height="0.9" fill="rgb(62,62,62)"/><rect x="951.8" y="290.5" width="0.9" height="0.9" fill="rgb(75,75,75)"/><rect x="910.3" y="268.6" width="0.9" height="0.9" fill="rgb(84,84,84)"/><rect x="937.0" y="280.1" width="0.9" height="0.9" fill="rgb(90,90,90)"/><rect x="892.2" y="278.7" width="0.9" height="0.9" fill="rgb(117,117,117)"/><rect x="929.5" y="239.0" width="0.9" height="0.9" fill="rgb(80,80,80)"/><rect x="934.3" y="239.0" width="0.9" height="0.9" fill="rgb(76,76,76)"/><rect x="912.2" y="282.8" width="0.9" height="0.9" fill="rgb(70,70,70)"/><rect x="945.3" y="224.7" width="0.9" height="0.9" fill="rgb(52,52,52)"/><rect x="868.8" y="245.6" width="0.9" height="0.9" fill="rgb(48,48,48)"/><rect x="922.9" y="230.7" width="0.9" height="0.9" fill="rgb(114,114,114)"/><rect x="892.5" y="292.5" width="0.9" height="0.9" fill="rgb(65,65,65)"/><rect x="916.5" y="280.7" width="0.9" height="0.9" fill="rgb(92,92,92)"/><rect x="910.6" y="254.5" width="0.9" height="0.9" fill="rgb(88,88,88)"/><rect x="898.2" y="291.5" width="0.9" height="0.9" fill="rgb(54,54,54)"/><rect x="938.6" y="263.3" width="0.9" height="0.9" fill="rgb(72,72,72)"/><rect x="907.1" y="291.7" width="0.9" height="0.9" fill="rgb(94,94,94)"/><rect x="939.3" y="255.9" width="0.9" height="0.9" fill="rgb(86,86,86)"/><rect x="893.6" y="292.8" width="0.9" height="0.9" fill="rgb(68,68,68)"/><rect x="905.6" y="255.9" width="0.9" height="0.9" fill="rgb(57,57,57)"/><rect x="908.7" y="251.7" width="0.9" height="0.9" fill="rgb(114,114,114)"/><rect x="875.3" y="274.4" width="0.9" height="0.9" fill="rgb(107,107,107)"/><rect x="939.7" y="264.8" width="0.9" height="0.9" fill="rgb(46,46,46)"/><rect x="874.7" y="241.2" width="0.9" height="0.9" fill="rgb(55,55,55)"/><rect x="929.2" y="267.8" width="0.9" height="0.9" fill="rgb(86,86,86)"/><rect x="892.9" y="234.5" width="0.9" height="0.9" fill="rgb(90,90,90)"/><rect x="925.8" y="251.9" width="0.9" height="0.9" fill="rgb(60,60,60)"/><rect x="896.4" y="262.7" width="0.9" height="0.9" fill="rgb(80,80,80)"/><rect x="906.5" y="297.0" width="0.9" height="0.9" fill="rgb(84,84,84)"/><rect x="908.3" y="241.9" width="0.9" height="0.9" fill="rgb(111,111,111)"/><rect x="889.9" y="255.2" width="0.9" height="0.9" fill="rgb(91,91,91)"/><rect x="870.1" y="285.0" width="0.9" height="0.9" fill="rgb(119,119,119)"/><rect x="902.1" y="239.4" width="0.9" height="0.9" fill="rgb(117,117,117)"/><rect x="900.4" y="257.9" width="0.9" height="0.9" fill="rgb(64,64,64)"/><rect x="941.6" y="274.2" width="0.9" height="0.9" fill="rgb(67,67,67)"/><rect x="875.9" y="264.0" width="0.9" height="0.9" fill="rgb(81,81,81)"/><rect x="939.4" y="241.9" width="0.9" height="0.9" fill="rgb(52,52,52)"/><rect x="915.9" y="274.7" width="0.9" height="0.9" fill="rgb(47,47,47)"/><rect x="925.3" y="297.1" width="0.9" height="0.9" fill="rgb(53,53,53)"/><rect x="919.2" y="249.9" width="0.9" height="0.9" fill="rgb(114,114,114)"/><rect x="875.4" y="228.7" width="0.9" height="0.9" fill="rgb(58,58,58)"/><rect x="947.1" y="229.0" width="0.9" height="0.9" fill="rgb(63,63,63)"/><rect x="876.6" y="298.2" width="0.9" height="0.9" fill="rgb(99,99,99)"/><rect x="889.6" y="241.9" width="0.9" height="0.9" fill="rgb(111,111,111)"/><rect x="897.8" y="264.4" width="0.9" height="0.9" fill="rgb(89,89,89)"/><rect x="897.7" y="312.6" width="0.9" height="0.9" fill="rgb(62,62,62)"/><rect x="911.4" y="271.8" width="0.9" height="0.9" fill="rgb(54,54,54)"/><rect x="930.3" y="307.6" width="0.9" height="0.9" fill="rgb(97,97,97)"/><rect x="934.6" y="314.2" width="0.9" height="0.9" fill="rgb(89,89,89)"/><rect x="943.1" y="297.2" width="0.9" height="0.9" fill="rgb(56,56,56)"/><rect x="946.2" y="311.6" width="0.9" height="0.9" fill="rgb(48,48,48)"/><rect x="914.1" y="288.2" width="0.9" height="0.9" fill="rgb(59,59,59)"/><rect x="905.1" y="260.8" width="0.9" height="0.9" fill="rgb(63,63,63)"/><rect x="889.6" y="236.3" width="0.9" height="0.9" fill="rgb(93,93,93)"/><rect x="928.2" y="251.4" width="0.9" height="0.9" fill="rgb(94,94,94)"/><rect x="905.4" y="248.6" width="0.9" height="0.9" fill="rgb(52,52,52)"/><rect x="909.5" y="290.1" width="0.9" height="0.9" fill="rgb(83,83,83)"/><rect x="925.0" y="294.4" width="0.9" height="0.9" fill="rgb(67,67,67)"/><rect x="948.3" y="292.2" width="0.9" height="0.9" fill="rgb(47,47,47)"/><rect x="919.4" y="307.0" width="0.9" height="0.9" fill="rgb(49,49,49)"/><rect x="895.5" y="239.7" width="0.9" height="0.9" fill="rgb(90,90,90)"/><rect x="887.1" y="243.3" width="0.9" height="0.9" fill="rgb(105,105,105)"/><rect x="920.3" y="242.2" width="0.9" height="0.9" fill="rgb(68,68,68)"/><rect x="946.7" y="259.1" width="0.9" height="0.9" fill="rgb(84,84,84)"/><rect x="923.2" y="310.1" width="0.9" height="0.9" fill="rgb(115,115,115)"/><rect x="910.2" y="245.6" width="0.9" height="0.9" fill="rgb(96,96,96)"/><rect x="948.5" y="253.4" width="0.9" height="0.9" fill="rgb(115,115,115)"/><rect x="935.9" y="229.7" width="0.9" height="0.9" fill="rgb(73,73,73)"/><rect x="903.1" y="241.6" width="0.9" height="0.9" fill="rgb(62,62,62)"/><rect x="938.5" y="257.4" width="0.9" height="0.9" fill="rgb(112,112,112)"/><rect x="937.9" y="294.2" width="0.9" height="0.9" fill="rgb(52,52,52)"/><rect x="925.9" y="243.5" width="0.9" height="0.9" fill="rgb(46,46,46)"/><rect x="944.9" y="306.6" width="0.9" height="0.9" fill="rgb(102,102,102)"/><rect x="938.1" y="288.5" width="0.9" height="0.9" fill="rgb(65,65,65)"/><rect x="904.6" y="294.0" width="0.9" height="0.9" fill="rgb(63,63,63)"/><rect x="890.8" y="303.2" width="0.9" height="0.9" fill="rgb(111,111,111)"/><rect x="879.5" y="291.2" width="0.9" height="0.9" fill="rgb(79,79,79)"/><rect x="913.4" y="226.0" width="0.9" height="0.9" fill="rgb(118,118,118)"/><rect x="935.8" y="221.1" width="0.9" height="0.9" fill="rgb(64,64,64)"/><rect x="940.3" y="228.8" width="0.9" height="0.9" fill="rgb(79,79,79)"/><rect x="922.1" y="270.9" width="0.9" height="0.9" fill="rgb(106,106,106)"/><rect x="929.0" y="228.8" width="0.9" height="0.9" fill="rgb(120,120,120)"/><rect x="915.8" y="268.9" width="0.9" height="0.9" fill="rgb(47,47,47)"/><rect x="937.5" y="260.4" width="0.9" height="0.9" fill="rgb(56,56,56)"/><rect x="936.8" y="262.6" width="0.9" height="0.9" fill="rgb(49,49,49)"/><rect x="915.8" y="270.7" width="0.9" height="0.9" fill="rgb(65,65,65)"/><rect x="951.3" y="312.2" width="0.9" height="0.9" fill="rgb(85,85,85)"/><rect x="895.3" y="228.2" width="0.9" height="0.9" fill="rgb(84,84,84)"/><rect x="955.8" y="284.1" width="0.9" height="0.9" fill="rgb(53,53,53)"/><rect x="899.7" y="286.0" width="0.9" height="0.9" fill="rgb(58,58,58)"/><rect x="926.8" y="284.9" width="0.9" height="0.9" fill="rgb(60,60,60)"/><rect x="925.5" y="222.2" width="0.9" height="0.9" fill="rgb(93,93,93)"/><rect x="930.6" y="266.0" width="0.9" height="0.9" fill="rgb(82,82,82)"/><rect x="917.6" y="264.3" width="0.9" height="0.9" fill="rgb(46,46,46)"/><rect x="943.3" y="300.9" width="0.9" height="0.9" fill="rgb(71,71,71)"/><rect x="947.3" y="235.4" width="0.9" height="0.9" fill="rgb(93,93,93)"/><rect x="950.5" y="291.9" width="0.9" height="0.9" fill="rgb(88,88,88)"/><rect x="934.4" y="273.6" width="0.9" height="0.9" fill="rgb(56,56,56)"/><rect x="890.6" y="239.9" width="0.9" height="0.9" fill="rgb(59,59,59)"/><rect x="897.0" y="310.4" width="0.9" height="0.9" fill="rgb(117,117,117)"/><rect x="909.3" y="281.6" width="0.9" height="0.9" fill="rgb(102,102,102)"/><rect x="940.8" y="229.7" width="0.9" height="0.9" fill="rgb(63,63,63)"/><rect x="922.7" y="233.4" width="0.9" height="0.9" fill="rgb(67,67,67)"/><rect x="883.8" y="259.1" width="0.9" height="0.9" fill="rgb(104,104,104)"/><rect x="920.2" y="229.5" width="0.9" height="0.9" fill="rgb(74,74,74)"/><rect x="870.8" y="314.4" width="0.9" height="0.9" fill="rgb(100,100,100)"/><rect x="903.8" y="227.9" width="0.9" height="0.9" fill="rgb(99,99,99)"/><rect x="949.6" y="234.2" width="0.9" height="0.9" fill="rgb(71,71,71)"/><rect x="935.5" y="298.7" width="0.9" height="0.9" fill="rgb(94,94,94)"/><rect x="910.5" y="308.2" width="0.9" height="0.9" fill="rgb(46,46,46)"/><rect x="932.0" y="279.0" width="0.9" height="0.9" fill="rgb(85,85,85)"/><rect x="954.4" y="295.7" width="0.9" height="0.9" fill="rgb(112,112,112)"/><rect x="869.6" y="252.3" width="0.9" height="0.9" fill="rgb(88,88,88)"/><rect x="895.0" y="262.7" width="0.9" height="0.9" fill="rgb(116,116,116)"/><rect x="901.2" y="369.4" width="0.9" height="0.9" fill="rgb(82,82,82)"/><rect x="940.6" y="379.1" width="0.9" height="0.9" fill="rgb(65,65,65)"/><rect x="890.3" y="372.2" width="0.9" height="0.9" fill="rgb(83,83,83)"/><rect x="916.2" y="354.5" width="0.9" height="0.9" fill="rgb(109,109,109)"/><rect x="913.2" y="375.5" width="0.9" height="0.9" fill="rgb(70,70,70)"/><rect x="954.8" y="370.0" width="0.9" height="0.9" fill="rgb(70,70,70)"/><rect x="917.9" y="323.5" width="0.9" height="0.9" fill="rgb(70,70,70)"/><rect x="936.3" y="333.9" width="0.9" height="0.9" fill="rgb(106,106,106)"/><rect x="918.7" y="387.2" width="0.9" height="0.9" fill="rgb(87,87,87)"/><rect x="876.1" y="403.9" width="0.9" height="0.9" fill="rgb(79,79,79)"/><rect x="908.7" y="332.8" width="0.9" height="0.9" fill="rgb(62,62,62)"/><rect x="889.0" y="375.1" width="0.9" height="0.9" fill="rgb(114,114,114)"/><rect x="917.3" y="374.2" width="0.9" height="0.9" fill="rgb(78,78,78)"/><rect x="882.8" y="391.8" width="0.9" height="0.9" fill="rgb(87,87,87)"/><rect x="920.9" y="332.7" width="0.9" height="0.9" fill="rgb(45,45,45)"/><rect x="893.4" y="406.2" width="0.9" height="0.9" fill="rgb(75,75,75)"/><rect x="934.7" y="355.5" width="0.9" height="0.9" fill="rgb(66,66,66)"/><rect x="884.3" y="373.0" width="0.9" height="0.9" fill="rgb(54,54,54)"/><rect x="908.0" y="359.3" width="0.9" height="0.9" fill="rgb(62,62,62)"/><rect x="895.1" y="384.8" width="0.9" height="0.9" fill="rgb(93,93,93)"/><rect x="922.1" y="381.8" width="0.9" height="0.9" fill="rgb(47,47,47)"/><rect x="882.0" y="360.1" width="0.9" height="0.9" fill="rgb(49,49,49)"/><rect x="880.6" y="357.7" width="0.9" height="0.9" fill="rgb(117,117,117)"/><rect x="903.7" y="352.9" width="0.9" height="0.9" fill="rgb(61,61,61)"/><rect x="891.2" y="375.0" width="0.9" height="0.9" fill="rgb(87,87,87)"/><rect x="872.7" y="395.5" width="0.9" height="0.9" fill="rgb(63,63,63)"/><rect x="903.5" y="368.3" width="0.9" height="0.9" fill="rgb(58,58,58)"/><rect x="909.4" y="360.1" width="0.9" height="0.9" fill="rgb(117,117,117)"/><rect x="934.7" y="392.4" width="0.9" height="0.9" fill="rgb(107,107,107)"/><rect x="946.2" y="365.0" width="0.9" height="0.9" fill="rgb(97,97,97)"/><rect x="940.6" y="332.2" width="0.9" height="0.9" fill="rgb(59,59,59)"/><rect x="947.7" y="371.0" width="0.9" height="0.9" fill="rgb(112,112,112)"/><rect x="913.8" y="360.9" width="0.9" height="0.9" fill="rgb(48,48,48)"/><rect x="896.2" y="326.2" width="0.9" height="0.9" fill="rgb(100,100,100)"/><rect x="932.4" y="377.8" width="0.9" height="0.9" fill="rgb(84,84,84)"/><rect x="945.7" y="404.3" width="0.9" height="0.9" fill="rgb(76,76,76)"/><rect x="879.0" y="363.5" width="0.9" height="0.9" fill="rgb(109,109,109)"/><rect x="944.8" y="413.4" width="0.9" height="0.9" fill="rgb(105,105,105)"/><rect x="929.2" y="371.0" width="0.9" height="0.9" fill="rgb(75,75,75)"/><rect x="916.0" y="383.4" width="0.9" height="0.9" fill="rgb(75,75,75)"/><rect x="945.4" y="415.9" width="0.9" height="0.9" fill="rgb(92,92,92)"/><rect x="944.3" y="361.0" width="0.9" height="0.9" fill="rgb(66,66,66)"/><rect x="887.5" y="391.9" width="0.9" height="0.9" fill="rgb(117,117,117)"/><rect x="878.8" y="327.8" width="0.9" height="0.9" fill="rgb(111,111,111)"/><rect x="937.7" y="332.8" width="0.9" height="0.9" fill="rgb(113,113,113)"/><rect x="918.7" y="364.1" width="0.9" height="0.9" fill="rgb(82,82,82)"/><rect x="889.5" y="349.4" width="0.9" height="0.9" fill="rgb(86,86,86)"/><rect x="883.1" y="362.9" width="0.9" height="0.9" fill="rgb(102,102,102)"/><rect x="939.8" y="358.7" width="0.9" height="0.9" fill="rgb(90,90,90)"/><rect x="928.9" y="342.9" width="0.9" height="0.9" fill="rgb(84,84,84)"/><rect x="870.7" y="406.4" width="0.9" height="0.9" fill="rgb(84,84,84)"/><rect x="896.5" y="334.6" width="0.9" height="0.9" fill="rgb(105,105,105)"/><rect x="945.3" y="340.3" width="0.9" height="0.9" fill="rgb(52,52,52)"/><rect x="885.2" y="400.6" width="0.9" height="0.9" fill="rgb(90,90,90)"/><rect x="947.1" y="322.5" width="0.9" height="0.9" fill="rgb(116,116,116)"/><rect x="885.8" y="381.1" width="0.9" height="0.9" fill="rgb(69,69,69)"/><rect x="951.6" y="413.7" width="0.9" height="0.9" fill="rgb(58,58,58)"/><rect x="894.9" y="398.7" width="0.9" height="0.9" fill="rgb(80,80,80)"/><rect x="944.5" y="388.7" width="0.9" height="0.9" fill="rgb(62,62,62)"/><rect x="897.5" y="411.9" width="0.9" height="0.9" fill="rgb(101,101,101)"/><rect x="904.5" y="337.1" width="0.9" height="0.9" fill="rgb(84,84,84)"/><rect x="878.6" y="386.7" width="0.9" height="0.9" fill="rgb(79,79,79)"/><rect x="883.9" y="343.4" width="0.9" height="0.9" fill="rgb(82,82,82)"/><rect x="937.6" y="356.4" width="0.9" height="0.9" fill="rgb(112,112,112)"/><rect x="945.8" y="377.0" width="0.9" height="0.9" fill="rgb(74,74,74)"/><rect x="954.0" y="406.1" width="0.9" height="0.9" fill="rgb(68,68,68)"/><rect x="926.7" y="347.3" width="0.9" height="0.9" fill="rgb(56,56,56)"/><rect x="908.7" y="328.2" width="0.9" height="0.9" fill="rgb(112,112,112)"/><rect x="874.5" y="407.2" width="0.9" height="0.9" fill="rgb(45,45,45)"/><rect x="920.8" y="348.0" width="0.9" height="0.9" fill="rgb(77,77,77)"/><rect x="905.3" y="375.0" width="0.9" height="0.9" fill="rgb(66,66,66)"/><rect x="893.1" y="392.8" width="0.9" height="0.9" fill="rgb(76,76,76)"/><rect x="883.8" y="390.7" width="0.9" height="0.9" fill="rgb(48,48,48)"/><rect x="884.4" y="406.2" width="0.9" height="0.9" fill="rgb(49,49,49)"/><rect x="922.7" y="408.1" width="0.9" height="0.9" fill="rgb(119,119,119)"/><rect x="901.9" y="409.3" width="0.9" height="0.9" fill="rgb(108,108,108)"/><rect x="873.3" y="327.1" width="0.9" height="0.9" fill="rgb(91,91,91)"/><rect x="896.2" y="366.9" width="0.9" height="0.9" fill="rgb(49,49,49)"/><rect x="913.5" y="369.0" width="0.9" height="0.9" fill="rgb(111,111,111)"/><rect x="933.5" y="371.5" width="0.9" height="0.9" fill="rgb(66,66,66)"/><rect x="877.9" y="362.4" width="0.9" height="0.9" fill="rgb(101,101,101)"/><rect x="916.2" y="345.3" width="0.9" height="0.9" fill="rgb(75,75,75)"/><rect x="890.9" y="372.7" width="0.9" height="0.9" fill="rgb(119,119,119)"/><rect x="921.1" y="345.8" width="0.9" height="0.9" fill="rgb(70,70,70)"/><rect x="920.5" y="388.9" width="0.9" height="0.9" fill="rgb(118,118,118)"/><rect x="907.5" y="404.7" width="0.9" height="0.9" fill="rgb(86,86,86)"/><rect x="881.4" y="322.7" width="0.9" height="0.9" fill="rgb(108,108,108)"/><rect x="938.9" y="368.9" width="0.9" height="0.9" fill="rgb(78,78,78)"/><rect x="943.4" y="323.9" width="0.9" height="0.9" fill="rgb(59,59,59)"/><rect x="947.8" y="375.0" width="0.9" height="0.9" fill="rgb(114,114,114)"/><rect x="919.0" y="389.6" width="0.9" height="0.9" fill="rgb(63,63,63)"/><rect x="872.8" y="361.4" width="0.9" height="0.9" fill="rgb(85,85,85)"/><rect x="940.1" y="391.2" width="0.9" height="0.9" fill="rgb(78,78,78)"/><rect x="935.3" y="368.3" width="0.9" height="0.9" fill="rgb(110,110,110)"/><rect x="883.1" y="345.2" width="0.9" height="0.9" fill="rgb(65,65,65)"/><rect x="911.7" y="383.6" width="0.9" height="0.9" fill="rgb(103,103,103)"/><rect x="873.4" y="360.0" width="0.9" height="0.9" fill="rgb(91,91,91)"/><rect x="929.5" y="387.9" width="0.9" height="0.9" fill="rgb(50,50,50)"/><rect x="879.3" y="392.8" width="0.9" height="0.9" fill="rgb(62,62,62)"/><rect x="880.7" y="364.3" width="0.9" height="0.9" fill="rgb(50,50,50)"/><rect x="868.3" y="359.9" width="0.9" height="0.9" fill="rgb(112,112,112)"/><rect x="880.5" y="358.3" width="0.9" height="0.9" fill="rgb(83,83,83)"/><rect x="909.5" y="409.9" width="0.9" height="0.9" fill="rgb(49,49,49)"/><rect x="927.8" y="389.1" width="0.9" height="0.9" fill="rgb(74,74,74)"/><rect x="894.0" y="332.3" width="0.9" height="0.9" fill="rgb(75,75,75)"/><rect x="904.8" y="329.2" width="0.9" height="0.9" fill="rgb(74,74,74)"/><rect x="900.0" y="353.0" width="0.9" height="0.9" fill="rgb(72,72,72)"/><rect x="871.5" y="359.3" width="0.9" height="0.9" fill="rgb(52,52,52)"/><rect x="932.9" y="374.9" width="0.9" height="0.9" fill="rgb(120,120,120)"/><rect x="949.3" y="337.8" width="0.9" height="0.9" fill="rgb(95,95,95)"/><rect x="950.3" y="341.3" width="0.9" height="0.9" fill="rgb(93,93,93)"/><rect x="936.8" y="341.5" width="0.9" height="0.9" fill="rgb(89,89,89)"/><rect x="889.7" y="396.4" width="0.9" height="0.9" fill="rgb(65,65,65)"/><rect x="910.3" y="359.0" width="0.9" height="0.9" fill="rgb(104,104,104)"/><rect x="934.8" y="365.9" width="0.9" height="0.9" fill="rgb(107,107,107)"/><rect x="955.4" y="385.5" width="0.9" height="0.9" fill="rgb(107,107,107)"/><rect x="886.0" y="357.4" width="0.9" height="0.9" fill="rgb(54,54,54)"/><rect x="872.2" y="347.3" width="0.9" height="0.9" fill="rgb(80,80,80)"/><rect x="922.6" y="370.3" width="0.9" height="0.9" fill="rgb(78,78,78)"/><rect x="913.1" y="374.9" width="0.9" height="0.9" fill="rgb(72,72,72)"/><rect x="891.6" y="355.3" width="0.9" height="0.9" fill="rgb(64,64,64)"/><rect x="932.1" y="394.8" width="0.9" height="0.9" fill="rgb(62,62,62)"/><rect x="935.4" y="389.7" width="0.9" height="0.9" fill="rgb(60,60,60)"/><rect x="869.8" y="351.6" width="0.9" height="0.9" fill="rgb(94,94,94)"/><rect x="907.6" y="402.2" width="0.9" height="0.9" fill="rgb(93,93,93)"/><rect x="896.6" y="394.2" width="0.9" height="0.9" fill="rgb(111,111,111)"/><rect x="926.9" y="450.2" width="0.9" height="0.9" fill="rgb(75,75,75)"/><rect x="911.0" y="439.3" width="0.9" height="0.9" fill="rgb(110,110,110)"/><rect x="920.4" y="424.3" width="0.9" height="0.9" fill="rgb(84,84,84)"/><rect x="904.1" y="467.1" width="0.9" height="0.9" fill="rgb(62,62,62)"/><rect x="913.5" y="473.8" width="0.9" height="0.9" fill="rgb(85,85,85)"/><rect x="931.8" y="485.1" width="0.9" height="0.9" fill="rgb(63,63,63)"/><rect x="945.5" y="501.2" width="0.9" height="0.9" fill="rgb(113,113,113)"/><rect x="930.7" y="460.1" width="0.9" height="0.9" fill="rgb(94,94,94)"/><rect x="913.5" y="455.3" width="0.9" height="0.9" fill="rgb(58,58,58)"/><rect x="893.7" y="454.3" width="0.9" height="0.9" fill="rgb(72,72,72)"/><rect x="880.3" y="502.5" width="0.9" height="0.9" fill="rgb(106,106,106)"/><rect x="917.8" y="498.7" width="0.9" height="0.9" fill="rgb(83,83,83)"/><rect x="926.1" y="427.7" width="0.9" height="0.9" fill="rgb(72,72,72)"/><rect x="917.1" y="455.1" width="0.9" height="0.9" fill="rgb(60,60,60)"/><rect x="952.1" y="504.4" width="0.9" height="0.9" fill="rgb(75,75,75)"/><rect x="936.9" y="446.1" width="0.9" height="0.9" fill="rgb(99,99,99)"/><rect x="878.5" y="468.5" width="0.9" height="0.9" fill="rgb(107,107,107)"/><rect x="901.7" y="452.7" width="0.9" height="0.9" fill="rgb(108,108,108)"/><rect x="929.9" y="442.5" width="0.9" height="0.9" fill="rgb(96,96,96)"/><rect x="885.8" y="494.8" width="0.9" height="0.9" fill="rgb(89,89,89)"/><rect x="926.5" y="444.2" width="0.9" height="0.9" fill="rgb(56,56,56)"/><rect x="933.4" y="508.1" width="0.9" height="0.9" fill="rgb(64,64,64)"/><rect x="910.1" y="445.9" width="0.9" height="0.9" fill="rgb(115,115,115)"/><rect x="895.1" y="508.8" width="0.9" height="0.9" fill="rgb(95,95,95)"/><rect x="878.6" y="508.4" width="0.9" height="0.9" fill="rgb(96,96,96)"/><rect x="891.9" y="457.4" width="0.9" height="0.9" fill="rgb(119,119,119)"/><rect x="894.4" y="490.1" width="0.9" height="0.9" fill="rgb(77,77,77)"/><rect x="874.4" y="424.7" width="0.9" height="0.9" fill="rgb(86,86,86)"/><rect x="946.5" y="475.4" width="0.9" height="0.9" fill="rgb(78,78,78)"/><rect x="939.7" y="506.2" width="0.9" height="0.9" fill="rgb(105,105,105)"/><rect x="901.8" y="454.0" width="0.9" height="0.9" fill="rgb(91,91,91)"/><rect x="870.7" y="489.0" width="0.9" height="0.9" fill="rgb(72,72,72)"/><rect x="935.9" y="481.3" width="0.9" height="0.9" fill="rgb(114,114,114)"/><rect x="904.2" y="461.1" width="0.9" height="0.9" fill="rgb(80,80,80)"/><rect x="874.0" y="465.7" width="0.9" height="0.9" fill="rgb(102,102,102)"/><rect x="901.6" y="508.3" width="0.9" height="0.9" fill="rgb(49,49,49)"/><rect x="938.7" y="486.7" width="0.9" height="0.9" fill="rgb(79,79,79)"/><rect x="895.2" y="455.8" width="0.9" height="0.9" fill="rgb(47,47,47)"/><rect x="881.2" y="439.7" width="0.9" height="0.9" fill="rgb(74,74,74)"/><rect x="890.7" y="442.4" width="0.9" height="0.9" fill="rgb(111,111,111)"/><rect x="868.1" y="473.3" width="0.9" height="0.9" fill="rgb(95,95,95)"/><rect x="868.3" y="473.6" width="0.9" height="0.9" fill="rgb(115,115,115)"/><rect x="875.0" y="500.1" width="0.9" height="0.9" fill="rgb(87,87,87)"/><rect x="891.2" y="431.2" width="0.9" height="0.9" fill="rgb(47,47,47)"/><rect x="895.6" y="489.8" width="0.9" height="0.9" fill="rgb(95,95,95)"/><rect x="928.4" y="513.5" width="0.9" height="0.9" fill="rgb(65,65,65)"/><rect x="882.0" y="480.8" width="0.9" height="0.9" fill="rgb(107,107,107)"/><rect x="938.8" y="449.4" width="0.9" height="0.9" fill="rgb(98,98,98)"/><rect x="893.1" y="493.0" width="0.9" height="0.9" fill="rgb(113,113,113)"/><rect x="911.9" y="483.1" width="0.9" height="0.9" fill="rgb(91,91,91)"/><rect x="896.6" y="438.3" width="0.9" height="0.9" fill="rgb(110,110,110)"/><rect x="932.9" y="505.3" width="0.9" height="0.9" fill="rgb(53,53,53)"/><rect x="940.0" y="506.1" width="0.9" height="0.9" fill="rgb(84,84,84)"/><rect x="877.9" y="464.5" width="0.9" height="0.9" fill="rgb(106,106,106)"/><rect x="871.6" y="480.8" width="0.9" height="0.9" fill="rgb(97,97,97)"/><rect x="944.5" y="426.4" width="0.9" height="0.9" fill="rgb(77,77,77)"/><rect x="903.0" y="492.1" width="0.9" height="0.9" fill="rgb(95,95,95)"/><rect x="890.3" y="482.0" width="0.9" height="0.9" fill="rgb(92,92,92)"/><rect x="931.0" y="452.6" width="0.9" height="0.9" fill="rgb(87,87,87)"/><rect x="943.3" y="440.9" width="0.9" height="0.9" fill="rgb(117,117,117)"/><rect x="940.9" y="475.6" width="0.9" height="0.9" fill="rgb(98,98,98)"/><rect x="924.4" y="433.3" width="0.9" height="0.9" fill="rgb(79,79,79)"/><rect x="938.5" y="433.3" width="0.9" height="0.9" fill="rgb(93,93,93)"/><rect x="922.7" y="449.2" width="0.9" height="0.9" fill="rgb(68,68,68)"/><rect x="953.7" y="466.5" width="0.9" height="0.9" fill="rgb(62,62,62)"/><rect x="891.6" y="447.2" width="0.9" height="0.9" fill="rgb(77,77,77)"/><rect x="923.6" y="459.3" width="0.9" height="0.9" fill="rgb(62,62,62)"/><rect x="872.3" y="489.6" width="0.9" height="0.9" fill="rgb(60,60,60)"/><rect x="944.6" y="439.8" width="0.9" height="0.9" fill="rgb(90,90,90)"/><rect x="932.3" y="516.4" width="0.9" height="0.9" fill="rgb(60,60,60)"/><rect x="903.6" y="507.9" width="0.9" height="0.9" fill="rgb(114,114,114)"/><rect x="943.3" y="437.7" width="0.9" height="0.9" fill="rgb(53,53,53)"/><rect x="895.2" y="497.9" width="0.9" height="0.9" fill="rgb(81,81,81)"/><rect x="887.7" y="490.4" width="0.9" height="0.9" fill="rgb(97,97,97)"/><rect x="935.4" y="515.2" width="0.9" height="0.9" fill="rgb(94,94,94)"/><rect x="927.4" y="442.0" width="0.9" height="0.9" fill="rgb(81,81,81)"/><rect x="938.4" y="435.4" width="0.9" height="0.9" fill="rgb(67,67,67)"/><rect x="941.4" y="474.5" width="0.9" height="0.9" fill="rgb(77,77,77)"/><rect x="945.5" y="462.7" width="0.9" height="0.9" fill="rgb(64,64,64)"/><rect x="896.5" y="423.1" width="0.9" height="0.9" fill="rgb(117,117,117)"/><rect x="918.1" y="447.5" width="0.9" height="0.9" fill="rgb(96,96,96)"/><rect x="892.1" y="443.1" width="0.9" height="0.9" fill="rgb(106,106,106)"/><rect x="885.7" y="474.1" width="0.9" height="0.9" fill="rgb(116,116,116)"/><rect x="872.5" y="427.5" width="0.9" height="0.9" fill="rgb(84,84,84)"/><rect x="927.0" y="421.7" width="0.9" height="0.9" fill="rgb(88,88,88)"/><rect x="910.5" y="516.7" width="0.9" height="0.9" fill="rgb(70,70,70)"/><rect x="955.3" y="460.4" width="0.9" height="0.9" fill="rgb(49,49,49)"/><rect x="904.5" y="498.5" width="0.9" height="0.9" fill="rgb(95,95,95)"/><rect x="917.0" y="441.9" width="0.9" height="0.9" fill="rgb(77,77,77)"/><rect x="892.4" y="511.2" width="0.9" height="0.9" fill="rgb(76,76,76)"/><rect x="955.5" y="463.7" width="0.9" height="0.9" fill="rgb(51,51,51)"/><rect x="883.5" y="423.9" width="0.9" height="0.9" fill="rgb(66,66,66)"/><rect x="915.4" y="485.9" width="0.9" height="0.9" fill="rgb(79,79,79)"/><rect x="899.6" y="493.4" width="0.9" height="0.9" fill="rgb(84,84,84)"/><rect x="873.5" y="465.9" width="0.9" height="0.9" fill="rgb(71,71,71)"/><rect x="873.6" y="456.2" width="0.9" height="0.9" fill="rgb(112,112,112)"/><rect x="891.3" y="444.8" width="0.9" height="0.9" fill="rgb(108,108,108)"/><rect x="903.1" y="498.2" width="0.9" height="0.9" fill="rgb(57,57,57)"/><rect x="950.4" y="467.4" width="0.9" height="0.9" fill="rgb(97,97,97)"/><rect x="890.0" y="508.4" width="0.9" height="0.9" fill="rgb(48,48,48)"/><rect x="868.8" y="434.8" width="0.9" height="0.9" fill="rgb(86,86,86)"/><rect x="902.2" y="456.6" width="0.9" height="0.9" fill="rgb(80,80,80)"/><rect x="939.3" y="456.2" width="0.9" height="0.9" fill="rgb(102,102,102)"/><rect x="899.2" y="448.0" width="0.9" height="0.9" fill="rgb(86,86,86)"/><rect x="920.3" y="446.6" width="0.9" height="0.9" fill="rgb(72,72,72)"/><rect x="933.3" y="441.5" width="0.9" height="0.9" fill="rgb(61,61,61)"/><rect x="916.1" y="486.4" width="0.9" height="0.9" fill="rgb(67,67,67)"/><rect x="898.6" y="436.2" width="0.9" height="0.9" fill="rgb(92,92,92)"/><rect x="898.8" y="462.5" width="0.9" height="0.9" fill="rgb(46,46,46)"/><rect x="903.2" y="426.3" width="0.9" height="0.9" fill="rgb(57,57,57)"/><rect x="896.3" y="472.7" width="0.9" height="0.9" fill="rgb(71,71,71)"/><rect x="869.8" y="438.0" width="0.9" height="0.9" fill="rgb(53,53,53)"/><rect x="934.4" y="431.7" width="0.9" height="0.9" fill="rgb(86,86,86)"/><rect x="905.8" y="513.4" width="0.9" height="0.9" fill="rgb(73,73,73)"/><rect x="911.9" y="496.0" width="0.9" height="0.9" fill="rgb(67,67,67)"/><rect x="939.5" y="428.0" width="0.9" height="0.9" fill="rgb(94,94,94)"/><rect x="951.4" y="452.1" width="0.9" height="0.9" fill="rgb(68,68,68)"/><rect x="936.4" y="471.6" width="0.9" height="0.9" fill="rgb(46,46,46)"/><rect x="881.0" y="482.0" width="0.9" height="0.9" fill="rgb(93,93,93)"/><rect x="948.2" y="426.6" width="0.9" height="0.9" fill="rgb(89,89,89)"/><rect x="946.1" y="503.3" width="0.9" height="0.9" fill="rgb(99,99,99)"/><rect x="912.4" y="475.6" width="0.9" height="0.9" fill="rgb(59,59,59)"/><rect x="878.7" y="492.0" width="0.9" height="0.9" fill="rgb(103,103,103)"/><rect x="906.4" y="466.0" width="0.9" height="0.9" fill="rgb(94,94,94)"/><rect x="912.1" y="457.2" width="0.9" height="0.9" fill="rgb(114,114,114)"/><rect x="918.4" y="470.6" width="0.9" height="0.9" fill="rgb(49,49,49)"/><rect x="914.5" y="464.5" width="0.9" height="0.9" fill="rgb(81,81,81)"/>
<path d="M700.5,81.5 L701.4,91.7 L701.2,102.0 L700.3,112.2 L699.9,122.5 L700.5,132.7 L700.3,143.0 L701.2,153.2 L700.0,163.4 L700.4,173.7 L700.7,183.9 L701.6,194.2 L700.5,204.4" fill="none" stroke="#9a9a9a" stroke-width="2.1" stroke-linejoin="round" opacity="0.75"/>
<circle cx="700.2" cy="81.5" r="0.80" fill="rgb(182,182,182)"/><circle cx="700.4" cy="83.5" r="0.67" fill="rgb(188,188,188)"/><circle cx="701.1" cy="85.6" r="0.74" fill="rgb(212,212,212)"/><circle cx="700.6" cy="87.6" r="0.68" fill="rgb(225,225,225)"/><circle cx="701.4" cy="89.7" r="0.94" fill="rgb(196,196,196)"/><circle cx="701.4" cy="91.7" r="0.57" fill="rgb(203,203,203)"/><circle cx="701.9" cy="93.8" r="0.59" fill="rgb(171,171,171)"/><circle cx="701.7" cy="95.8" r="0.79" fill="rgb(170,170,170)"/><circle cx="701.7" cy="97.9" r="0.65" fill="rgb(212,212,212)"/><circle cx="701.0" cy="99.9" r="0.63" fill="rgb(178,178,178)"/><circle cx="701.3" cy="102.0" r="0.87" fill="rgb(200,200,200)"/><circle cx="700.6" cy="104.0" r="0.59" fill="rgb(227,227,227)"/><circle cx="701.4" cy="106.1" r="0.95" fill="rgb(235,235,235)"/><circle cx="700.6" cy="108.1" r="0.77" fill="rgb(208,208,208)"/><circle cx="700.7" cy="110.2" r="0.88" fill="rgb(212,212,212)"/><circle cx="700.3" cy="112.2" r="0.73" fill="rgb(206,206,206)"/><circle cx="700.3" cy="114.3" r="0.68" fill="rgb(219,219,219)"/><circle cx="699.8" cy="116.3" r="0.63" fill="rgb(193,193,193)"/><circle cx="699.7" cy="118.4" r="0.74" fill="rgb(203,203,203)"/><circle cx="699.5" cy="120.4" r="0.90" fill="rgb(186,186,186)"/><circle cx="700.4" cy="122.5" r="0.91" fill="rgb(180,180,180)"/><circle cx="700.5" cy="124.5" r="0.89" fill="rgb(220,220,220)"/><circle cx="700.2" cy="126.6" r="0.89" fill="rgb(200,200,200)"/><circle cx="700.7" cy="128.6" r="0.78" fill="rgb(223,223,223)"/><circle cx="700.3" cy="130.7" r="0.58" fill="rgb(215,215,215)"/><circle cx="700.7" cy="132.7" r="0.78" fill="rgb(232,232,232)"/><circle cx="700.3" cy="134.8" r="0.65" fill="rgb(194,194,194)"/><circle cx="700.7" cy="136.8" r="0.83" fill="rgb(184,184,184)"/><circle cx="700.2" cy="138.9" r="0.68" fill="rgb(191,191,191)"/><circle cx="700.7" cy="140.9" r="0.86" fill="rgb(182,182,182)"/><circle cx="700.7" cy="143.0" r="0.57" fill="rgb(198,198,198)"/><circle cx="700.5" cy="145.0" r="0.56" fill="rgb(179,179,179)"/><circle cx="700.8" cy="147.0" r="0.71" fill="rgb(185,185,185)"/><circle cx="700.7" cy="149.1" r="0.56" fill="rgb(184,184,184)"/><circle cx="700.5" cy="151.1" r="0.84" fill="rgb(193,193,193)"/><circle cx="701.2" cy="153.2" r="0.92" fill="rgb(177,177,177)"/><circle cx="700.4" cy="155.2" r="0.80" fill="rgb(224,224,224)"/><circle cx="701.1" cy="157.3" r="0.64" fill="rgb(178,178,178)"/><circle cx="700.7" cy="159.3" r="0.72" fill="rgb(214,214,214)"/><circle cx="699.7" cy="161.4" r="0.57" fill="rgb(229,229,229)"/><circle cx="699.5" cy="163.4" r="0.63" fill="rgb(220,220,220)"/><circle cx="699.9" cy="165.5" r="0.89" fill="rgb(230,230,230)"/><circle cx="700.7" cy="167.5" r="0.83" fill="rgb(191,191,191)"/><circle cx="699.9" cy="169.6" r="0.87" fill="rgb(177,177,177)"/><circle cx="699.9" cy="171.6" r="0.69" fill="rgb(190,190,190)"/><circle cx="700.1" cy="173.7" r="0.82" fill="rgb(226,226,226)"/><circle cx="699.9" cy="175.7" r="0.91" fill="rgb(222,222,222)"/><circle cx="701.0" cy="177.8" r="0.81" fill="rgb(209,209,209)"/><circle cx="700.5" cy="179.8" r="0.61" fill="rgb(202,202,202)"/><circle cx="700.9" cy="181.9" r="0.85" fill="rgb(228,228,228)"/><circle cx="700.5" cy="183.9" r="0.77" fill="rgb(175,175,175)"/><circle cx="700.4" cy="186.0" r="0.69" fill="rgb(231,231,231)"/><circle cx="700.8" cy="188.0" r="0.79" fill="rgb(215,215,215)"/><circle cx="701.7" cy="190.1" r="0.84" fill="rgb(186,186,186)"/><circle cx="701.3" cy="192.1" r="0.88" fill="rgb(223,223,223)"/><circle cx="701.1" cy="194.2" r="0.83" fill="rgb(194,194,194)"/><circle cx="700.9" cy="196.2" r="0.80" fill="rgb(198,198,198)"/><circle cx="701.0" cy="198.3" r="0.56" fill="rgb(223,223,223)"/><circle cx="701.4" cy="200.3" r="0.86" fill="rgb(223,223,223)"/><circle cx="701.0" cy="202.4" r="0.73" fill="rgb(191,191,191)"/>
<g filter="url(#soft)"><path d="M700.5,79.5 C698.0,75.0 692.5,74.5 691.7,78.3 L693.0,83.5" fill="none" stroke="#a6cc48" stroke-width="2.5" stroke-linecap="round" stroke-linejoin="round"/>
<path d="M700.5,79.5 C703.0,74.0 708.5,73.0 710.5,79.5" fill="none" stroke="#a6cc48" stroke-width="2.5" stroke-linecap="round"/>
<line x1="700.5" y1="79.5" x2="701.0" y2="88.5" stroke="#d0d6c0" stroke-width="2.0" stroke-linecap="round"/></g>
<path d="M724.0,79.0 L723.0,89.3 L724.9,99.7 L724.7,110.0 L723.4,120.4 L724.0,130.7 L723.9,141.0 L724.4,151.4 L724.8,161.7 L722.9,172.0 L722.8,182.4 L724.9,192.7 L723.8,203.1 L724.7,213.4" fill="none" stroke="#9a9a9a" stroke-width="2.1" stroke-linejoin="round" opacity="0.75"/>
<circle cx="723.4" cy="79.0" r="0.66" fill="rgb(227,227,227)"/><circle cx="724.2" cy="81.1" r="0.91" fill="rgb(183,183,183)"/><circle cx="723.1" cy="83.1" r="0.81" fill="rgb(173,173,173)"/><circle cx="722.8" cy="85.2" r="0.82" fill="rgb(218,218,218)"/><circle cx="723.8" cy="87.3" r="0.76" fill="rgb(173,173,173)"/><circle cx="723.4" cy="89.3" r="0.77" fill="rgb(233,233,233)"/><circle cx="723.2" cy="91.4" r="0.85" fill="rgb(198,198,198)"/><circle cx="724.3" cy="93.5" r="0.72" fill="rgb(172,172,172)"/><circle cx="724.7" cy="95.5" r="0.62" fill="rgb(182,182,182)"/><circle cx="725.1" cy="97.6" r="0.60" fill="rgb(207,207,207)"/><circle cx="724.7" cy="99.7" r="0.92" fill="rgb(234,234,234)"/><circle cx="724.8" cy="101.7" r="0.67" fill="rgb(194,194,194)"/><circle cx="724.9" cy="103.8" r="0.89" fill="rgb(233,233,233)"/><circle cx="724.8" cy="105.9" r="0.74" fill="rgb(174,174,174)"/><circle cx="725.0" cy="107.9" r="0.72" fill="rgb(221,221,221)"/><circle cx="724.3" cy="110.0" r="0.58" fill="rgb(217,217,217)"/><circle cx="724.6" cy="112.1" r="0.86" fill="rgb(183,183,183)"/><circle cx="724.2" cy="114.2" r="0.70" fill="rgb(220,220,220)"/><circle cx="724.2" cy="116.2" r="0.57" fill="rgb(230,230,230)"/><circle cx="723.9" cy="118.3" r="0.81" fill="rgb(220,220,220)"/><circle cx="723.0" cy="120.4" r="0.94" fill="rgb(199,199,199)"/><circle cx="723.8" cy="122.4" r="0.71" fill="rgb(199,199,199)"/><circle cx="723.4" cy="124.5" r="0.73" fill="rgb(215,215,215)"/><circle cx="723.5" cy="126.6" r="0.70" fill="rgb(170,170,170)"/><circle cx="724.3" cy="128.6" r="0.87" fill="rgb(235,235,235)"/><circle cx="724.0" cy="130.7" r="0.72" fill="rgb(196,196,196)"/><circle cx="723.4" cy="132.8" r="0.78" fill="rgb(216,216,216)"/><circle cx="723.6" cy="134.8" r="0.72" fill="rgb(234,234,234)"/><circle cx="724.3" cy="136.9" r="0.69" fill="rgb(223,223,223)"/><circle cx="723.9" cy="139.0" r="0.73" fill="rgb(212,212,212)"/><circle cx="723.3" cy="141.0" r="0.80" fill="rgb(199,199,199)"/><circle cx="724.0" cy="143.1" r="0.89" fill="rgb(193,193,193)"/><circle cx="724.4" cy="145.2" r="0.56" fill="rgb(202,202,202)"/><circle cx="724.7" cy="147.2" r="0.58" fill="rgb(179,179,179)"/><circle cx="723.7" cy="149.3" r="0.85" fill="rgb(171,171,171)"/><circle cx="724.1" cy="151.4" r="0.59" fill="rgb(204,204,204)"/><circle cx="724.6" cy="153.4" r="0.67" fill="rgb(214,214,214)"/><circle cx="724.1" cy="155.5" r="0.76" fill="rgb(202,202,202)"/><circle cx="724.2" cy="157.6" r="0.81" fill="rgb(204,204,204)"/><circle cx="724.4" cy="159.6" r="0.75" fill="rgb(211,211,211)"/><circle cx="724.3" cy="161.7" r="0.70" fill="rgb(209,209,209)"/><circle cx="724.3" cy="163.8" r="0.65" fill="rgb(194,194,194)"/><circle cx="723.7" cy="165.8" r="0.94" fill="rgb(235,235,235)"/><circle cx="724.2" cy="167.9" r="0.88" fill="rgb(225,225,225)"/><circle cx="722.7" cy="170.0" r="0.71" fill="rgb(172,172,172)"/><circle cx="722.4" cy="172.0" r="0.73" fill="rgb(190,190,190)"/><circle cx="722.9" cy="174.1" r="0.77" fill="rgb(224,224,224)"/><circle cx="722.5" cy="176.2" r="0.64" fill="rgb(227,227,227)"/><circle cx="723.0" cy="178.2" r="0.82" fill="rgb(220,220,220)"/><circle cx="723.2" cy="180.3" r="0.57" fill="rgb(224,224,224)"/><circle cx="722.5" cy="182.4" r="0.90" fill="rgb(197,197,197)"/><circle cx="723.0" cy="184.5" r="0.67" fill="rgb(179,179,179)"/><circle cx="724.1" cy="186.5" r="0.72" fill="rgb(190,190,190)"/><circle cx="723.7" cy="188.6" r="0.77" fill="rgb(171,171,171)"/><circle cx="724.9" cy="190.7" r="0.93" fill="rgb(197,197,197)"/><circle cx="725.0" cy="192.7" r="0.88" fill="rgb(191,191,191)"/><circle cx="725.1" cy="194.8" r="0.56" fill="rgb(235,235,235)"/><circle cx="724.1" cy="196.9" r="0.63" fill="rgb(182,182,182)"/><circle cx="724.5" cy="198.9" r="0.79" fill="rgb(225,225,225)"/><circle cx="724.0" cy="201.0" r="0.67" fill="rgb(219,219,219)"/><circle cx="723.8" cy="203.1" r="0.79" fill="rgb(211,211,211)"/><circle cx="723.9" cy="205.1" r="0.56" fill="rgb(206,206,206)"/><circle cx="723.8" cy="207.2" r="0.87" fill="rgb(211,211,211)"/><circle cx="724.4" cy="209.3" r="0.69" fill="rgb(187,187,187)"/><circle cx="724.2" cy="211.3" r="0.89" fill="rgb(182,182,182)"/>
<g filter="url(#soft)"><path d="M724.0,77.0 C721.5,72.5 716.0,72.0 715.2,75.8 L716.5,81.0" fill="none" stroke="#a6cc48" stroke-width="2.5" stroke-linecap="round" stroke-linejoin="round"/>
<path d="M724.0,77.0 C726.5,71.5 732.0,70.5 734.0,77.0" fill="none" stroke="#a6cc48" stroke-width="2.5" stroke-linecap="round"/>
<line x1="724.0" y1="77.0" x2="724.5" y2="86.0" stroke="#d0d6c0" stroke-width="2.0" stroke-linecap="round"/></g>
<path d="M751.5,81.5 L752.7,91.5 L752.7,101.5 L750.3,111.5 L750.4,121.5 L752.4,131.5 L752.1,141.5 L751.9,151.4 L751.0,161.4 L751.8,171.4 L751.8,181.4 L751.7,191.4 L750.6,201.4" fill="none" stroke="#9a9a9a" stroke-width="2.1" stroke-linejoin="round" opacity="0.75"/>
<circle cx="751.4" cy="81.5" r="0.87" fill="rgb(220,220,220)"/><circle cx="752.2" cy="83.5" r="0.93" fill="rgb(235,235,235)"/><circle cx="752.0" cy="85.5" r="0.75" fill="rgb(226,226,226)"/><circle cx="752.7" cy="87.5" r="0.70" fill="rgb(173,173,173)"/><circle cx="753.0" cy="89.5" r="0.72" fill="rgb(218,218,218)"/><circle cx="753.1" cy="91.5" r="0.77" fill="rgb(191,191,191)"/><circle cx="752.4" cy="93.5" r="0.62" fill="rgb(173,173,173)"/><circle cx="752.3" cy="95.5" r="0.75" fill="rgb(235,235,235)"/><circle cx="753.3" cy="97.5" r="0.95" fill="rgb(193,193,193)"/><circle cx="752.6" cy="99.5" r="0.84" fill="rgb(223,223,223)"/><circle cx="753.2" cy="101.5" r="0.87" fill="rgb(216,216,216)"/><circle cx="752.0" cy="103.5" r="0.61" fill="rgb(227,227,227)"/><circle cx="752.0" cy="105.5" r="0.81" fill="rgb(229,229,229)"/><circle cx="751.0" cy="107.5" r="0.92" fill="rgb(205,205,205)"/><circle cx="750.8" cy="109.5" r="0.81" fill="rgb(215,215,215)"/><circle cx="750.3" cy="111.5" r="0.69" fill="rgb(229,229,229)"/><circle cx="750.6" cy="113.5" r="0.74" fill="rgb(228,228,228)"/><circle cx="750.0" cy="115.5" r="0.88" fill="rgb(211,211,211)"/><circle cx="750.8" cy="117.5" r="0.86" fill="rgb(204,204,204)"/><circle cx="750.4" cy="119.5" r="0.93" fill="rgb(208,208,208)"/><circle cx="750.7" cy="121.5" r="0.77" fill="rgb(234,234,234)"/><circle cx="750.8" cy="123.5" r="0.67" fill="rgb(222,222,222)"/><circle cx="750.9" cy="125.5" r="0.70" fill="rgb(235,235,235)"/><circle cx="751.8" cy="127.5" r="0.86" fill="rgb(179,179,179)"/><circle cx="751.8" cy="129.5" r="0.91" fill="rgb(171,171,171)"/><circle cx="752.0" cy="131.5" r="0.57" fill="rgb(183,183,183)"/><circle cx="752.5" cy="133.5" r="0.79" fill="rgb(204,204,204)"/><circle cx="752.5" cy="135.5" r="0.85" fill="rgb(183,183,183)"/><circle cx="751.8" cy="137.5" r="0.65" fill="rgb(204,204,204)"/><circle cx="751.8" cy="139.5" r="0.72" fill="rgb(177,177,177)"/><circle cx="752.4" cy="141.5" r="0.57" fill="rgb(174,174,174)"/><circle cx="751.9" cy="143.4" r="0.82" fill="rgb(201,201,201)"/><circle cx="751.5" cy="145.4" r="0.56" fill="rgb(178,178,178)"/><circle cx="752.3" cy="147.4" r="0.70" fill="rgb(172,172,172)"/><circle cx="751.5" cy="149.4" r="0.84" fill="rgb(190,190,190)"/><circle cx="752.0" cy="151.4" r="0.70" fill="rgb(170,170,170)"/><circle cx="751.2" cy="153.4" r="0.61" fill="rgb(201,201,201)"/><circle cx="751.0" cy="155.4" r="0.93" fill="rgb(214,214,214)"/><circle cx="751.5" cy="157.4" r="0.66" fill="rgb(184,184,184)"/><circle cx="751.2" cy="159.4" r="0.73" fill="rgb(209,209,209)"/><circle cx="751.3" cy="161.4" r="0.91" fill="rgb(175,175,175)"/><circle cx="751.5" cy="163.4" r="0.74" fill="rgb(189,189,189)"/><circle cx="751.0" cy="165.4" r="0.89" fill="rgb(210,210,210)"/><circle cx="750.9" cy="167.4" r="0.76" fill="rgb(186,186,186)"/><circle cx="752.0" cy="169.4" r="0.76" fill="rgb(232,232,232)"/><circle cx="751.3" cy="171.4" r="0.65" fill="rgb(213,213,213)"/><circle cx="751.9" cy="173.4" r="0.81" fill="rgb(223,223,223)"/><circle cx="752.0" cy="175.4" r="0.82" fill="rgb(187,187,187)"/><circle cx="751.5" cy="177.4" r="0.61" fill="rgb(186,186,186)"/><circle cx="751.3" cy="179.4" r="0.75" fill="rgb(199,199,199)"/><circle cx="752.4" cy="181.4" r="0.95" fill="rgb(174,174,174)"/><circle cx="751.4" cy="183.4" r="0.58" fill="rgb(226,226,226)"/><circle cx="751.2" cy="185.4" r="0.80" fill="rgb(199,199,199)"/><circle cx="752.1" cy="187.4" r="0.65" fill="rgb(216,216,216)"/><circle cx="751.6" cy="189.4" r="0.61" fill="rgb(170,170,170)"/><circle cx="751.6" cy="191.4" r="0.59" fill="rgb(190,190,190)"/><circle cx="751.8" cy="193.4" r="0.59" fill="rgb(200,200,200)"/><circle cx="750.7" cy="195.4" r="0.59" fill="rgb(199,199,199)"/><circle cx="750.5" cy="197.4" r="0.73" fill="rgb(229,229,229)"/><circle cx="750.9" cy="199.4" r="0.63" fill="rgb(218,218,218)"/>
<g filter="url(#soft)"><path d="M751.5,79.5 C749.0,75.0 743.5,74.5 742.7,78.3 L744.0,83.5" fill="none" stroke="#a6cc48" stroke-width="2.5" stroke-linecap="round" stroke-linejoin="round"/>
<path d="M751.5,79.5 C754.0,74.0 759.5,73.0 761.5,79.5" fill="none" stroke="#a6cc48" stroke-width="2.5" stroke-linecap="round"/>
<line x1="751.5" y1="79.5" x2="752.0" y2="88.5" stroke="#d0d6c0" stroke-width="2.0" stroke-linecap="round"/></g>
<path d="M794.0,81.5 L794.2,92.4 L793.8,103.3 L794.2,114.2 L793.2,125.1 L794.8,136.0" fill="none" stroke="#9a9a9a" stroke-width="2.1" stroke-linejoin="round" opacity="0.75"/>
<circle cx="794.4" cy="81.5" r="0.56" fill="rgb(190,190,190)"/><circle cx="794.0" cy="83.7" r="0.65" fill="rgb(179,179,179)"/><circle cx="794.6" cy="85.9" r="0.57" fill="rgb(216,216,216)"/><circle cx="794.5" cy="88.0" r="0.70" fill="rgb(215,215,215)"/><circle cx="793.9" cy="90.2" r="0.73" fill="rgb(203,203,203)"/><circle cx="794.4" cy="92.4" r="0.60" fill="rgb(216,216,216)"/><circle cx="794.4" cy="94.6" r="0.94" fill="rgb(200,200,200)"/><circle cx="794.2" cy="96.8" r="0.78" fill="rgb(175,175,175)"/><circle cx="793.6" cy="98.9" r="0.93" fill="rgb(194,194,194)"/><circle cx="793.7" cy="101.1" r="0.86" fill="rgb(216,216,216)"/><circle cx="793.5" cy="103.3" r="0.72" fill="rgb(227,227,227)"/><circle cx="793.4" cy="105.5" r="0.89" fill="rgb(211,211,211)"/><circle cx="793.6" cy="107.7" r="0.94" fill="rgb(198,198,198)"/><circle cx="793.7" cy="109.8" r="0.75" fill="rgb(174,174,174)"/><circle cx="794.5" cy="112.0" r="0.76" fill="rgb(179,179,179)"/><circle cx="794.6" cy="114.2" r="0.70" fill="rgb(189,189,189)"/><circle cx="794.5" cy="116.4" r="0.60" fill="rgb(189,189,189)"/><circle cx="794.1" cy="118.6" r="0.73" fill="rgb(182,182,182)"/><circle cx="794.2" cy="120.7" r="0.93" fill="rgb(194,194,194)"/><circle cx="793.3" cy="122.9" r="0.73" fill="rgb(223,223,223)"/><circle cx="793.5" cy="125.1" r="0.80" fill="rgb(188,188,188)"/><circle cx="793.2" cy="127.3" r="0.66" fill="rgb(185,185,185)"/><circle cx="793.6" cy="129.5" r="0.86" fill="rgb(192,192,192)"/><circle cx="794.2" cy="131.6" r="0.68" fill="rgb(214,214,214)"/><circle cx="794.2" cy="133.8" r="0.68" fill="rgb(175,175,175)"/>
<g filter="url(#soft)"><path d="M794.0,79.5 C791.5,75.0 786.0,74.5 785.2,78.3 L786.5,83.5" fill="none" stroke="#a6cc48" stroke-width="2.5" stroke-linecap="round" stroke-linejoin="round"/>
<path d="M794.0,79.5 C796.5,74.0 802.0,73.0 804.0,79.5" fill="none" stroke="#a6cc48" stroke-width="2.5" stroke-linecap="round"/>
<line x1="794.0" y1="79.5" x2="794.5" y2="88.5" stroke="#d0d6c0" stroke-width="2.0" stroke-linecap="round"/></g>
<path d="M819.0,80.5 L818.9,91.4 L819.2,102.2 L820.1,113.1 L818.9,123.9 L819.0,134.8" fill="none" stroke="#9a9a9a" stroke-width="2.1" stroke-linejoin="round" opacity="0.75"/>
<circle cx="819.1" cy="80.5" r="0.87" fill="rgb(193,193,193)"/><circle cx="818.9" cy="82.7" r="0.59" fill="rgb(193,193,193)"/><circle cx="818.7" cy="84.8" r="0.77" fill="rgb(181,181,181)"/><circle cx="819.4" cy="87.0" r="0.79" fill="rgb(175,175,175)"/><circle cx="818.8" cy="89.2" r="0.81" fill="rgb(227,227,227)"/><circle cx="819.0" cy="91.4" r="0.80" fill="rgb(190,190,190)"/><circle cx="819.3" cy="93.5" r="0.57" fill="rgb(178,178,178)"/><circle cx="818.6" cy="95.7" r="0.79" fill="rgb(200,200,200)"/><circle cx="819.4" cy="97.9" r="0.73" fill="rgb(211,211,211)"/><circle cx="819.5" cy="100.0" r="0.81" fill="rgb(199,199,199)"/><circle cx="819.2" cy="102.2" r="0.73" fill="rgb(180,180,180)"/><circle cx="819.1" cy="104.4" r="0.83" fill="rgb(180,180,180)"/><circle cx="819.3" cy="106.6" r="0.76" fill="rgb(199,199,199)"/><circle cx="819.2" cy="108.7" r="0.71" fill="rgb(183,183,183)"/><circle cx="820.3" cy="110.9" r="0.58" fill="rgb(219,219,219)"/><circle cx="819.5" cy="113.1" r="0.64" fill="rgb(170,170,170)"/><circle cx="820.4" cy="115.3" r="0.74" fill="rgb(176,176,176)"/><circle cx="820.2" cy="117.4" r="0.72" fill="rgb(220,220,220)"/><circle cx="819.5" cy="119.6" r="0.86" fill="rgb(195,195,195)"/><circle cx="818.9" cy="121.8" r="0.67" fill="rgb(181,181,181)"/><circle cx="818.3" cy="123.9" r="0.85" fill="rgb(222,222,222)"/><circle cx="818.5" cy="126.1" r="0.83" fill="rgb(201,201,201)"/><circle cx="818.4" cy="128.3" r="0.87" fill="rgb(229,229,229)"/><circle cx="818.6" cy="130.5" r="0.73" fill="rgb(194,194,194)"/><circle cx="818.6" cy="132.6" r="0.72" fill="rgb(186,186,186)"/>
<g filter="url(#soft)"><path d="M819.0,78.5 C816.5,74.0 811.0,73.5 810.2,77.3 L811.5,82.5" fill="none" stroke="#a6cc48" stroke-width="2.5" stroke-linecap="round" stroke-linejoin="round"/>
<path d="M819.0,78.5 C821.5,73.0 827.0,72.0 829.0,78.5" fill="none" stroke="#a6cc48" stroke-width="2.5" stroke-linecap="round"/>
<line x1="819.0" y1="78.5" x2="819.5" y2="87.5" stroke="#d0d6c0" stroke-width="2.0" stroke-linecap="round"/></g>
<path d="M843.3,81.5 L843.2,92.5 L843.7,103.6 L843.7,114.7 L842.4,125.7" fill="none" stroke="#9a9a9a" stroke-width="2.1" stroke-linejoin="round" opacity="0.75"/>
<circle cx="842.7" cy="81.5" r="0.74" fill="rgb(217,217,217)"/><circle cx="843.5" cy="83.3" r="0.83" fill="rgb(228,228,228)"/><circle cx="843.4" cy="85.2" r="0.81" fill="rgb(170,170,170)"/><circle cx="842.8" cy="87.0" r="0.70" fill="rgb(226,226,226)"/><circle cx="843.1" cy="88.9" r="0.57" fill="rgb(196,196,196)"/><circle cx="843.6" cy="90.7" r="0.76" fill="rgb(179,179,179)"/><circle cx="843.6" cy="92.5" r="0.87" fill="rgb(221,221,221)"/><circle cx="842.8" cy="94.4" r="0.88" fill="rgb(177,177,177)"/><circle cx="843.6" cy="96.2" r="0.59" fill="rgb(198,198,198)"/><circle cx="844.1" cy="98.1" r="0.60" fill="rgb(226,226,226)"/><circle cx="843.5" cy="99.9" r="0.77" fill="rgb(187,187,187)"/><circle cx="844.1" cy="101.8" r="0.94" fill="rgb(190,190,190)"/><circle cx="844.2" cy="103.6" r="0.75" fill="rgb(191,191,191)"/><circle cx="843.2" cy="105.4" r="0.82" fill="rgb(223,223,223)"/><circle cx="843.7" cy="107.3" r="0.77" fill="rgb(219,219,219)"/><circle cx="843.9" cy="109.1" r="0.94" fill="rgb(180,180,180)"/><circle cx="844.3" cy="111.0" r="0.69" fill="rgb(203,203,203)"/><circle cx="843.6" cy="112.8" r="0.82" fill="rgb(219,219,219)"/><circle cx="843.3" cy="114.7" r="0.68" fill="rgb(200,200,200)"/><circle cx="843.4" cy="116.5" r="0.62" fill="rgb(234,234,234)"/><circle cx="843.1" cy="118.3" r="0.56" fill="rgb(225,225,225)"/><circle cx="842.5" cy="120.2" r="0.57" fill="rgb(224,224,224)"/><circle cx="842.5" cy="122.0" r="0.85" fill="rgb(183,183,183)"/><circle cx="842.3" cy="123.9" r="0.83" fill="rgb(179,179,179)"/>
<g filter="url(#soft)"><path d="M843.3,79.5 C840.8,75.0 835.3,74.5 834.5,78.3 L835.8,83.5" fill="none" stroke="#a6cc48" stroke-width="2.5" stroke-linecap="round" stroke-linejoin="round"/>
<path d="M843.3,79.5 C845.8,74.0 851.3,73.0 853.3,79.5" fill="none" stroke="#a6cc48" stroke-width="2.5" stroke-linecap="round"/>
<line x1="843.3" y1="79.5" x2="843.8" y2="88.5" stroke="#d0d6c0" stroke-width="2.0" stroke-linecap="round"/></g>
<path d="M889.7,80.0 L890.8,89.7 L890.2,99.3 L890.4,109.0 L890.8,118.7 L889.1,128.3 L890.1,138.0" fill="none" stroke="#d8d8d8" stroke-width="1.2" stroke-dasharray="2.5 2" opacity="0.85"/>
<g filter="url(#soft)"><path d="M889.7,78.0 C887.8,74.6 883.7,74.2 883.1,77.1 L884.1,81.0" fill="none" stroke="#c8e070" stroke-width="1.9" stroke-linecap="round" stroke-linejoin="round"/>
<path d="M889.7,78.0 C891.6,73.9 895.7,73.1 897.2,78.0" fill="none" stroke="#c8e070" stroke-width="1.9" stroke-linecap="round"/>
<line x1="889.7" y1="78.0" x2="890.2" y2="84.8" stroke="#d0d6c0" stroke-width="1.5" stroke-linecap="round"/></g>
<path d="M912.4,80.5 L911.5,92.0 L912.9,103.5 L912.8,115.0 L912.3,126.5 L911.7,138.0" fill="none" stroke="#d8d8d8" stroke-width="1.2" stroke-dasharray="2.5 2" opacity="0.85"/>
<g filter="url(#soft)"><path d="M912.4,78.5 C910.5,75.1 906.4,74.8 905.8,77.6 L906.8,81.5" fill="none" stroke="#c8e070" stroke-width="1.9" stroke-linecap="round" stroke-linejoin="round"/>
<path d="M912.4,78.5 C914.3,74.4 918.4,73.6 919.9,78.5" fill="none" stroke="#c8e070" stroke-width="1.9" stroke-linecap="round"/>
<line x1="912.4" y1="78.5" x2="912.9" y2="85.2" stroke="#d0d6c0" stroke-width="1.5" stroke-linecap="round"/></g>
<path d="M936.7,80.5 L937.9,92.0 L935.8,103.5 L935.5,115.0 L938.0,126.5 L935.9,138.0" fill="none" stroke="#d8d8d8" stroke-width="1.2" stroke-dasharray="2.5 2" opacity="0.85"/>
<g filter="url(#soft)"><path d="M936.7,78.5 C934.8,75.1 930.7,74.8 930.1,77.6 L931.1,81.5" fill="none" stroke="#c8e070" stroke-width="1.9" stroke-linecap="round" stroke-linejoin="round"/>
<path d="M936.7,78.5 C938.6,74.4 942.7,73.6 944.2,78.5" fill="none" stroke="#c8e070" stroke-width="1.9" stroke-linecap="round"/>
<line x1="936.7" y1="78.5" x2="937.2" y2="85.2" stroke="#d0d6c0" stroke-width="1.5" stroke-linecap="round"/></g>
<path d="M700.3,239.9 L700.4,249.7 L699.8,259.4 L699.1,269.1 L700.7,278.9 L699.5,288.6 L699.7,298.4" fill="none" stroke="#9a9a9a" stroke-width="2.1" stroke-linejoin="round" opacity="0.75"/>
<circle cx="700.2" cy="239.9" r="0.95" fill="rgb(187,187,187)"/><circle cx="700.3" cy="241.8" r="0.56" fill="rgb(201,201,201)"/><circle cx="700.9" cy="243.8" r="0.94" fill="rgb(221,221,221)"/><circle cx="700.5" cy="245.8" r="0.71" fill="rgb(178,178,178)"/><circle cx="700.1" cy="247.7" r="0.86" fill="rgb(205,205,205)"/><circle cx="700.5" cy="249.7" r="0.81" fill="rgb(205,205,205)"/><circle cx="700.7" cy="251.6" r="0.80" fill="rgb(184,184,184)"/><circle cx="700.7" cy="253.5" r="0.88" fill="rgb(186,186,186)"/><circle cx="700.5" cy="255.5" r="0.75" fill="rgb(202,202,202)"/><circle cx="699.4" cy="257.4" r="0.60" fill="rgb(210,210,210)"/><circle cx="699.2" cy="259.4" r="0.67" fill="rgb(234,234,234)"/><circle cx="699.6" cy="261.3" r="0.74" fill="rgb(193,193,193)"/><circle cx="699.3" cy="263.3" r="0.90" fill="rgb(227,227,227)"/><circle cx="699.9" cy="265.2" r="0.58" fill="rgb(213,213,213)"/><circle cx="699.7" cy="267.2" r="0.74" fill="rgb(183,183,183)"/><circle cx="699.1" cy="269.1" r="0.65" fill="rgb(231,231,231)"/><circle cx="699.1" cy="271.1" r="0.82" fill="rgb(191,191,191)"/><circle cx="700.1" cy="273.0" r="0.66" fill="rgb(235,235,235)"/><circle cx="700.2" cy="275.0" r="0.74" fill="rgb(197,197,197)"/><circle cx="700.9" cy="276.9" r="0.75" fill="rgb(208,208,208)"/><circle cx="700.6" cy="278.9" r="0.67" fill="rgb(218,218,218)"/><circle cx="700.8" cy="280.8" r="0.70" fill="rgb(230,230,230)"/><circle cx="700.3" cy="282.8" r="0.93" fill="rgb(190,190,190)"/><circle cx="700.0" cy="284.8" r="0.56" fill="rgb(211,211,211)"/><circle cx="699.4" cy="286.7" r="0.77" fill="rgb(212,212,212)"/><circle cx="699.6" cy="288.6" r="0.89" fill="rgb(202,202,202)"/><circle cx="699.8" cy="290.6" r="0.83" fill="rgb(174,174,174)"/><circle cx="699.8" cy="292.5" r="0.88" fill="rgb(188,188,188)"/><circle cx="699.6" cy="294.5" r="0.66" fill="rgb(217,217,217)"/><circle cx="700.0" cy="296.4" r="0.60" fill="rgb(187,187,187)"/>
<g filter="url(#soft)"><path d="M700.3,237.9 C697.8,233.4 692.3,232.9 691.5,236.7 L692.8,241.9" fill="none" stroke="#a6cc48" stroke-width="2.5" stroke-linecap="round" stroke-linejoin="round"/>
<path d="M700.3,237.9 C702.8,232.4 708.3,231.4 710.3,237.9" fill="none" stroke="#a6cc48" stroke-width="2.5" stroke-linecap="round"/>
<line x1="700.3" y1="237.9" x2="700.8" y2="246.9" stroke="#d0d6c0" stroke-width="2.0" stroke-linecap="round"/></g>
<path d="M727.5,239.9 L726.2,250.4 L726.5,260.9 L727.2,271.4 L728.0,281.9 L726.6,292.4" fill="none" stroke="#9a9a9a" stroke-width="2.1" stroke-linejoin="round" opacity="0.75"/>
<circle cx="727.0" cy="239.9" r="0.83" fill="rgb(199,199,199)"/><circle cx="726.8" cy="242.0" r="0.81" fill="rgb(174,174,174)"/><circle cx="726.6" cy="244.1" r="0.76" fill="rgb(227,227,227)"/><circle cx="726.4" cy="246.2" r="0.60" fill="rgb(181,181,181)"/><circle cx="726.8" cy="248.3" r="0.69" fill="rgb(221,221,221)"/><circle cx="725.9" cy="250.4" r="0.70" fill="rgb(220,220,220)"/><circle cx="726.8" cy="252.5" r="0.84" fill="rgb(196,196,196)"/><circle cx="726.2" cy="254.6" r="0.93" fill="rgb(177,177,177)"/><circle cx="726.8" cy="256.7" r="0.60" fill="rgb(215,215,215)"/><circle cx="726.0" cy="258.8" r="0.56" fill="rgb(218,218,218)"/><circle cx="726.8" cy="260.9" r="0.81" fill="rgb(226,226,226)"/><circle cx="726.3" cy="263.0" r="0.84" fill="rgb(225,225,225)"/><circle cx="726.4" cy="265.1" r="0.74" fill="rgb(198,198,198)"/><circle cx="726.6" cy="267.2" r="0.68" fill="rgb(207,207,207)"/><circle cx="727.0" cy="269.3" r="0.93" fill="rgb(210,210,210)"/><circle cx="727.8" cy="271.4" r="0.87" fill="rgb(182,182,182)"/><circle cx="727.1" cy="273.5" r="0.77" fill="rgb(192,192,192)"/><circle cx="728.0" cy="275.6" r="0.59" fill="rgb(207,207,207)"/><circle cx="727.3" cy="277.7" r="0.83" fill="rgb(217,217,217)"/><circle cx="727.3" cy="279.8" r="0.66" fill="rgb(221,221,221)"/><circle cx="727.7" cy="281.9" r="0.60" fill="rgb(195,195,195)"/><circle cx="727.3" cy="284.0" r="0.73" fill="rgb(212,212,212)"/><circle cx="727.8" cy="286.1" r="0.66" fill="rgb(185,185,185)"/><circle cx="727.6" cy="288.2" r="0.93" fill="rgb(185,185,185)"/><circle cx="726.5" cy="290.3" r="0.84" fill="rgb(190,190,190)"/>
<g filter="url(#soft)"><path d="M727.5,237.9 C725.0,233.4 719.5,232.9 718.7,236.7 L720.0,241.9" fill="none" stroke="#a6cc48" stroke-width="2.5" stroke-linecap="round" stroke-linejoin="round"/>
<path d="M727.5,237.9 C730.0,232.4 735.5,231.4 737.5,237.9" fill="none" stroke="#a6cc48" stroke-width="2.5" stroke-linecap="round"/>
<line x1="727.5" y1="237.9" x2="728.0" y2="246.9" stroke="#d0d6c0" stroke-width="2.0" stroke-linecap="round"/></g>
<path d="M751.2,239.9 L750.1,251.0 L750.5,262.1 L750.7,273.2 L752.2,284.3 L751.2,295.4" fill="none" stroke="#9a9a9a" stroke-width="2.1" stroke-linejoin="round" opacity="0.75"/>
<circle cx="751.5" cy="239.9" r="0.68" fill="rgb(182,182,182)"/><circle cx="750.8" cy="241.8" r="0.76" fill="rgb(177,177,177)"/><circle cx="751.4" cy="243.6" r="0.70" fill="rgb(230,230,230)"/><circle cx="750.1" cy="245.4" r="0.76" fill="rgb(186,186,186)"/><circle cx="750.5" cy="247.3" r="0.88" fill="rgb(195,195,195)"/><circle cx="750.8" cy="249.2" r="0.73" fill="rgb(195,195,195)"/><circle cx="749.9" cy="251.0" r="0.94" fill="rgb(174,174,174)"/><circle cx="749.7" cy="252.8" r="0.73" fill="rgb(190,190,190)"/><circle cx="750.1" cy="254.7" r="0.77" fill="rgb(174,174,174)"/><circle cx="750.0" cy="256.6" r="0.67" fill="rgb(229,229,229)"/><circle cx="750.9" cy="258.4" r="0.76" fill="rgb(191,191,191)"/><circle cx="750.8" cy="260.2" r="0.78" fill="rgb(208,208,208)"/><circle cx="750.5" cy="262.1" r="0.78" fill="rgb(174,174,174)"/><circle cx="750.2" cy="264.0" r="0.58" fill="rgb(212,212,212)"/><circle cx="750.7" cy="265.8" r="0.72" fill="rgb(207,207,207)"/><circle cx="750.1" cy="267.6" r="0.55" fill="rgb(231,231,231)"/><circle cx="750.2" cy="269.5" r="0.83" fill="rgb(190,190,190)"/><circle cx="750.2" cy="271.4" r="0.60" fill="rgb(177,177,177)"/><circle cx="750.4" cy="273.2" r="0.61" fill="rgb(208,208,208)"/><circle cx="750.4" cy="275.0" r="0.75" fill="rgb(174,174,174)"/><circle cx="751.2" cy="276.9" r="0.93" fill="rgb(211,211,211)"/><circle cx="751.5" cy="278.8" r="0.80" fill="rgb(201,201,201)"/><circle cx="751.8" cy="280.6" r="0.64" fill="rgb(235,235,235)"/><circle cx="751.8" cy="282.4" r="0.63" fill="rgb(217,217,217)"/><circle cx="752.7" cy="284.3" r="0.60" fill="rgb(235,235,235)"/><circle cx="752.3" cy="286.1" r="0.81" fill="rgb(214,214,214)"/><circle cx="751.5" cy="288.0" r="0.94" fill="rgb(201,201,201)"/><circle cx="751.7" cy="289.8" r="0.93" fill="rgb(183,183,183)"/><circle cx="751.7" cy="291.7" r="0.86" fill="rgb(191,191,191)"/><circle cx="751.1" cy="293.5" r="0.92" fill="rgb(223,223,223)"/>
<g filter="url(#soft)"><path d="M751.2,237.9 C748.7,233.4 743.2,232.9 742.4,236.7 L743.7,241.9" fill="none" stroke="#a6cc48" stroke-width="2.5" stroke-linecap="round" stroke-linejoin="round"/>
<path d="M751.2,237.9 C753.7,232.4 759.2,231.4 761.2,237.9" fill="none" stroke="#a6cc48" stroke-width="2.5" stroke-linecap="round"/>
<line x1="751.2" y1="237.9" x2="751.7" y2="246.9" stroke="#d0d6c0" stroke-width="2.0" stroke-linecap="round"/></g>
<path d="M798.8,241.4 L798.7,247.8 L799.8,254.2 L797.6,260.6" fill="none" stroke="#9a9a9a" stroke-width="2.8" stroke-linejoin="round" opacity="0.75"/>
<circle cx="798.5" cy="241.4" r="0.60" fill="rgb(196,196,196)"/><circle cx="798.6" cy="243.5" r="0.88" fill="rgb(226,226,226)"/><circle cx="798.8" cy="245.7" r="0.57" fill="rgb(186,186,186)"/><circle cx="798.3" cy="247.8" r="0.89" fill="rgb(228,228,228)"/><circle cx="798.5" cy="249.9" r="0.60" fill="rgb(210,210,210)"/><circle cx="800.0" cy="252.1" r="0.86" fill="rgb(188,188,188)"/><circle cx="800.0" cy="254.2" r="0.71" fill="rgb(182,182,182)"/><circle cx="798.5" cy="256.3" r="0.84" fill="rgb(210,210,210)"/><circle cx="798.1" cy="258.5" r="0.67" fill="rgb(189,189,189)"/>
<g filter="url(#soft)"><path d="M798.8,239.4 C796.8,235.8 792.4,235.4 791.8,238.4 L792.8,242.6" fill="none" stroke="#a6cc48" stroke-width="2.0" stroke-linecap="round" stroke-linejoin="round"/>
<path d="M798.8,239.4 C800.8,235.0 805.2,234.2 806.8,239.4" fill="none" stroke="#a6cc48" stroke-width="2.0" stroke-linecap="round"/>
<line x1="798.8" y1="239.4" x2="799.3" y2="246.6" stroke="#d0d6c0" stroke-width="2.7" stroke-linecap="round"/></g>
<path d="M820.6,241.4 L820.3,247.8 L819.9,254.2 L819.7,260.6" fill="none" stroke="#9a9a9a" stroke-width="2.8" stroke-linejoin="round" opacity="0.75"/>
<circle cx="821.1" cy="241.4" r="0.77" fill="rgb(206,206,206)"/><circle cx="820.4" cy="243.5" r="0.86" fill="rgb(171,171,171)"/><circle cx="820.6" cy="245.7" r="0.73" fill="rgb(172,172,172)"/><circle cx="819.9" cy="247.8" r="0.94" fill="rgb(189,189,189)"/><circle cx="819.9" cy="249.9" r="0.81" fill="rgb(202,202,202)"/><circle cx="820.2" cy="252.1" r="0.60" fill="rgb(177,177,177)"/><circle cx="820.0" cy="254.2" r="0.90" fill="rgb(225,225,225)"/><circle cx="820.3" cy="256.3" r="0.58" fill="rgb(197,197,197)"/><circle cx="819.6" cy="258.5" r="0.60" fill="rgb(230,230,230)"/>
<g filter="url(#soft)"><path d="M820.6,239.4 C818.6,235.8 814.2,235.4 813.6,238.4 L814.6,242.6" fill="none" stroke="#a6cc48" stroke-width="2.0" stroke-linecap="round" stroke-linejoin="round"/>
<path d="M820.6,239.4 C822.6,235.0 827.0,234.2 828.6,239.4" fill="none" stroke="#a6cc48" stroke-width="2.0" stroke-linecap="round"/>
<line x1="820.6" y1="239.4" x2="821.1" y2="246.6" stroke="#d0d6c0" stroke-width="2.7" stroke-linecap="round"/></g>
<path d="M841.8,241.4 L842.2,247.8 L840.6,254.2 L841.2,260.6" fill="none" stroke="#9a9a9a" stroke-width="2.8" stroke-linejoin="round" opacity="0.75"/>
<circle cx="841.5" cy="241.4" r="0.82" fill="rgb(183,183,183)"/><circle cx="842.4" cy="243.5" r="0.79" fill="rgb(181,181,181)"/><circle cx="841.5" cy="245.7" r="0.64" fill="rgb(181,181,181)"/><circle cx="842.2" cy="247.8" r="0.77" fill="rgb(173,173,173)"/><circle cx="841.9" cy="249.9" r="0.64" fill="rgb(223,223,223)"/><circle cx="841.2" cy="252.1" r="0.85" fill="rgb(170,170,170)"/><circle cx="840.2" cy="254.2" r="0.69" fill="rgb(224,224,224)"/><circle cx="840.4" cy="256.3" r="0.59" fill="rgb(213,213,213)"/><circle cx="840.9" cy="258.5" r="0.89" fill="rgb(215,215,215)"/>
<g filter="url(#soft)"><path d="M841.8,239.4 C839.8,235.8 835.4,235.4 834.8,238.4 L835.8,242.6" fill="none" stroke="#a6cc48" stroke-width="2.0" stroke-linecap="round" stroke-linejoin="round"/>
<path d="M841.8,239.4 C843.8,235.0 848.2,234.2 849.8,239.4" fill="none" stroke="#a6cc48" stroke-width="2.0" stroke-linecap="round"/>
<line x1="841.8" y1="239.4" x2="842.3" y2="246.6" stroke="#d0d6c0" stroke-width="2.7" stroke-linecap="round"/></g>
<path d="M893.3,237.7 L893.3,244.8 L892.7,251.9 L893.7,259.0" fill="none" stroke="#9a9a9a" stroke-width="1.6" stroke-linejoin="round" opacity="0.75"/>
<circle cx="893.0" cy="237.7" r="0.86" fill="rgb(230,230,230)"/><circle cx="893.1" cy="239.5" r="0.64" fill="rgb(210,210,210)"/><circle cx="893.4" cy="241.2" r="0.69" fill="rgb(189,189,189)"/><circle cx="892.8" cy="243.0" r="0.68" fill="rgb(214,214,214)"/><circle cx="892.9" cy="244.8" r="0.95" fill="rgb(212,212,212)"/><circle cx="893.6" cy="246.6" r="0.80" fill="rgb(224,224,224)"/><circle cx="893.5" cy="248.3" r="0.83" fill="rgb(178,178,178)"/><circle cx="893.2" cy="250.1" r="0.55" fill="rgb(225,225,225)"/><circle cx="892.5" cy="251.9" r="0.83" fill="rgb(225,225,225)"/><circle cx="892.5" cy="253.7" r="0.66" fill="rgb(226,226,226)"/><circle cx="893.4" cy="255.4" r="0.60" fill="rgb(228,228,228)"/><circle cx="893.6" cy="257.2" r="0.71" fill="rgb(185,185,185)"/>
<g filter="url(#soft)"><path d="M893.3,235.7 C891.8,233.0 888.5,232.7 888.0,235.0 L888.8,238.1" fill="none" stroke="#c8e070" stroke-width="1.5" stroke-linecap="round" stroke-linejoin="round"/>
<path d="M893.3,235.7 C894.8,232.4 898.1,231.8 899.3,235.7" fill="none" stroke="#c8e070" stroke-width="1.5" stroke-linecap="round"/>
<line x1="893.3" y1="235.7" x2="893.8" y2="241.1" stroke="#d0d6c0" stroke-width="1.5" stroke-linecap="round"/></g>
<path d="M908.5,237.7 L907.8,244.8 L908.5,251.9 L907.6,259.0" fill="none" stroke="#9a9a9a" stroke-width="1.6" stroke-linejoin="round" opacity="0.75"/>
<circle cx="908.9" cy="237.7" r="0.88" fill="rgb(199,199,199)"/><circle cx="908.0" cy="239.5" r="0.77" fill="rgb(220,220,220)"/><circle cx="908.1" cy="241.2" r="0.78" fill="rgb(213,213,213)"/><circle cx="907.8" cy="243.0" r="0.71" fill="rgb(205,205,205)"/><circle cx="908.4" cy="244.8" r="0.56" fill="rgb(184,184,184)"/><circle cx="907.7" cy="246.6" r="0.82" fill="rgb(231,231,231)"/><circle cx="908.7" cy="248.3" r="0.80" fill="rgb(214,214,214)"/><circle cx="908.2" cy="250.1" r="0.86" fill="rgb(194,194,194)"/><circle cx="907.9" cy="251.9" r="0.74" fill="rgb(191,191,191)"/><circle cx="908.8" cy="253.7" r="0.88" fill="rgb(183,183,183)"/><circle cx="908.5" cy="255.4" r="0.62" fill="rgb(183,183,183)"/><circle cx="908.4" cy="257.2" r="0.92" fill="rgb(229,229,229)"/>
<g filter="url(#soft)"><path d="M908.5,235.7 C907.0,233.0 903.7,232.7 903.2,235.0 L904.0,238.1" fill="none" stroke="#c8e070" stroke-width="1.5" stroke-linecap="round" stroke-linejoin="round"/>
<path d="M908.5,235.7 C910.0,232.4 913.3,231.8 914.5,235.7" fill="none" stroke="#c8e070" stroke-width="1.5" stroke-linecap="round"/>
<line x1="908.5" y1="235.7" x2="909.0" y2="241.1" stroke="#d0d6c0" stroke-width="1.5" stroke-linecap="round"/></g>
<path d="M928.5,238.5 L929.7,245.3 L927.3,252.2 L929.1,259.0" fill="none" stroke="#9a9a9a" stroke-width="1.6" stroke-linejoin="round" opacity="0.75"/>
<circle cx="928.5" cy="238.5" r="0.71" fill="rgb(217,217,217)"/><circle cx="929.3" cy="240.2" r="0.94" fill="rgb(190,190,190)"/><circle cx="929.5" cy="241.9" r="0.94" fill="rgb(193,193,193)"/><circle cx="929.4" cy="243.6" r="0.56" fill="rgb(170,170,170)"/><circle cx="929.6" cy="245.3" r="0.64" fill="rgb(171,171,171)"/><circle cx="928.7" cy="247.0" r="0.64" fill="rgb(231,231,231)"/><circle cx="928.3" cy="248.8" r="0.72" fill="rgb(233,233,233)"/><circle cx="928.4" cy="250.5" r="0.93" fill="rgb(218,218,218)"/><circle cx="927.4" cy="252.2" r="0.77" fill="rgb(216,216,216)"/><circle cx="927.3" cy="253.9" r="0.66" fill="rgb(192,192,192)"/><circle cx="928.0" cy="255.6" r="0.87" fill="rgb(224,224,224)"/><circle cx="928.8" cy="257.3" r="0.79" fill="rgb(224,224,224)"/>
<g filter="url(#soft)"><path d="M928.5,236.5 C927.0,233.8 923.7,233.5 923.2,235.8 L924.0,238.9" fill="none" stroke="#c8e070" stroke-width="1.5" stroke-linecap="round" stroke-linejoin="round"/>
<path d="M928.5,236.5 C930.0,233.2 933.3,232.6 934.5,236.5" fill="none" stroke="#c8e070" stroke-width="1.5" stroke-linecap="round"/>
<line x1="928.5" y1="236.5" x2="929.0" y2="241.9" stroke="#d0d6c0" stroke-width="1.5" stroke-linecap="round"/></g>
<path d="M700.3,338.3 L699.8,348.1 L700.5,357.9 L699.7,367.7 L701.1,377.6 L700.2,387.4 L699.9,397.2 L701.3,407.0" fill="none" stroke="#9a9a9a" stroke-width="2.1" stroke-linejoin="round" opacity="0.75"/>
<circle cx="700.7" cy="338.3" r="0.82" fill="rgb(181,181,181)"/><circle cx="699.8" cy="340.3" r="0.57" fill="rgb(219,219,219)"/><circle cx="700.3" cy="342.2" r="0.71" fill="rgb(171,171,171)"/><circle cx="700.3" cy="344.2" r="0.67" fill="rgb(186,186,186)"/><circle cx="700.1" cy="346.2" r="0.75" fill="rgb(189,189,189)"/><circle cx="699.9" cy="348.1" r="0.79" fill="rgb(176,176,176)"/><circle cx="699.5" cy="350.1" r="0.61" fill="rgb(208,208,208)"/><circle cx="700.6" cy="352.0" r="0.67" fill="rgb(198,198,198)"/><circle cx="699.9" cy="354.0" r="0.58" fill="rgb(205,205,205)"/><circle cx="700.0" cy="356.0" r="0.91" fill="rgb(202,202,202)"/><circle cx="700.1" cy="357.9" r="0.78" fill="rgb(195,195,195)"/><circle cx="700.9" cy="359.9" r="0.68" fill="rgb(234,234,234)"/><circle cx="700.2" cy="361.9" r="0.59" fill="rgb(218,218,218)"/><circle cx="700.0" cy="363.8" r="0.56" fill="rgb(182,182,182)"/><circle cx="699.9" cy="365.8" r="0.58" fill="rgb(181,181,181)"/><circle cx="700.1" cy="367.7" r="0.77" fill="rgb(210,210,210)"/><circle cx="699.8" cy="369.7" r="0.77" fill="rgb(219,219,219)"/><circle cx="700.7" cy="371.7" r="0.68" fill="rgb(191,191,191)"/><circle cx="700.3" cy="373.6" r="0.93" fill="rgb(228,228,228)"/><circle cx="700.8" cy="375.6" r="0.56" fill="rgb(219,219,219)"/><circle cx="700.8" cy="377.6" r="0.59" fill="rgb(187,187,187)"/><circle cx="701.3" cy="379.5" r="0.77" fill="rgb(223,223,223)"/><circle cx="700.8" cy="381.5" r="0.75" fill="rgb(175,175,175)"/><circle cx="701.1" cy="383.4" r="0.93" fill="rgb(224,224,224)"/><circle cx="700.9" cy="385.4" r="0.91" fill="rgb(196,196,196)"/><circle cx="699.8" cy="387.4" r="0.88" fill="rgb(223,223,223)"/><circle cx="699.7" cy="389.3" r="0.78" fill="rgb(199,199,199)"/><circle cx="699.5" cy="391.3" r="0.90" fill="rgb(212,212,212)"/><circle cx="700.4" cy="393.3" r="0.56" fill="rgb(201,201,201)"/><circle cx="700.2" cy="395.2" r="0.86" fill="rgb(230,230,230)"/><circle cx="699.4" cy="397.2" r="0.67" fill="rgb(200,200,200)"/><circle cx="699.8" cy="399.1" r="0.92" fill="rgb(191,191,191)"/><circle cx="700.3" cy="401.1" r="0.61" fill="rgb(177,177,177)"/><circle cx="700.6" cy="403.1" r="0.76" fill="rgb(196,196,196)"/><circle cx="701.4" cy="405.0" r="0.76" fill="rgb(194,194,194)"/>
<g filter="url(#soft)"><path d="M700.3,336.3 C697.8,331.8 692.3,331.3 691.5,335.1 L692.8,340.3" fill="none" stroke="#a6cc48" stroke-width="2.5" stroke-linecap="round" stroke-linejoin="round"/>
<path d="M700.3,336.3 C702.8,330.8 708.3,329.8 710.3,336.3" fill="none" stroke="#a6cc48" stroke-width="2.5" stroke-linecap="round"/>
<line x1="700.3" y1="336.3" x2="700.8" y2="345.3" stroke="#d0d6c0" stroke-width="2.0" stroke-linecap="round"/></g>
<path d="M724.0,338.3 L724.0,348.0 L724.1,357.8 L724.8,367.5 L723.5,377.2 L723.5,387.0 L724.5,396.7" fill="none" stroke="#9a9a9a" stroke-width="2.1" stroke-linejoin="round" opacity="0.75"/>
<circle cx="724.0" cy="338.3" r="0.58" fill="rgb(215,215,215)"/><circle cx="724.0" cy="340.2" r="0.68" fill="rgb(191,191,191)"/><circle cx="723.4" cy="342.2" r="0.83" fill="rgb(234,234,234)"/><circle cx="724.2" cy="344.1" r="0.56" fill="rgb(213,213,213)"/><circle cx="724.4" cy="346.1" r="0.84" fill="rgb(186,186,186)"/><circle cx="723.7" cy="348.0" r="0.85" fill="rgb(207,207,207)"/><circle cx="724.4" cy="350.0" r="0.94" fill="rgb(226,226,226)"/><circle cx="724.2" cy="351.9" r="0.86" fill="rgb(192,192,192)"/><circle cx="724.2" cy="353.9" r="0.71" fill="rgb(223,223,223)"/><circle cx="723.7" cy="355.8" r="0.77" fill="rgb(177,177,177)"/><circle cx="724.1" cy="357.8" r="0.58" fill="rgb(219,219,219)"/><circle cx="724.0" cy="359.7" r="0.72" fill="rgb(170,170,170)"/><circle cx="723.9" cy="361.7" r="0.84" fill="rgb(214,214,214)"/><circle cx="724.4" cy="363.6" r="0.80" fill="rgb(184,184,184)"/><circle cx="724.8" cy="365.6" r="0.88" fill="rgb(174,174,174)"/><circle cx="724.5" cy="367.5" r="0.63" fill="rgb(220,220,220)"/><circle cx="724.0" cy="369.4" r="0.59" fill="rgb(233,233,233)"/><circle cx="724.5" cy="371.4" r="0.80" fill="rgb(232,232,232)"/><circle cx="723.9" cy="373.3" r="0.84" fill="rgb(217,217,217)"/><circle cx="724.1" cy="375.3" r="0.88" fill="rgb(190,190,190)"/><circle cx="724.1" cy="377.2" r="0.74" fill="rgb(234,234,234)"/><circle cx="723.5" cy="379.2" r="0.83" fill="rgb(183,183,183)"/><circle cx="723.9" cy="381.1" r="0.60" fill="rgb(192,192,192)"/><circle cx="723.0" cy="383.1" r="0.65" fill="rgb(220,220,220)"/><circle cx="723.2" cy="385.0" r="0.71" fill="rgb(228,228,228)"/><circle cx="723.5" cy="387.0" r="0.90" fill="rgb(202,202,202)"/><circle cx="723.3" cy="388.9" r="0.71" fill="rgb(191,191,191)"/><circle cx="723.5" cy="390.9" r="0.79" fill="rgb(189,189,189)"/><circle cx="723.6" cy="392.8" r="0.61" fill="rgb(189,189,189)"/><circle cx="723.8" cy="394.8" r="0.75" fill="rgb(191,191,191)"/>
<g filter="url(#soft)"><path d="M724.0,336.3 C721.5,331.8 716.0,331.3 715.2,335.1 L716.5,340.3" fill="none" stroke="#a6cc48" stroke-width="2.5" stroke-linecap="round" stroke-linejoin="round"/>
<path d="M724.0,336.3 C726.5,330.8 732.0,329.8 734.0,336.3" fill="none" stroke="#a6cc48" stroke-width="2.5" stroke-linecap="round"/>
<line x1="724.0" y1="336.3" x2="724.5" y2="345.3" stroke="#d0d6c0" stroke-width="2.0" stroke-linecap="round"/></g>
<path d="M747.3,338.3 L748.4,349.0 L746.4,359.6 L748.5,370.3 L746.6,381.0 L747.2,391.7 L748.3,402.3 L746.9,413.0" fill="none" stroke="#9a9a9a" stroke-width="2.1" stroke-linejoin="round" opacity="0.75"/>
<circle cx="747.3" cy="338.3" r="0.55" fill="rgb(190,190,190)"/><circle cx="747.2" cy="340.4" r="0.90" fill="rgb(191,191,191)"/><circle cx="747.2" cy="342.6" r="0.76" fill="rgb(230,230,230)"/><circle cx="748.3" cy="344.7" r="0.93" fill="rgb(213,213,213)"/><circle cx="748.4" cy="346.8" r="0.84" fill="rgb(197,197,197)"/><circle cx="748.2" cy="349.0" r="0.78" fill="rgb(227,227,227)"/><circle cx="748.2" cy="351.1" r="0.91" fill="rgb(209,209,209)"/><circle cx="747.5" cy="353.2" r="0.67" fill="rgb(171,171,171)"/><circle cx="747.0" cy="355.4" r="0.64" fill="rgb(224,224,224)"/><circle cx="747.0" cy="357.5" r="0.62" fill="rgb(194,194,194)"/><circle cx="746.7" cy="359.6" r="0.56" fill="rgb(195,195,195)"/><circle cx="746.6" cy="361.8" r="0.81" fill="rgb(183,183,183)"/><circle cx="747.2" cy="363.9" r="0.95" fill="rgb(232,232,232)"/><circle cx="748.1" cy="366.0" r="0.93" fill="rgb(217,217,217)"/><circle cx="748.6" cy="368.2" r="0.69" fill="rgb(190,190,190)"/><circle cx="748.4" cy="370.3" r="0.69" fill="rgb(219,219,219)"/><circle cx="748.1" cy="372.4" r="0.77" fill="rgb(216,216,216)"/><circle cx="748.2" cy="374.6" r="0.59" fill="rgb(179,179,179)"/><circle cx="746.8" cy="376.7" r="0.60" fill="rgb(228,228,228)"/><circle cx="747.2" cy="378.9" r="0.81" fill="rgb(198,198,198)"/><circle cx="746.4" cy="381.0" r="0.93" fill="rgb(187,187,187)"/><circle cx="746.3" cy="383.1" r="0.65" fill="rgb(205,205,205)"/><circle cx="747.4" cy="385.3" r="0.94" fill="rgb(215,215,215)"/><circle cx="747.5" cy="387.4" r="0.89" fill="rgb(211,211,211)"/><circle cx="747.0" cy="389.5" r="0.74" fill="rgb(178,178,178)"/><circle cx="747.8" cy="391.7" r="0.71" fill="rgb(203,203,203)"/><circle cx="747.7" cy="393.8" r="0.62" fill="rgb(191,191,191)"/><circle cx="748.0" cy="395.9" r="0.80" fill="rgb(174,174,174)"/><circle cx="747.7" cy="398.1" r="0.74" fill="rgb(222,222,222)"/><circle cx="747.7" cy="400.2" r="0.62" fill="rgb(173,173,173)"/><circle cx="748.1" cy="402.3" r="0.86" fill="rgb(206,206,206)"/><circle cx="747.7" cy="404.5" r="0.62" fill="rgb(174,174,174)"/><circle cx="748.4" cy="406.6" r="0.59" fill="rgb(209,209,209)"/><circle cx="747.5" cy="408.7" r="0.91" fill="rgb(235,235,235)"/><circle cx="747.5" cy="410.9" r="0.69" fill="rgb(221,221,221)"/>
<g filter="url(#soft)"><path d="M747.3,336.3 C744.8,331.8 739.3,331.3 738.5,335.1 L739.8,340.3" fill="none" stroke="#a6cc48" stroke-width="2.5" stroke-linecap="round" stroke-linejoin="round"/>
<path d="M747.3,336.3 C749.8,330.8 755.3,329.8 757.3,336.3" fill="none" stroke="#a6cc48" stroke-width="2.5" stroke-linecap="round"/>
<line x1="747.3" y1="336.3" x2="747.8" y2="345.3" stroke="#d0d6c0" stroke-width="2.0" stroke-linecap="round"/></g>
<path d="M794.2,341.4 L795.3,347.8 L793.7,354.2 L794.1,360.6" fill="none" stroke="#9a9a9a" stroke-width="2.8" stroke-linejoin="round" opacity="0.75"/>
<circle cx="793.8" cy="341.4" r="0.61" fill="rgb(183,183,183)"/><circle cx="794.8" cy="343.5" r="0.84" fill="rgb(197,197,197)"/><circle cx="794.8" cy="345.7" r="0.64" fill="rgb(218,218,218)"/><circle cx="795.4" cy="347.8" r="0.68" fill="rgb(234,234,234)"/><circle cx="794.5" cy="349.9" r="0.89" fill="rgb(227,227,227)"/><circle cx="793.7" cy="352.1" r="0.69" fill="rgb(232,232,232)"/><circle cx="794.2" cy="354.2" r="0.66" fill="rgb(173,173,173)"/><circle cx="794.1" cy="356.3" r="0.75" fill="rgb(185,185,185)"/><circle cx="794.4" cy="358.5" r="0.60" fill="rgb(178,178,178)"/>
<g filter="url(#soft)"><path d="M794.2,339.4 C792.2,335.8 787.8,335.4 787.2,338.4 L788.2,342.6" fill="none" stroke="#a6cc48" stroke-width="2.0" stroke-linecap="round" stroke-linejoin="round"/>
<path d="M794.2,339.4 C796.2,335.0 800.6,334.2 802.2,339.4" fill="none" stroke="#a6cc48" stroke-width="2.0" stroke-linecap="round"/>
<line x1="794.2" y1="339.4" x2="794.7" y2="346.6" stroke="#d0d6c0" stroke-width="2.7" stroke-linecap="round"/></g>
<path d="M814.8,341.4 L814.3,347.8 L815.1,354.2 L813.5,360.6" fill="none" stroke="#9a9a9a" stroke-width="2.8" stroke-linejoin="round" opacity="0.75"/>
<circle cx="815.4" cy="341.4" r="0.66" fill="rgb(195,195,195)"/><circle cx="814.3" cy="343.5" r="0.79" fill="rgb(177,177,177)"/><circle cx="814.5" cy="345.7" r="0.92" fill="rgb(216,216,216)"/><circle cx="814.3" cy="347.8" r="0.69" fill="rgb(186,186,186)"/><circle cx="814.2" cy="349.9" r="0.79" fill="rgb(214,214,214)"/><circle cx="814.7" cy="352.1" r="0.94" fill="rgb(194,194,194)"/><circle cx="814.9" cy="354.2" r="0.73" fill="rgb(225,225,225)"/><circle cx="814.1" cy="356.3" r="0.65" fill="rgb(172,172,172)"/><circle cx="813.6" cy="358.5" r="0.87" fill="rgb(201,201,201)"/>
<g filter="url(#soft)"><path d="M814.8,339.4 C812.8,335.8 808.4,335.4 807.8,338.4 L808.8,342.6" fill="none" stroke="#a6cc48" stroke-width="2.0" stroke-linecap="round" stroke-linejoin="round"/>
<path d="M814.8,339.4 C816.8,335.0 821.2,334.2 822.8,339.4" fill="none" stroke="#a6cc48" stroke-width="2.0" stroke-linecap="round"/>
<line x1="814.8" y1="339.4" x2="815.3" y2="346.6" stroke="#d0d6c0" stroke-width="2.7" stroke-linecap="round"/></g>
<path d="M836.7,341.4 L835.6,347.8 L836.9,354.2 L838.0,360.6" fill="none" stroke="#9a9a9a" stroke-width="2.8" stroke-linejoin="round" opacity="0.75"/>
<circle cx="836.5" cy="341.4" r="0.67" fill="rgb(217,217,217)"/><circle cx="836.6" cy="343.5" r="0.94" fill="rgb(186,186,186)"/><circle cx="836.2" cy="345.7" r="0.64" fill="rgb(213,213,213)"/><circle cx="835.2" cy="347.8" r="0.83" fill="rgb(173,173,173)"/><circle cx="835.7" cy="349.9" r="0.73" fill="rgb(171,171,171)"/><circle cx="836.8" cy="352.1" r="0.75" fill="rgb(181,181,181)"/><circle cx="837.2" cy="354.2" r="0.90" fill="rgb(223,223,223)"/><circle cx="837.0" cy="356.3" r="0.64" fill="rgb(217,217,217)"/><circle cx="838.1" cy="358.5" r="0.69" fill="rgb(201,201,201)"/>
<g filter="url(#soft)"><path d="M836.7,339.4 C834.7,335.8 830.3,335.4 829.7,338.4 L830.7,342.6" fill="none" stroke="#a6cc48" stroke-width="2.0" stroke-linecap="round" stroke-linejoin="round"/>
<path d="M836.7,339.4 C838.7,335.0 843.1,334.2 844.7,339.4" fill="none" stroke="#a6cc48" stroke-width="2.0" stroke-linecap="round"/>
<line x1="836.7" y1="339.4" x2="837.2" y2="346.6" stroke="#d0d6c0" stroke-width="2.7" stroke-linecap="round"/></g>
<path d="M890.3,341.4 L889.7,347.8 L890.4,354.2 L890.8,360.6" fill="none" stroke="#9a9a9a" stroke-width="1.6" stroke-linejoin="round" opacity="0.75"/>
<circle cx="890.9" cy="341.4" r="0.70" fill="rgb(217,217,217)"/><circle cx="890.0" cy="343.5" r="0.77" fill="rgb(173,173,173)"/><circle cx="890.3" cy="345.7" r="0.92" fill="rgb(219,219,219)"/><circle cx="890.2" cy="347.8" r="0.71" fill="rgb(176,176,176)"/><circle cx="889.5" cy="349.9" r="0.61" fill="rgb(171,171,171)"/><circle cx="890.3" cy="352.1" r="0.64" fill="rgb(190,190,190)"/><circle cx="890.2" cy="354.2" r="0.80" fill="rgb(192,192,192)"/><circle cx="891.1" cy="356.3" r="0.65" fill="rgb(204,204,204)"/><circle cx="890.2" cy="358.5" r="0.81" fill="rgb(182,182,182)"/>
<g filter="url(#soft)"><path d="M890.3,339.4 C888.8,336.7 885.5,336.4 885.0,338.7 L885.8,341.8" fill="none" stroke="#c8e070" stroke-width="1.5" stroke-linecap="round" stroke-linejoin="round"/>
<path d="M890.3,339.4 C891.8,336.1 895.1,335.5 896.3,339.4" fill="none" stroke="#c8e070" stroke-width="1.5" stroke-linecap="round"/>
<line x1="890.3" y1="339.4" x2="890.8" y2="344.8" stroke="#d0d6c0" stroke-width="1.5" stroke-linecap="round"/></g>
<path d="M910.9,341.4 L910.9,347.8 L910.8,354.2 L911.1,360.6" fill="none" stroke="#9a9a9a" stroke-width="1.6" stroke-linejoin="round" opacity="0.75"/>
<circle cx="910.8" cy="341.4" r="0.61" fill="rgb(172,172,172)"/><circle cx="910.8" cy="343.5" r="0.91" fill="rgb(170,170,170)"/><circle cx="910.7" cy="345.7" r="0.64" fill="rgb(215,215,215)"/><circle cx="911.1" cy="347.8" r="0.63" fill="rgb(179,179,179)"/><circle cx="911.2" cy="349.9" r="0.95" fill="rgb(193,193,193)"/><circle cx="911.2" cy="352.1" r="0.62" fill="rgb(212,212,212)"/><circle cx="911.2" cy="354.2" r="0.81" fill="rgb(199,199,199)"/><circle cx="910.8" cy="356.3" r="0.56" fill="rgb(227,227,227)"/><circle cx="911.5" cy="358.5" r="0.69" fill="rgb(225,225,225)"/>
<g filter="url(#soft)"><path d="M910.9,339.4 C909.4,336.7 906.1,336.4 905.6,338.7 L906.4,341.8" fill="none" stroke="#c8e070" stroke-width="1.5" stroke-linecap="round" stroke-linejoin="round"/>
<path d="M910.9,339.4 C912.4,336.1 915.7,335.5 916.9,339.4" fill="none" stroke="#c8e070" stroke-width="1.5" stroke-linecap="round"/>
<line x1="910.9" y1="339.4" x2="911.4" y2="344.8" stroke="#d0d6c0" stroke-width="1.5" stroke-linecap="round"/></g>
<path d="M929.7,341.4 L928.8,347.8 L929.7,354.2 L929.7,360.6" fill="none" stroke="#9a9a9a" stroke-width="1.6" stroke-linejoin="round" opacity="0.75"/>
<circle cx="930.3" cy="341.4" r="0.87" fill="rgb(192,192,192)"/><circle cx="929.6" cy="343.5" r="0.86" fill="rgb(190,190,190)"/><circle cx="928.5" cy="345.7" r="0.78" fill="rgb(230,230,230)"/><circle cx="928.3" cy="347.8" r="0.77" fill="rgb(209,209,209)"/><circle cx="928.6" cy="349.9" r="0.58" fill="rgb(231,231,231)"/><circle cx="929.2" cy="352.1" r="0.86" fill="rgb(214,214,214)"/><circle cx="929.2" cy="354.2" r="0.88" fill="rgb(193,193,193)"/><circle cx="929.4" cy="356.3" r="0.56" fill="rgb(208,208,208)"/><circle cx="929.5" cy="358.5" r="0.72" fill="rgb(226,226,226)"/>
<g filter="url(#soft)"><path d="M929.7,339.4 C928.2,336.7 924.9,336.4 924.4,338.7 L925.2,341.8" fill="none" stroke="#c8e070" stroke-width="1.5" stroke-linecap="round" stroke-linejoin="round"/>
<path d="M929.7,339.4 C931.2,336.1 934.5,335.5 935.7,339.4" fill="none" stroke="#c8e070" stroke-width="1.5" stroke-linecap="round"/>
<line x1="929.7" y1="339.4" x2="930.2" y2="344.8" stroke="#d0d6c0" stroke-width="1.5" stroke-linecap="round"/></g>
<path d="M701.8,441.0 L701.0,451.5 L700.7,462.1 L702.2,472.6 L702.0,483.1 L702.1,493.7 L701.4,504.2" fill="none" stroke="#9a9a9a" stroke-width="2.1" stroke-linejoin="round" opacity="0.75"/>
<circle cx="701.7" cy="441.0" r="0.66" fill="rgb(209,209,209)"/><circle cx="701.4" cy="443.1" r="0.77" fill="rgb(179,179,179)"/><circle cx="701.1" cy="445.2" r="0.70" fill="rgb(218,218,218)"/><circle cx="701.7" cy="447.3" r="0.77" fill="rgb(186,186,186)"/><circle cx="701.2" cy="449.4" r="0.82" fill="rgb(176,176,176)"/><circle cx="700.5" cy="451.5" r="0.67" fill="rgb(234,234,234)"/><circle cx="701.3" cy="453.6" r="0.59" fill="rgb(185,185,185)"/><circle cx="700.8" cy="455.7" r="0.55" fill="rgb(171,171,171)"/><circle cx="700.5" cy="457.9" r="0.94" fill="rgb(190,190,190)"/><circle cx="701.4" cy="460.0" r="0.75" fill="rgb(225,225,225)"/><circle cx="701.3" cy="462.1" r="0.74" fill="rgb(178,178,178)"/><circle cx="701.3" cy="464.2" r="0.78" fill="rgb(213,213,213)"/><circle cx="701.7" cy="466.3" r="0.67" fill="rgb(217,217,217)"/><circle cx="702.1" cy="468.4" r="0.75" fill="rgb(224,224,224)"/><circle cx="702.0" cy="470.5" r="0.75" fill="rgb(177,177,177)"/><circle cx="702.3" cy="472.6" r="0.72" fill="rgb(233,233,233)"/><circle cx="702.7" cy="474.7" r="0.92" fill="rgb(193,193,193)"/><circle cx="702.4" cy="476.8" r="0.67" fill="rgb(194,194,194)"/><circle cx="702.2" cy="478.9" r="0.61" fill="rgb(231,231,231)"/><circle cx="702.1" cy="481.0" r="0.86" fill="rgb(186,186,186)"/><circle cx="701.7" cy="483.1" r="0.82" fill="rgb(208,208,208)"/><circle cx="701.7" cy="485.2" r="0.80" fill="rgb(192,192,192)"/><circle cx="701.8" cy="487.3" r="0.60" fill="rgb(218,218,218)"/><circle cx="701.6" cy="489.5" r="0.90" fill="rgb(233,233,233)"/><circle cx="702.4" cy="491.6" r="0.72" fill="rgb(170,170,170)"/><circle cx="702.2" cy="493.7" r="0.60" fill="rgb(220,220,220)"/><circle cx="701.4" cy="495.8" r="0.93" fill="rgb(222,222,222)"/><circle cx="702.3" cy="497.9" r="0.58" fill="rgb(234,234,234)"/><circle cx="701.5" cy="500.0" r="0.90" fill="rgb(218,218,218)"/><circle cx="701.1" cy="502.1" r="0.59" fill="rgb(224,224,224)"/>
<g filter="url(#soft)"><path d="M701.8,439.0 C699.3,434.5 693.8,434.0 693.0,437.8 L694.3,443.0" fill="none" stroke="#a6cc48" stroke-width="2.5" stroke-linecap="round" stroke-linejoin="round"/>
<path d="M701.8,439.0 C704.3,433.5 709.8,432.5 711.8,439.0" fill="none" stroke="#a6cc48" stroke-width="2.5" stroke-linecap="round"/>
<line x1="701.8" y1="439.0" x2="702.3" y2="448.0" stroke="#d0d6c0" stroke-width="2.0" stroke-linecap="round"/></g>
<path d="M732.1,441.0 L731.0,450.6 L731.2,460.2 L732.6,469.8 L731.2,479.4 L733.3,489.0" fill="none" stroke="#9a9a9a" stroke-width="2.1" stroke-linejoin="round" opacity="0.75"/>
<circle cx="732.5" cy="441.0" r="0.74" fill="rgb(226,226,226)"/><circle cx="732.3" cy="442.9" r="0.63" fill="rgb(201,201,201)"/><circle cx="732.1" cy="444.8" r="0.64" fill="rgb(232,232,232)"/><circle cx="731.8" cy="446.8" r="0.85" fill="rgb(219,219,219)"/><circle cx="731.6" cy="448.7" r="0.87" fill="rgb(181,181,181)"/><circle cx="731.2" cy="450.6" r="0.70" fill="rgb(208,208,208)"/><circle cx="731.4" cy="452.5" r="0.70" fill="rgb(214,214,214)"/><circle cx="731.7" cy="454.4" r="0.62" fill="rgb(225,225,225)"/><circle cx="730.8" cy="456.4" r="0.85" fill="rgb(217,217,217)"/><circle cx="731.3" cy="458.3" r="0.91" fill="rgb(197,197,197)"/><circle cx="731.6" cy="460.2" r="0.91" fill="rgb(177,177,177)"/><circle cx="731.4" cy="462.1" r="0.58" fill="rgb(195,195,195)"/><circle cx="731.8" cy="464.0" r="0.80" fill="rgb(223,223,223)"/><circle cx="732.4" cy="466.0" r="0.86" fill="rgb(215,215,215)"/><circle cx="732.4" cy="467.9" r="0.82" fill="rgb(226,226,226)"/><circle cx="732.4" cy="469.8" r="0.82" fill="rgb(195,195,195)"/><circle cx="732.2" cy="471.7" r="0.57" fill="rgb(215,215,215)"/><circle cx="731.9" cy="473.6" r="0.90" fill="rgb(235,235,235)"/><circle cx="731.4" cy="475.6" r="0.79" fill="rgb(188,188,188)"/><circle cx="731.4" cy="477.5" r="0.88" fill="rgb(171,171,171)"/><circle cx="731.0" cy="479.4" r="0.56" fill="rgb(190,190,190)"/><circle cx="731.9" cy="481.3" r="0.55" fill="rgb(223,223,223)"/><circle cx="732.2" cy="483.2" r="0.63" fill="rgb(208,208,208)"/><circle cx="732.3" cy="485.2" r="0.88" fill="rgb(222,222,222)"/><circle cx="733.0" cy="487.1" r="0.65" fill="rgb(199,199,199)"/>
<g filter="url(#soft)"><path d="M732.1,439.0 C729.6,434.5 724.1,434.0 723.3,437.8 L724.6,443.0" fill="none" stroke="#a6cc48" stroke-width="2.5" stroke-linecap="round" stroke-linejoin="round"/>
<path d="M732.1,439.0 C734.6,433.5 740.1,432.5 742.1,439.0" fill="none" stroke="#a6cc48" stroke-width="2.5" stroke-linecap="round"/>
<line x1="732.1" y1="439.0" x2="732.6" y2="448.0" stroke="#d0d6c0" stroke-width="2.0" stroke-linecap="round"/></g>
<path d="M749.4,441.0 L749.2,451.8 L749.6,462.6 L749.6,473.4 L749.6,484.2 L750.2,495.0" fill="none" stroke="#9a9a9a" stroke-width="2.1" stroke-linejoin="round" opacity="0.75"/>
<circle cx="750.0" cy="441.0" r="0.78" fill="rgb(182,182,182)"/><circle cx="749.3" cy="443.2" r="0.78" fill="rgb(179,179,179)"/><circle cx="749.5" cy="445.3" r="0.57" fill="rgb(177,177,177)"/><circle cx="748.7" cy="447.5" r="0.90" fill="rgb(191,191,191)"/><circle cx="748.8" cy="449.6" r="0.84" fill="rgb(190,190,190)"/><circle cx="749.2" cy="451.8" r="0.84" fill="rgb(191,191,191)"/><circle cx="749.5" cy="454.0" r="0.87" fill="rgb(189,189,189)"/><circle cx="748.8" cy="456.1" r="0.71" fill="rgb(216,216,216)"/><circle cx="749.1" cy="458.3" r="0.83" fill="rgb(191,191,191)"/><circle cx="749.2" cy="460.4" r="0.94" fill="rgb(192,192,192)"/><circle cx="750.0" cy="462.6" r="0.74" fill="rgb(188,188,188)"/><circle cx="749.0" cy="464.8" r="0.67" fill="rgb(206,206,206)"/><circle cx="749.8" cy="466.9" r="0.90" fill="rgb(182,182,182)"/><circle cx="750.0" cy="469.1" r="0.69" fill="rgb(177,177,177)"/><circle cx="749.1" cy="471.2" r="0.68" fill="rgb(209,209,209)"/><circle cx="749.0" cy="473.4" r="0.75" fill="rgb(233,233,233)"/><circle cx="749.3" cy="475.6" r="0.90" fill="rgb(210,210,210)"/><circle cx="749.9" cy="477.7" r="0.77" fill="rgb(198,198,198)"/><circle cx="750.2" cy="479.9" r="0.88" fill="rgb(232,232,232)"/><circle cx="749.2" cy="482.0" r="0.55" fill="rgb(210,210,210)"/><circle cx="749.1" cy="484.2" r="0.94" fill="rgb(215,215,215)"/><circle cx="750.0" cy="486.4" r="0.90" fill="rgb(181,181,181)"/><circle cx="750.4" cy="488.5" r="0.68" fill="rgb(234,234,234)"/><circle cx="750.0" cy="490.7" r="0.56" fill="rgb(183,183,183)"/><circle cx="750.1" cy="492.8" r="0.71" fill="rgb(222,222,222)"/>
<g filter="url(#soft)"><path d="M749.4,439.0 C746.9,434.5 741.4,434.0 740.6,437.8 L741.9,443.0" fill="none" stroke="#a6cc48" stroke-width="2.5" stroke-linecap="round" stroke-linejoin="round"/>
<path d="M749.4,439.0 C751.9,433.5 757.4,432.5 759.4,439.0" fill="none" stroke="#a6cc48" stroke-width="2.5" stroke-linecap="round"/>
<line x1="749.4" y1="439.0" x2="749.9" y2="448.0" stroke="#d0d6c0" stroke-width="2.0" stroke-linecap="round"/></g>
<path d="M797.3,438.0 L796.4,446.9 L797.2,455.9 L798.0,464.8" fill="none" stroke="#9a9a9a" stroke-width="2.6" stroke-linejoin="round" opacity="0.75"/>
<circle cx="797.5" cy="438.0" r="0.72" fill="rgb(214,214,214)"/><circle cx="797.5" cy="439.8" r="0.58" fill="rgb(185,185,185)"/><circle cx="796.9" cy="441.6" r="0.81" fill="rgb(176,176,176)"/><circle cx="796.9" cy="443.4" r="0.68" fill="rgb(196,196,196)"/><circle cx="796.3" cy="445.1" r="0.93" fill="rgb(196,196,196)"/><circle cx="795.9" cy="446.9" r="0.70" fill="rgb(214,214,214)"/><circle cx="796.4" cy="448.7" r="0.71" fill="rgb(196,196,196)"/><circle cx="796.7" cy="450.5" r="0.91" fill="rgb(205,205,205)"/><circle cx="797.2" cy="452.3" r="0.89" fill="rgb(190,190,190)"/><circle cx="797.2" cy="454.1" r="0.55" fill="rgb(193,193,193)"/><circle cx="797.1" cy="455.9" r="0.63" fill="rgb(190,190,190)"/><circle cx="797.8" cy="457.7" r="0.94" fill="rgb(200,200,200)"/><circle cx="797.9" cy="459.4" r="0.60" fill="rgb(219,219,219)"/><circle cx="797.7" cy="461.2" r="0.79" fill="rgb(176,176,176)"/><circle cx="798.1" cy="463.0" r="0.84" fill="rgb(234,234,234)"/>
<g filter="url(#soft)"><path d="M797.3,436.0 C795.3,432.4 790.9,432.0 790.3,435.0 L791.3,439.2" fill="none" stroke="#a6cc48" stroke-width="2.0" stroke-linecap="round" stroke-linejoin="round"/>
<path d="M797.3,436.0 C799.3,431.6 803.7,430.8 805.3,436.0" fill="none" stroke="#a6cc48" stroke-width="2.0" stroke-linecap="round"/>
<line x1="797.3" y1="436.0" x2="797.8" y2="443.2" stroke="#d0d6c0" stroke-width="2.5" stroke-linecap="round"/></g>
<path d="M817.6,438.0 L817.8,444.9 L816.8,451.9 L818.8,458.8" fill="none" stroke="#9a9a9a" stroke-width="2.6" stroke-linejoin="round" opacity="0.75"/>
<circle cx="818.1" cy="438.0" r="0.57" fill="rgb(229,229,229)"/><circle cx="817.7" cy="439.7" r="0.92" fill="rgb(198,198,198)"/><circle cx="817.7" cy="441.5" r="0.68" fill="rgb(197,197,197)"/><circle cx="817.7" cy="443.2" r="0.63" fill="rgb(202,202,202)"/><circle cx="817.3" cy="444.9" r="0.63" fill="rgb(216,216,216)"/><circle cx="817.9" cy="446.7" r="0.80" fill="rgb(200,200,200)"/><circle cx="817.2" cy="448.4" r="0.58" fill="rgb(196,196,196)"/><circle cx="817.0" cy="450.1" r="0.59" fill="rgb(197,197,197)"/><circle cx="817.2" cy="451.9" r="0.82" fill="rgb(212,212,212)"/><circle cx="817.8" cy="453.6" r="0.86" fill="rgb(220,220,220)"/><circle cx="817.5" cy="455.3" r="0.71" fill="rgb(179,179,179)"/><circle cx="818.5" cy="457.1" r="0.90" fill="rgb(170,170,170)"/>
<g filter="url(#soft)"><path d="M817.6,436.0 C815.6,432.4 811.2,432.0 810.6,435.0 L811.6,439.2" fill="none" stroke="#a6cc48" stroke-width="2.0" stroke-linecap="round" stroke-linejoin="round"/>
<path d="M817.6,436.0 C819.6,431.6 824.0,430.8 825.6,436.0" fill="none" stroke="#a6cc48" stroke-width="2.0" stroke-linecap="round"/>
<line x1="817.6" y1="436.0" x2="818.1" y2="443.2" stroke="#d0d6c0" stroke-width="2.5" stroke-linecap="round"/></g>
<path d="M839.7,438.0 L838.8,445.9 L840.0,453.9 L838.8,461.8" fill="none" stroke="#9a9a9a" stroke-width="2.6" stroke-linejoin="round" opacity="0.75"/>
<circle cx="840.0" cy="438.0" r="0.70" fill="rgb(193,193,193)"/><circle cx="839.6" cy="440.0" r="0.84" fill="rgb(175,175,175)"/><circle cx="839.3" cy="442.0" r="0.84" fill="rgb(193,193,193)"/><circle cx="838.9" cy="443.9" r="0.75" fill="rgb(199,199,199)"/><circle cx="838.3" cy="445.9" r="0.83" fill="rgb(176,176,176)"/><circle cx="839.2" cy="447.9" r="0.91" fill="rgb(226,226,226)"/><circle cx="839.8" cy="449.9" r="0.75" fill="rgb(188,188,188)"/><circle cx="839.6" cy="451.9" r="0.82" fill="rgb(231,231,231)"/><circle cx="839.7" cy="453.9" r="0.88" fill="rgb(181,181,181)"/><circle cx="839.6" cy="455.9" r="0.75" fill="rgb(194,194,194)"/><circle cx="839.7" cy="457.8" r="0.89" fill="rgb(225,225,225)"/><circle cx="838.7" cy="459.8" r="0.70" fill="rgb(191,191,191)"/>
<g filter="url(#soft)"><path d="M839.7,436.0 C837.7,432.4 833.3,432.0 832.7,435.0 L833.7,439.2" fill="none" stroke="#a6cc48" stroke-width="2.0" stroke-linecap="round" stroke-linejoin="round"/>
<path d="M839.7,436.0 C841.7,431.6 846.1,430.8 847.7,436.0" fill="none" stroke="#a6cc48" stroke-width="2.0" stroke-linecap="round"/>
<line x1="839.7" y1="436.0" x2="840.2" y2="443.2" stroke="#d0d6c0" stroke-width="2.5" stroke-linecap="round"/></g>
<path d="M892.7,441.0 L893.8,447.4 L892.4,453.9 L893.5,460.3" fill="none" stroke="#9a9a9a" stroke-width="1.6" stroke-linejoin="round" opacity="0.75"/>
<circle cx="892.4" cy="441.0" r="0.84" fill="rgb(231,231,231)"/><circle cx="893.2" cy="443.1" r="0.77" fill="rgb(179,179,179)"/><circle cx="893.5" cy="445.3" r="0.60" fill="rgb(175,175,175)"/><circle cx="893.8" cy="447.4" r="0.61" fill="rgb(180,180,180)"/><circle cx="893.5" cy="449.6" r="0.93" fill="rgb(224,224,224)"/><circle cx="893.2" cy="451.7" r="0.66" fill="rgb(199,199,199)"/><circle cx="892.2" cy="453.9" r="0.59" fill="rgb(234,234,234)"/><circle cx="892.7" cy="456.0" r="0.66" fill="rgb(228,228,228)"/><circle cx="893.6" cy="458.2" r="0.63" fill="rgb(186,186,186)"/>
<g filter="url(#soft)"><path d="M892.7,439.0 C891.1,436.1 887.5,435.8 887.0,438.2 L887.8,441.6" fill="none" stroke="#c8e070" stroke-width="1.6" stroke-linecap="round" stroke-linejoin="round"/>
<path d="M892.7,439.0 C894.3,435.4 897.9,434.8 899.2,439.0" fill="none" stroke="#c8e070" stroke-width="1.6" stroke-linecap="round"/>
<line x1="892.7" y1="439.0" x2="893.2" y2="444.9" stroke="#d0d6c0" stroke-width="1.5" stroke-linecap="round"/></g>
<path d="M912.4,441.0 L913.3,447.4 L911.7,453.9 L913.6,460.3" fill="none" stroke="#9a9a9a" stroke-width="1.6" stroke-linejoin="round" opacity="0.75"/>
<circle cx="912.4" cy="441.0" r="0.72" fill="rgb(220,220,220)"/><circle cx="913.1" cy="443.1" r="0.83" fill="rgb(194,194,194)"/><circle cx="913.0" cy="445.3" r="0.82" fill="rgb(193,193,193)"/><circle cx="913.2" cy="447.4" r="0.84" fill="rgb(219,219,219)"/><circle cx="912.6" cy="449.6" r="0.75" fill="rgb(214,214,214)"/><circle cx="911.6" cy="451.7" r="0.91" fill="rgb(200,200,200)"/><circle cx="911.6" cy="453.9" r="0.90" fill="rgb(178,178,178)"/><circle cx="912.6" cy="456.0" r="0.67" fill="rgb(183,183,183)"/><circle cx="912.7" cy="458.2" r="0.69" fill="rgb(197,197,197)"/>
<g filter="url(#soft)"><path d="M912.4,439.0 C910.8,436.1 907.2,435.8 906.7,438.2 L907.5,441.6" fill="none" stroke="#c8e070" stroke-width="1.6" stroke-linecap="round" stroke-linejoin="round"/>
<path d="M912.4,439.0 C914.0,435.4 917.6,434.8 918.9,439.0" fill="none" stroke="#c8e070" stroke-width="1.6" stroke-linecap="round"/>
<line x1="912.4" y1="439.0" x2="912.9" y2="444.9" stroke="#d0d6c0" stroke-width="1.5" stroke-linecap="round"/></g>
<path d="M933.6,441.0 L933.6,447.4 L934.0,453.9 L933.9,460.3" fill="none" stroke="#9a9a9a" stroke-width="1.6" stroke-linejoin="round" opacity="0.75"/>
<circle cx="933.8" cy="441.0" r="0.85" fill="rgb(223,223,223)"/><circle cx="933.2" cy="443.1" r="0.76" fill="rgb(198,198,198)"/><circle cx="933.0" cy="445.3" r="0.84" fill="rgb(200,200,200)"/><circle cx="933.5" cy="447.4" r="0.63" fill="rgb(214,214,214)"/><circle cx="934.0" cy="449.6" r="0.85" fill="rgb(191,191,191)"/><circle cx="933.9" cy="451.7" r="0.79" fill="rgb(222,222,222)"/><circle cx="933.7" cy="453.9" r="0.58" fill="rgb(178,178,178)"/><circle cx="933.7" cy="456.0" r="0.81" fill="rgb(220,220,220)"/><circle cx="934.4" cy="458.2" r="0.58" fill="rgb(171,171,171)"/>
<g filter="url(#soft)"><path d="M933.6,439.0 C932.0,436.1 928.4,435.8 927.9,438.2 L928.7,441.6" fill="none" stroke="#c8e070" stroke-width="1.6" stroke-linecap="round" stroke-linejoin="round"/>
<path d="M933.6,439.0 C935.2,435.4 938.8,434.8 940.1,439.0" fill="none" stroke="#c8e070" stroke-width="1.6" stroke-linecap="round"/>
<line x1="933.6" y1="439.0" x2="934.1" y2="444.9" stroke="#d0d6c0" stroke-width="1.5" stroke-linecap="round"/></g>
<line x1="920.50" y1="193.40" x2="951.00" y2="193.40" stroke="#f4f4f4" stroke-width="2"/>
<text x="952.00" y="211.00" font-size="15" text-anchor="end" fill="#fff" style="font-family:'Liberation Sans', sans-serif;" textLength="39.5" lengthAdjust="spacingAndGlyphs">Col-0</text>
<line x1="920.50" y1="290.00" x2="951.00" y2="290.00" stroke="#f4f4f4" stroke-width="2"/>
<text x="952.00" y="310.60" font-size="15" text-anchor="end" fill="#fff" style="font-family:'Liberation Sans', sans-serif;font-style:italic;" textLength="51" lengthAdjust="spacingAndGlyphs">rfc4e-1</text>
<line x1="920.50" y1="392.00" x2="951.00" y2="392.00" stroke="#f4f4f4" stroke-width="2"/>
<text x="952.00" y="408.80" font-size="15" text-anchor="end" fill="#fff" style="font-family:'Liberation Sans', sans-serif;font-style:italic;" textLength="51" lengthAdjust="spacingAndGlyphs">rfc4e-2</text>
<line x1="920.50" y1="494.80" x2="951.00" y2="494.80" stroke="#f4f4f4" stroke-width="2"/>
<text x="952.00" y="512.20" font-size="15" text-anchor="end" fill="#fff" style="font-family:'Liberation Sans', sans-serif;font-style:italic;" textLength="51" lengthAdjust="spacingAndGlyphs">rfc4e-3</text>
<text x="645.00" y="62.90" font-size="22.5" text-anchor="start" fill="#111" style="font-family:'Liberation Serif', serif;" stroke="#111" stroke-width="0.15">C</text>
<text x="727.80" y="43.00" font-size="16.5" text-anchor="middle" fill="#111" style="font-family:'Liberation Sans', sans-serif;">Mock</text>
<text x="818.00" y="31.00" font-size="16.5" text-anchor="middle" fill="#111" style="font-family:'Liberation Sans', sans-serif;">ZEO</text>
<text x="818.20" y="49.00" font-size="16.5" text-anchor="middle" fill="#111" style="font-family:'Liberation Sans', sans-serif;">(3 μg·mL<tspan font-size="10" dy="-6">-1</tspan><tspan dy="6">)</tspan></text>
<text x="910.00" y="31.00" font-size="16.5" text-anchor="middle" fill="#111" style="font-family:'Liberation Sans', sans-serif;">MMS</text>
<text x="910.30" y="49.50" font-size="16.5" text-anchor="middle" fill="#111" style="font-family:'Liberation Sans', sans-serif;">(80 ppm)</text>
</svg>
</body></html>
